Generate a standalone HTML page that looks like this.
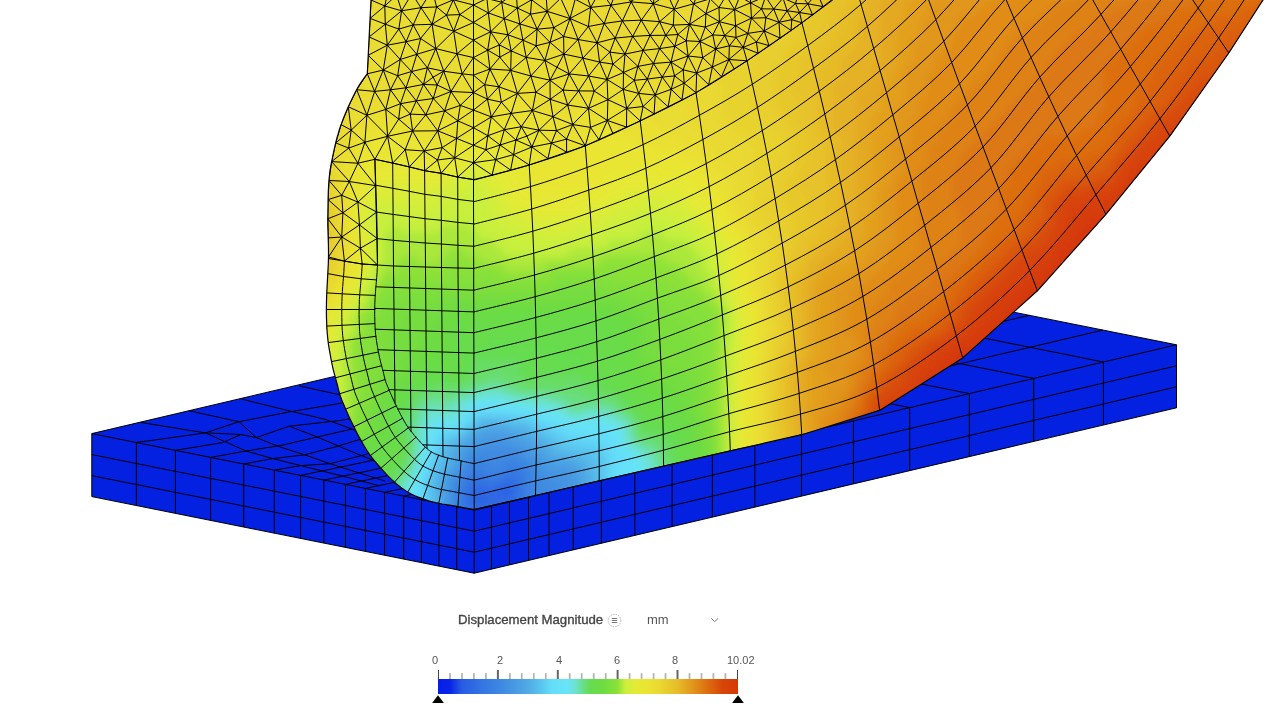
<!DOCTYPE html>
<html><head><meta charset="utf-8"><title>Displacement Magnitude</title>
<style>
html,body{margin:0;padding:0;background:#fff;overflow:hidden}
body{width:1267px;height:707px;position:relative;font-family:"Liberation Sans",sans-serif}
svg{position:absolute;left:0;top:0;display:block}
.t{position:absolute;color:#444;white-space:nowrap;line-height:1}
.tk{position:absolute;top:655px;font-size:11px;color:#555;line-height:1;white-space:nowrap}
</style></head><body>
<svg width="1267" height="707" viewBox="0 0 1267 707">
<path d="M91.8 433.6 L794.1 268.2 L1176.5 344.8 L1176.5 407.8 L474.2 573.2 L91.8 496.6Z" fill="#0420e0"/>
<path d="M91.8 433.6 L794.1 268.2 L1176.5 344.8 L1176.5 407.8 L474.2 573.2 L91.8 496.6 L91.8 433.6M91.8 433.6 L474.2 510.2 L1176.5 344.8M474.2 510.2 L474.2 573.2M136.4 442.5 L136.4 505.5M175.4 450.3 L175.4 513.3M210.6 457.4 L210.6 520.4M243.7 464 L243.7 527M274.3 470.2 L274.3 533.2M300.6 475.4 L300.6 538.4M323.9 480.1 L323.9 543.1M345.5 484.4 L345.5 547.4M365.5 488.4 L365.5 551.4M384.6 492.3 L384.6 555.3M403.7 496.1 L403.7 559.1M421.5 499.6 L421.5 562.6M438.9 503.1 L438.9 566.1M456.7 506.7 L456.7 569.7M491.5 506.1 L491.5 569.1M509.5 501.9 L509.5 564.9M528.5 497.4 L528.5 560.4M549 492.6 L549 555.6M573.2 486.9 L573.2 549.9M601.4 480.2 L601.4 543.2M634.8 472.4 L634.8 535.4M672.1 463.6 L672.1 526.6M712.4 454.1 L712.4 517.1M754.9 444.1 L754.9 507.1M801.5 433.1 L801.5 496.1M853.5 420.9 L853.5 483.9M909.7 407.6 L909.7 470.6M969.4 393.6 L969.4 456.6M1033.7 378.4 L1033.7 441.4M1103.4 362 L1103.4 425M91.8 454.6 L474.2 531.2 L1176.5 365.8M91.8 475.6 L474.2 552.2 L1176.5 386.8M909.7 407.6 L527.3 331M969.4 393.6 L587 317M1033.7 378.4 L651.3 301.8M1103.4 362 L721 285.4M716.6 421 L1102.9 330.1M643 406.3 L1029.3 315.3M569.4 391.5 L955.7 300.6M495.8 376.8 L882.1 285.8M136.4 442.5 L205.3 432.9 L239 421.7 L291.8 411.5 L340.2 403.3 L365 398.6M140.3 422.4 L205.3 432.9 L240.9 434.5 L256.2 437.6M189.5 410.9 L239 421.7 L256.2 437.6 L279 446.6 L304.6 454.8 L330 463.7 L356 472 L385 481M241.7 399.1 L291.8 411.5 L324.4 419.1 L352 429 L380 442 L400 451M299 385.8 L337 394.2 L365 398.6M175.4 450.3 L222.6 442.6 L240.9 434.5M210.6 457.4 L246 451 L281.6 445.3 L317.3 437 L352 429M243.7 464 L272.7 458.6 L304.6 454.8 L335 447 L368 437M274.3 470.2 L300.7 465.6 L330 463.7 L360 456 L385 449M289.3 426.2 L317.3 437 L350 451 L375 461 L400 470M256.2 437.6 L289.3 426.2 L340.2 420.5 L362 416.5M205.3 432.9 L246 451 L272.7 458.6 L300.7 465.6 L323.7 471.4 L350 478 L380 486M300.6 475.4 L410.6 452.4M323.9 480.1 L433.9 457.1M345.5 484.4 L455.5 461.4M365.5 488.4 L475.5 465.4M384.6 492.3 L494.6 469.3M403.7 496.1 L513.7 473.1M421.5 499.6 L531.5 476.6M438.9 503.1 L548.9 480.1M456.7 506.7 L566.7 483.7" fill="none" stroke="#000" stroke-width="1" stroke-linejoin="round"/>
<defs><clipPath id="bc"><path d="M371 0 L367.3 73.8 L366.3 75.1 L365 76.8 L363.5 78.9 L361.8 81.3 L360.1 83.9 L358.4 86.6 L356.8 89.5 L355 92.7 L353.3 96.2 L351.6 99.7 L349.8 103.4 L348.2 107 L346.6 110.7 L345 114.4 L343.5 118.2 L342 122.1 L340.6 126 L339.3 130 L338.1 134.1 L336.9 138.2 L335.8 142.4 L334.8 146.6 L333.9 150.8 L333 155 L332.2 159 L331.4 162.8 L330.7 166.6 L330 170.6 L329.5 175 L329 180 L328.6 185.7 L328.3 192 L328.1 198.7 L328 205.6 L327.9 212.4 L327.8 219 L327.8 225.3 L328 231.5 L328.2 237.7 L328.4 243.9 L328.5 250.3 L328.5 257 L328.3 264.1 L327.9 271.6 L327.5 279.3 L327.1 286.9 L326.7 294.2 L326.5 301 L326.4 307.2 L326.4 313 L326.5 318.5 L326.7 323.8 L326.9 328.9 L327.3 334 L327.8 339 L328.4 344 L329.2 348.8 L330 353.4 L330.8 357.8 L331.6 362 L332.4 365.9 L333.2 369.5 L334.1 372.9 L335 376.1 L335.8 379.2 L336.7 382.4 L337.5 385.4 L338.1 388.1 L338.8 390.7 L339.5 393.5 L340.5 396.5 L341.8 400 L343.5 404.1 L345.5 408.7 L347.7 413.7 L350 418.7 L352.3 423.5 L354.5 428 L356.6 432.2 L358.7 436.2 L360.8 440.1 L362.9 443.9 L365.1 447.5 L367.3 451 L369.5 454.3 L371.8 457.4 L374.1 460.3 L376.5 463.2 L378.9 466 L381.3 468.7 L383.8 471.4 L386.3 474.2 L388.9 476.8 L391.5 479.4 L394 481.8 L396.6 484 L399.1 486 L401.5 487.9 L403.9 489.6 L406.4 491.2 L409 492.7 L411.8 494.2 L414.9 495.7 L418.2 497.1 L421.7 498.4 L425.2 499.6 L428.7 500.8 L432.2 501.8 L435.6 502.7 L439 503.4 L442.3 504 L445.7 504.5 L449.1 505.1 L452.6 505.7 L456.4 506.4 L460.5 507.1 L464.7 507.8 L468.6 508.5 L471.8 509.1 L474.2 509.5 L535.5 495.5 L599.2 480.9 L663.6 466.2 L730.3 450.9 L801.8 434.7 L879.6 410.4 L962.7 357.9 L1037.4 290.8 L1105.9 214.3 L1169.8 136.2 L1228.8 53 L1280.4 -27 L1300 -40 L1300 -80 L371 -80Z"/></clipPath>
<filter id="bl" x="-5%" y="-5%" width="110%" height="110%"><feGaussianBlur stdDeviation="5"/></filter></defs>
<g clip-path="url(#bc)"><rect x="300" y="-10" width="980" height="540" fill="#e8c830"/><g filter="url(#bl)"><rect x="352" y="-8" width="25" height="9" fill="#e9d930"/><rect x="376" y="-8" width="153" height="9" fill="#e9dc31"/><rect x="528" y="-8" width="217" height="9" fill="#e9d930"/><rect x="744" y="-8" width="41" height="9" fill="#e8d32f"/><rect x="784" y="-8" width="25" height="9" fill="#e8ce2d"/><rect x="808" y="-8" width="25" height="9" fill="#e7c82b"/><rect x="832" y="-8" width="17" height="9" fill="#e7c22a"/><rect x="848" y="-8" width="17" height="9" fill="#e6bc28"/><rect x="864" y="-8" width="25" height="9" fill="#e5b225"/><rect x="888" y="-8" width="17" height="9" fill="#e4a922"/><rect x="904" y="-8" width="33" height="9" fill="#e2a01f"/><rect x="936" y="-8" width="65" height="9" fill="#e1961c"/><rect x="1000" y="-8" width="73" height="9" fill="#e08c19"/><rect x="1072" y="-8" width="73" height="9" fill="#de8216"/><rect x="1144" y="-8" width="73" height="9" fill="#dd7812"/><rect x="1216" y="-8" width="57" height="9" fill="#dc6e0f"/><rect x="352" y="0" width="25" height="9" fill="#e9d930"/><rect x="376" y="0" width="153" height="9" fill="#e9dc31"/><rect x="528" y="0" width="217" height="9" fill="#e9d930"/><rect x="744" y="0" width="41" height="9" fill="#e8d32f"/><rect x="784" y="0" width="25" height="9" fill="#e8ce2d"/><rect x="808" y="0" width="17" height="9" fill="#e7c82b"/><rect x="824" y="0" width="25" height="9" fill="#e7c22a"/><rect x="848" y="0" width="17" height="9" fill="#e6bc28"/><rect x="864" y="0" width="17" height="9" fill="#e5b225"/><rect x="880" y="0" width="25" height="9" fill="#e4a922"/><rect x="904" y="0" width="25" height="9" fill="#e2a01f"/><rect x="928" y="0" width="57" height="9" fill="#e1961c"/><rect x="984" y="0" width="73" height="9" fill="#e08c19"/><rect x="1056" y="0" width="73" height="9" fill="#de8216"/><rect x="1128" y="0" width="65" height="9" fill="#dd7812"/><rect x="1192" y="0" width="65" height="9" fill="#dc6e0f"/><rect x="1256" y="0" width="17" height="9" fill="#db640d"/><rect x="352" y="8" width="17" height="9" fill="#e9d930"/><rect x="368" y="8" width="153" height="9" fill="#e9dc31"/><rect x="520" y="8" width="225" height="9" fill="#e9d930"/><rect x="744" y="8" width="41" height="9" fill="#e8d32f"/><rect x="784" y="8" width="25" height="9" fill="#e8ce2d"/><rect x="808" y="8" width="17" height="9" fill="#e7c82b"/><rect x="824" y="8" width="17" height="9" fill="#e7c22a"/><rect x="840" y="8" width="25" height="9" fill="#e6bc28"/><rect x="864" y="8" width="17" height="9" fill="#e5b225"/><rect x="880" y="8" width="25" height="9" fill="#e4a922"/><rect x="904" y="8" width="25" height="9" fill="#e2a01f"/><rect x="928" y="8" width="49" height="9" fill="#e1961c"/><rect x="976" y="8" width="73" height="9" fill="#e08c19"/><rect x="1048" y="8" width="65" height="9" fill="#de8216"/><rect x="1112" y="8" width="65" height="9" fill="#dd7812"/><rect x="1176" y="8" width="65" height="9" fill="#dc6e0f"/><rect x="1240" y="8" width="33" height="9" fill="#db640d"/><rect x="352" y="16" width="17" height="9" fill="#e9d930"/><rect x="368" y="16" width="153" height="9" fill="#e9dc31"/><rect x="520" y="16" width="217" height="9" fill="#e9d930"/><rect x="736" y="16" width="41" height="9" fill="#e8d32f"/><rect x="776" y="16" width="33" height="9" fill="#e8ce2d"/><rect x="808" y="16" width="17" height="9" fill="#e7c82b"/><rect x="824" y="16" width="17" height="9" fill="#e7c22a"/><rect x="840" y="16" width="17" height="9" fill="#e6bc28"/><rect x="856" y="16" width="25" height="9" fill="#e5b225"/><rect x="880" y="16" width="25" height="9" fill="#e4a922"/><rect x="904" y="16" width="17" height="9" fill="#e2a01f"/><rect x="920" y="16" width="41" height="9" fill="#e1961c"/><rect x="960" y="16" width="81" height="9" fill="#e08c19"/><rect x="1040" y="16" width="57" height="9" fill="#de8216"/><rect x="1096" y="16" width="65" height="9" fill="#dd7812"/><rect x="1160" y="16" width="57" height="9" fill="#dc6e0f"/><rect x="1216" y="16" width="49" height="9" fill="#db640d"/><rect x="1264" y="16" width="9" height="9" fill="#da5a0c"/><rect x="352" y="24" width="17" height="9" fill="#e9d930"/><rect x="368" y="24" width="153" height="9" fill="#e9dc31"/><rect x="520" y="24" width="209" height="9" fill="#e9d930"/><rect x="728" y="24" width="49" height="9" fill="#e8d32f"/><rect x="776" y="24" width="25" height="9" fill="#e8ce2d"/><rect x="800" y="24" width="25" height="9" fill="#e7c82b"/><rect x="824" y="24" width="17" height="9" fill="#e7c22a"/><rect x="840" y="24" width="17" height="9" fill="#e6bc28"/><rect x="856" y="24" width="25" height="9" fill="#e5b225"/><rect x="880" y="24" width="17" height="9" fill="#e4a922"/><rect x="896" y="24" width="25" height="9" fill="#e2a01f"/><rect x="920" y="24" width="41" height="9" fill="#e1961c"/><rect x="960" y="24" width="65" height="9" fill="#e08c19"/><rect x="1024" y="24" width="65" height="9" fill="#de8216"/><rect x="1088" y="24" width="57" height="9" fill="#dd7812"/><rect x="1144" y="24" width="57" height="9" fill="#dc6e0f"/><rect x="1200" y="24" width="49" height="9" fill="#db640d"/><rect x="1248" y="24" width="17" height="9" fill="#da5a0c"/><rect x="352" y="32" width="17" height="9" fill="#e9d930"/><rect x="368" y="32" width="153" height="9" fill="#e9dc31"/><rect x="520" y="32" width="201" height="9" fill="#e9d930"/><rect x="720" y="32" width="49" height="9" fill="#e8d32f"/><rect x="768" y="32" width="33" height="9" fill="#e8ce2d"/><rect x="800" y="32" width="17" height="9" fill="#e7c82b"/><rect x="816" y="32" width="17" height="9" fill="#e7c22a"/><rect x="832" y="32" width="25" height="9" fill="#e6bc28"/><rect x="856" y="32" width="25" height="9" fill="#e5b225"/><rect x="880" y="32" width="17" height="9" fill="#e4a922"/><rect x="896" y="32" width="25" height="9" fill="#e2a01f"/><rect x="920" y="32" width="33" height="9" fill="#e1961c"/><rect x="952" y="32" width="65" height="9" fill="#e08c19"/><rect x="1016" y="32" width="57" height="9" fill="#de8216"/><rect x="1072" y="32" width="65" height="9" fill="#dd7812"/><rect x="1136" y="32" width="49" height="9" fill="#dc6e0f"/><rect x="1184" y="32" width="49" height="9" fill="#db640d"/><rect x="1232" y="32" width="33" height="9" fill="#da5a0c"/><rect x="352" y="40" width="17" height="9" fill="#e9d930"/><rect x="368" y="40" width="161" height="9" fill="#e9dc31"/><rect x="528" y="40" width="193" height="9" fill="#e9d930"/><rect x="720" y="40" width="49" height="9" fill="#e8d32f"/><rect x="768" y="40" width="25" height="9" fill="#e8ce2d"/><rect x="792" y="40" width="25" height="9" fill="#e7c82b"/><rect x="816" y="40" width="17" height="9" fill="#e7c22a"/><rect x="832" y="40" width="25" height="9" fill="#e6bc28"/><rect x="856" y="40" width="25" height="9" fill="#e5b225"/><rect x="880" y="40" width="17" height="9" fill="#e4a922"/><rect x="896" y="40" width="17" height="9" fill="#e2a01f"/><rect x="912" y="40" width="41" height="9" fill="#e1961c"/><rect x="952" y="40" width="57" height="9" fill="#e08c19"/><rect x="1008" y="40" width="57" height="9" fill="#de8216"/><rect x="1064" y="40" width="65" height="9" fill="#dd7812"/><rect x="1128" y="40" width="49" height="9" fill="#dc6e0f"/><rect x="1176" y="40" width="41" height="9" fill="#db640d"/><rect x="1216" y="40" width="33" height="9" fill="#da5a0c"/><rect x="1248" y="40" width="9" height="9" fill="#d8500a"/><rect x="352" y="48" width="17" height="9" fill="#e9d930"/><rect x="368" y="48" width="169" height="9" fill="#e9dc31"/><rect x="536" y="48" width="177" height="9" fill="#e9d930"/><rect x="712" y="48" width="49" height="9" fill="#e8d32f"/><rect x="760" y="48" width="25" height="9" fill="#e8ce2d"/><rect x="784" y="48" width="25" height="9" fill="#e7c82b"/><rect x="808" y="48" width="17" height="9" fill="#e7c22a"/><rect x="824" y="48" width="25" height="9" fill="#e6bc28"/><rect x="848" y="48" width="33" height="9" fill="#e5b225"/><rect x="880" y="48" width="17" height="9" fill="#e4a922"/><rect x="896" y="48" width="17" height="9" fill="#e2a01f"/><rect x="912" y="48" width="33" height="9" fill="#e1961c"/><rect x="944" y="48" width="57" height="9" fill="#e08c19"/><rect x="1000" y="48" width="57" height="9" fill="#de8216"/><rect x="1056" y="48" width="65" height="9" fill="#dd7812"/><rect x="1120" y="48" width="49" height="9" fill="#dc6e0f"/><rect x="1168" y="48" width="41" height="9" fill="#db640d"/><rect x="1208" y="48" width="33" height="9" fill="#da5a0c"/><rect x="1240" y="48" width="9" height="9" fill="#d8500a"/><rect x="352" y="56" width="17" height="9" fill="#e9d930"/><rect x="368" y="56" width="185" height="9" fill="#e9dc31"/><rect x="552" y="56" width="161" height="9" fill="#e9d930"/><rect x="712" y="56" width="41" height="9" fill="#e8d32f"/><rect x="752" y="56" width="33" height="9" fill="#e8ce2d"/><rect x="784" y="56" width="17" height="9" fill="#e7c82b"/><rect x="800" y="56" width="25" height="9" fill="#e7c22a"/><rect x="824" y="56" width="17" height="9" fill="#e6bc28"/><rect x="840" y="56" width="41" height="9" fill="#e5b225"/><rect x="880" y="56" width="17" height="9" fill="#e4a922"/><rect x="896" y="56" width="17" height="9" fill="#e2a01f"/><rect x="912" y="56" width="25" height="9" fill="#e1961c"/><rect x="936" y="56" width="65" height="9" fill="#e08c19"/><rect x="1000" y="56" width="49" height="9" fill="#de8216"/><rect x="1048" y="56" width="65" height="9" fill="#dd7812"/><rect x="1112" y="56" width="49" height="9" fill="#dc6e0f"/><rect x="1160" y="56" width="33" height="9" fill="#db640d"/><rect x="1192" y="56" width="33" height="9" fill="#da5a0c"/><rect x="1224" y="56" width="25" height="9" fill="#d8500a"/><rect x="352" y="64" width="17" height="9" fill="#e9d930"/><rect x="368" y="64" width="265" height="9" fill="#e9dc31"/><rect x="632" y="64" width="81" height="9" fill="#e9d930"/><rect x="712" y="64" width="41" height="9" fill="#e8d32f"/><rect x="752" y="64" width="25" height="9" fill="#e8ce2d"/><rect x="776" y="64" width="25" height="9" fill="#e7c82b"/><rect x="800" y="64" width="17" height="9" fill="#e7c22a"/><rect x="816" y="64" width="25" height="9" fill="#e6bc28"/><rect x="840" y="64" width="33" height="9" fill="#e5b225"/><rect x="872" y="64" width="25" height="9" fill="#e4a922"/><rect x="896" y="64" width="9" height="9" fill="#e2a01f"/><rect x="904" y="64" width="33" height="9" fill="#e1961c"/><rect x="936" y="64" width="57" height="9" fill="#e08c19"/><rect x="992" y="64" width="57" height="9" fill="#de8216"/><rect x="1048" y="64" width="57" height="9" fill="#dd7812"/><rect x="1104" y="64" width="49" height="9" fill="#dc6e0f"/><rect x="1152" y="64" width="33" height="9" fill="#db640d"/><rect x="1184" y="64" width="33" height="9" fill="#da5a0c"/><rect x="1216" y="64" width="25" height="9" fill="#d8500a"/><rect x="344" y="72" width="17" height="9" fill="#e9d930"/><rect x="360" y="72" width="289" height="9" fill="#e9dc31"/><rect x="648" y="72" width="65" height="9" fill="#e9d930"/><rect x="712" y="72" width="41" height="9" fill="#e8d32f"/><rect x="752" y="72" width="25" height="9" fill="#e8ce2d"/><rect x="776" y="72" width="25" height="9" fill="#e7c82b"/><rect x="800" y="72" width="17" height="9" fill="#e7c22a"/><rect x="816" y="72" width="25" height="9" fill="#e6bc28"/><rect x="840" y="72" width="33" height="9" fill="#e5b225"/><rect x="872" y="72" width="17" height="9" fill="#e4a922"/><rect x="888" y="72" width="17" height="9" fill="#e2a01f"/><rect x="904" y="72" width="25" height="9" fill="#e1961c"/><rect x="928" y="72" width="57" height="9" fill="#e08c19"/><rect x="984" y="72" width="57" height="9" fill="#de8216"/><rect x="1040" y="72" width="65" height="9" fill="#dd7812"/><rect x="1104" y="72" width="49" height="9" fill="#dc6e0f"/><rect x="1152" y="72" width="25" height="9" fill="#db640d"/><rect x="1176" y="72" width="25" height="9" fill="#da5a0c"/><rect x="1200" y="72" width="25" height="9" fill="#d8500a"/><rect x="1224" y="72" width="9" height="9" fill="#d74608"/><rect x="336" y="80" width="25" height="9" fill="#e9d930"/><rect x="360" y="80" width="305" height="9" fill="#e9dc31"/><rect x="664" y="80" width="57" height="9" fill="#e9d930"/><rect x="720" y="80" width="33" height="9" fill="#e8d32f"/><rect x="752" y="80" width="25" height="9" fill="#e8ce2d"/><rect x="776" y="80" width="17" height="9" fill="#e7c82b"/><rect x="792" y="80" width="25" height="9" fill="#e7c22a"/><rect x="816" y="80" width="17" height="9" fill="#e6bc28"/><rect x="832" y="80" width="33" height="9" fill="#e5b225"/><rect x="864" y="80" width="25" height="9" fill="#e4a922"/><rect x="888" y="80" width="17" height="9" fill="#e2a01f"/><rect x="904" y="80" width="25" height="9" fill="#e1961c"/><rect x="928" y="80" width="49" height="9" fill="#e08c19"/><rect x="976" y="80" width="57" height="9" fill="#de8216"/><rect x="1032" y="80" width="73" height="9" fill="#dd7812"/><rect x="1104" y="80" width="41" height="9" fill="#dc6e0f"/><rect x="1144" y="80" width="25" height="9" fill="#db640d"/><rect x="1168" y="80" width="25" height="9" fill="#da5a0c"/><rect x="1192" y="80" width="25" height="9" fill="#d8500a"/><rect x="1216" y="80" width="17" height="9" fill="#d74608"/><rect x="336" y="88" width="25" height="9" fill="#e9d930"/><rect x="360" y="88" width="313" height="9" fill="#e9dc31"/><rect x="672" y="88" width="49" height="9" fill="#e9d930"/><rect x="720" y="88" width="33" height="9" fill="#e8d32f"/><rect x="752" y="88" width="25" height="9" fill="#e8ce2d"/><rect x="776" y="88" width="17" height="9" fill="#e7c82b"/><rect x="792" y="88" width="25" height="9" fill="#e7c22a"/><rect x="816" y="88" width="17" height="9" fill="#e6bc28"/><rect x="832" y="88" width="25" height="9" fill="#e5b225"/><rect x="856" y="88" width="25" height="9" fill="#e4a922"/><rect x="880" y="88" width="25" height="9" fill="#e2a01f"/><rect x="904" y="88" width="25" height="9" fill="#e1961c"/><rect x="928" y="88" width="41" height="9" fill="#e08c19"/><rect x="968" y="88" width="57" height="9" fill="#de8216"/><rect x="1024" y="88" width="81" height="9" fill="#dd7812"/><rect x="1104" y="88" width="41" height="9" fill="#dc6e0f"/><rect x="1144" y="88" width="25" height="9" fill="#db640d"/><rect x="1168" y="88" width="17" height="9" fill="#da5a0c"/><rect x="1184" y="88" width="17" height="9" fill="#d8500a"/><rect x="1200" y="88" width="25" height="9" fill="#d74608"/><rect x="336" y="96" width="17" height="9" fill="#e9d930"/><rect x="352" y="96" width="137" height="9" fill="#e9dc31"/><rect x="488" y="96" width="33" height="9" fill="#eae031"/><rect x="520" y="96" width="65" height="9" fill="#e9dc31"/><rect x="584" y="96" width="41" height="9" fill="#eae031"/><rect x="624" y="96" width="57" height="9" fill="#e9dc31"/><rect x="680" y="96" width="41" height="9" fill="#e9d930"/><rect x="720" y="96" width="33" height="9" fill="#e8d32f"/><rect x="752" y="96" width="25" height="9" fill="#e8ce2d"/><rect x="776" y="96" width="25" height="9" fill="#e7c82b"/><rect x="800" y="96" width="17" height="9" fill="#e7c22a"/><rect x="816" y="96" width="17" height="9" fill="#e6bc28"/><rect x="832" y="96" width="25" height="9" fill="#e5b225"/><rect x="856" y="96" width="25" height="9" fill="#e4a922"/><rect x="880" y="96" width="25" height="9" fill="#e2a01f"/><rect x="904" y="96" width="17" height="9" fill="#e1961c"/><rect x="920" y="96" width="41" height="9" fill="#e08c19"/><rect x="960" y="96" width="57" height="9" fill="#de8216"/><rect x="1016" y="96" width="89" height="9" fill="#dd7812"/><rect x="1104" y="96" width="33" height="9" fill="#dc6e0f"/><rect x="1136" y="96" width="25" height="9" fill="#db640d"/><rect x="1160" y="96" width="17" height="9" fill="#da5a0c"/><rect x="1176" y="96" width="17" height="9" fill="#d8500a"/><rect x="1192" y="96" width="17" height="9" fill="#d74608"/><rect x="1208" y="96" width="9" height="9" fill="#d74308"/><rect x="328" y="104" width="9" height="9" fill="#e8d32f"/><rect x="336" y="104" width="17" height="9" fill="#e9d930"/><rect x="352" y="104" width="25" height="9" fill="#e9dc31"/><rect x="376" y="104" width="41" height="9" fill="#eae031"/><rect x="416" y="104" width="57" height="9" fill="#e9dc31"/><rect x="472" y="104" width="65" height="9" fill="#eae031"/><rect x="536" y="104" width="41" height="9" fill="#e9dc31"/><rect x="576" y="104" width="57" height="9" fill="#eae031"/><rect x="632" y="104" width="57" height="9" fill="#e9dc31"/><rect x="688" y="104" width="33" height="9" fill="#e9d930"/><rect x="720" y="104" width="33" height="9" fill="#e8d32f"/><rect x="752" y="104" width="25" height="9" fill="#e8ce2d"/><rect x="776" y="104" width="25" height="9" fill="#e7c82b"/><rect x="800" y="104" width="17" height="9" fill="#e7c22a"/><rect x="816" y="104" width="17" height="9" fill="#e6bc28"/><rect x="832" y="104" width="25" height="9" fill="#e5b225"/><rect x="856" y="104" width="25" height="9" fill="#e4a922"/><rect x="880" y="104" width="17" height="9" fill="#e2a01f"/><rect x="896" y="104" width="25" height="9" fill="#e1961c"/><rect x="920" y="104" width="33" height="9" fill="#e08c19"/><rect x="952" y="104" width="57" height="9" fill="#de8216"/><rect x="1008" y="104" width="97" height="9" fill="#dd7812"/><rect x="1104" y="104" width="33" height="9" fill="#dc6e0f"/><rect x="1136" y="104" width="17" height="9" fill="#db640d"/><rect x="1152" y="104" width="17" height="9" fill="#da5a0c"/><rect x="1168" y="104" width="17" height="9" fill="#d8500a"/><rect x="1184" y="104" width="17" height="9" fill="#d74608"/><rect x="1200" y="104" width="17" height="9" fill="#d74308"/><rect x="328" y="112" width="9" height="9" fill="#e8d32f"/><rect x="336" y="112" width="9" height="9" fill="#e9d930"/><rect x="344" y="112" width="25" height="9" fill="#e9dc31"/><rect x="368" y="112" width="65" height="9" fill="#eae031"/><rect x="432" y="112" width="25" height="9" fill="#e9dc31"/><rect x="456" y="112" width="193" height="9" fill="#eae031"/><rect x="648" y="112" width="41" height="9" fill="#e9dc31"/><rect x="688" y="112" width="33" height="9" fill="#e9d930"/><rect x="720" y="112" width="41" height="9" fill="#e8d32f"/><rect x="760" y="112" width="25" height="9" fill="#e8ce2d"/><rect x="784" y="112" width="17" height="9" fill="#e7c82b"/><rect x="800" y="112" width="17" height="9" fill="#e7c22a"/><rect x="816" y="112" width="17" height="9" fill="#e6bc28"/><rect x="832" y="112" width="25" height="9" fill="#e5b225"/><rect x="856" y="112" width="17" height="9" fill="#e4a922"/><rect x="872" y="112" width="25" height="9" fill="#e2a01f"/><rect x="896" y="112" width="25" height="9" fill="#e1961c"/><rect x="920" y="112" width="33" height="9" fill="#e08c19"/><rect x="952" y="112" width="49" height="9" fill="#de8216"/><rect x="1000" y="112" width="97" height="9" fill="#dd7812"/><rect x="1096" y="112" width="33" height="9" fill="#dc6e0f"/><rect x="1128" y="112" width="17" height="9" fill="#db640d"/><rect x="1144" y="112" width="17" height="9" fill="#da5a0c"/><rect x="1160" y="112" width="17" height="9" fill="#d8500a"/><rect x="1176" y="112" width="17" height="9" fill="#d74608"/><rect x="1192" y="112" width="17" height="9" fill="#d74308"/><rect x="320" y="120" width="9" height="9" fill="#e8d32f"/><rect x="328" y="120" width="17" height="9" fill="#e9d930"/><rect x="344" y="120" width="17" height="9" fill="#e9dc31"/><rect x="360" y="120" width="129" height="9" fill="#eae031"/><rect x="488" y="120" width="33" height="9" fill="#eae432"/><rect x="520" y="120" width="81" height="9" fill="#eae031"/><rect x="600" y="120" width="9" height="9" fill="#eae432"/><rect x="608" y="120" width="49" height="9" fill="#eae031"/><rect x="656" y="120" width="41" height="9" fill="#e9dc31"/><rect x="696" y="120" width="33" height="9" fill="#e9d930"/><rect x="728" y="120" width="41" height="9" fill="#e8d32f"/><rect x="768" y="120" width="17" height="9" fill="#e8ce2d"/><rect x="784" y="120" width="17" height="9" fill="#e7c82b"/><rect x="800" y="120" width="17" height="9" fill="#e7c22a"/><rect x="816" y="120" width="17" height="9" fill="#e6bc28"/><rect x="832" y="120" width="25" height="9" fill="#e5b225"/><rect x="856" y="120" width="17" height="9" fill="#e4a922"/><rect x="872" y="120" width="25" height="9" fill="#e2a01f"/><rect x="896" y="120" width="17" height="9" fill="#e1961c"/><rect x="912" y="120" width="33" height="9" fill="#e08c19"/><rect x="944" y="120" width="49" height="9" fill="#de8216"/><rect x="992" y="120" width="105" height="9" fill="#dd7812"/><rect x="1096" y="120" width="25" height="9" fill="#dc6e0f"/><rect x="1120" y="120" width="17" height="9" fill="#db640d"/><rect x="1136" y="120" width="17" height="9" fill="#da5a0c"/><rect x="1152" y="120" width="9" height="9" fill="#d8500a"/><rect x="1160" y="120" width="17" height="9" fill="#d74608"/><rect x="1176" y="120" width="17" height="9" fill="#d74308"/><rect x="1192" y="120" width="9" height="9" fill="#d73f08"/><rect x="320" y="128" width="9" height="9" fill="#e8d32f"/><rect x="328" y="128" width="17" height="9" fill="#e9d930"/><rect x="344" y="128" width="9" height="9" fill="#e9dc31"/><rect x="352" y="128" width="33" height="9" fill="#eae031"/><rect x="384" y="128" width="17" height="9" fill="#eae432"/><rect x="400" y="128" width="73" height="9" fill="#eae031"/><rect x="472" y="128" width="65" height="9" fill="#eae432"/><rect x="536" y="128" width="57" height="9" fill="#eae031"/><rect x="592" y="128" width="25" height="9" fill="#eae432"/><rect x="616" y="128" width="49" height="9" fill="#eae031"/><rect x="664" y="128" width="41" height="9" fill="#e9dc31"/><rect x="704" y="128" width="33" height="9" fill="#e9d930"/><rect x="736" y="128" width="41" height="9" fill="#e8d32f"/><rect x="776" y="128" width="17" height="9" fill="#e8ce2d"/><rect x="792" y="128" width="17" height="9" fill="#e7c82b"/><rect x="808" y="128" width="9" height="9" fill="#e7c22a"/><rect x="816" y="128" width="17" height="9" fill="#e6bc28"/><rect x="832" y="128" width="25" height="9" fill="#e5b225"/><rect x="856" y="128" width="17" height="9" fill="#e4a922"/><rect x="872" y="128" width="25" height="9" fill="#e2a01f"/><rect x="896" y="128" width="17" height="9" fill="#e1961c"/><rect x="912" y="128" width="25" height="9" fill="#e08c19"/><rect x="936" y="128" width="49" height="9" fill="#de8216"/><rect x="984" y="128" width="97" height="9" fill="#dd7812"/><rect x="1080" y="128" width="33" height="9" fill="#dc6e0f"/><rect x="1112" y="128" width="17" height="9" fill="#db640d"/><rect x="1128" y="128" width="17" height="9" fill="#da5a0c"/><rect x="1144" y="128" width="9" height="9" fill="#d8500a"/><rect x="1152" y="128" width="17" height="9" fill="#d74608"/><rect x="1168" y="128" width="17" height="9" fill="#d74308"/><rect x="1184" y="128" width="9" height="9" fill="#d73f08"/><rect x="320" y="136" width="9" height="9" fill="#e8d32f"/><rect x="328" y="136" width="9" height="9" fill="#e9d930"/><rect x="336" y="136" width="17" height="9" fill="#e9dc31"/><rect x="352" y="136" width="17" height="9" fill="#eae031"/><rect x="368" y="136" width="57" height="9" fill="#eae432"/><rect x="424" y="136" width="33" height="9" fill="#eae031"/><rect x="456" y="136" width="33" height="9" fill="#eae432"/><rect x="488" y="136" width="25" height="9" fill="#e8e633"/><rect x="512" y="136" width="33" height="9" fill="#eae432"/><rect x="544" y="136" width="41" height="9" fill="#eae031"/><rect x="584" y="136" width="49" height="9" fill="#eae432"/><rect x="632" y="136" width="49" height="9" fill="#eae031"/><rect x="680" y="136" width="25" height="9" fill="#e9dc31"/><rect x="704" y="136" width="41" height="9" fill="#e9d930"/><rect x="744" y="136" width="33" height="9" fill="#e8d32f"/><rect x="776" y="136" width="17" height="9" fill="#e8ce2d"/><rect x="792" y="136" width="17" height="9" fill="#e7c82b"/><rect x="808" y="136" width="17" height="9" fill="#e7c22a"/><rect x="824" y="136" width="17" height="9" fill="#e6bc28"/><rect x="840" y="136" width="17" height="9" fill="#e5b225"/><rect x="856" y="136" width="17" height="9" fill="#e4a922"/><rect x="872" y="136" width="17" height="9" fill="#e2a01f"/><rect x="888" y="136" width="25" height="9" fill="#e1961c"/><rect x="912" y="136" width="25" height="9" fill="#e08c19"/><rect x="936" y="136" width="41" height="9" fill="#de8216"/><rect x="976" y="136" width="65" height="9" fill="#dd7812"/><rect x="1040" y="136" width="73" height="9" fill="#dc6e0f"/><rect x="1112" y="136" width="9" height="9" fill="#db640d"/><rect x="1120" y="136" width="17" height="9" fill="#da5a0c"/><rect x="1136" y="136" width="9" height="9" fill="#d8500a"/><rect x="1144" y="136" width="17" height="9" fill="#d74608"/><rect x="1160" y="136" width="9" height="9" fill="#d74308"/><rect x="1168" y="136" width="17" height="9" fill="#d73f08"/><rect x="1184" y="136" width="9" height="9" fill="#d63c08"/><rect x="320" y="144" width="9" height="9" fill="#e8d32f"/><rect x="328" y="144" width="9" height="9" fill="#e9d930"/><rect x="336" y="144" width="9" height="9" fill="#e9dc31"/><rect x="344" y="144" width="17" height="9" fill="#eae031"/><rect x="360" y="144" width="33" height="9" fill="#eae432"/><rect x="392" y="144" width="9" height="9" fill="#e8e633"/><rect x="400" y="144" width="65" height="9" fill="#eae432"/><rect x="464" y="144" width="65" height="9" fill="#e8e633"/><rect x="528" y="144" width="33" height="9" fill="#eae432"/><rect x="560" y="144" width="17" height="9" fill="#eae031"/><rect x="576" y="144" width="81" height="9" fill="#eae432"/><rect x="656" y="144" width="41" height="9" fill="#eae031"/><rect x="696" y="144" width="17" height="9" fill="#e9dc31"/><rect x="712" y="144" width="41" height="9" fill="#e9d930"/><rect x="752" y="144" width="33" height="9" fill="#e8d32f"/><rect x="784" y="144" width="9" height="9" fill="#e8ce2d"/><rect x="792" y="144" width="17" height="9" fill="#e7c82b"/><rect x="808" y="144" width="17" height="9" fill="#e7c22a"/><rect x="824" y="144" width="17" height="9" fill="#e6bc28"/><rect x="840" y="144" width="17" height="9" fill="#e5b225"/><rect x="856" y="144" width="17" height="9" fill="#e4a922"/><rect x="872" y="144" width="17" height="9" fill="#e2a01f"/><rect x="888" y="144" width="17" height="9" fill="#e1961c"/><rect x="904" y="144" width="25" height="9" fill="#e08c19"/><rect x="928" y="144" width="41" height="9" fill="#de8216"/><rect x="968" y="144" width="65" height="9" fill="#dd7812"/><rect x="1032" y="144" width="73" height="9" fill="#dc6e0f"/><rect x="1104" y="144" width="17" height="9" fill="#db640d"/><rect x="1120" y="144" width="9" height="9" fill="#da5a0c"/><rect x="1128" y="144" width="9" height="9" fill="#d8500a"/><rect x="1136" y="144" width="9" height="9" fill="#d74608"/><rect x="1144" y="144" width="17" height="9" fill="#d74308"/><rect x="1160" y="144" width="9" height="9" fill="#d73f08"/><rect x="1168" y="144" width="17" height="9" fill="#d63c08"/><rect x="312" y="152" width="9" height="9" fill="#e8ce2d"/><rect x="320" y="152" width="9" height="9" fill="#e8d32f"/><rect x="328" y="152" width="9" height="9" fill="#e9d930"/><rect x="336" y="152" width="9" height="9" fill="#e9dc31"/><rect x="344" y="152" width="17" height="9" fill="#eae031"/><rect x="360" y="152" width="9" height="9" fill="#eae432"/><rect x="368" y="152" width="97" height="9" fill="#e8e633"/><rect x="464" y="152" width="49" height="9" fill="#e6e834"/><rect x="512" y="152" width="25" height="9" fill="#e8e633"/><rect x="536" y="152" width="145" height="9" fill="#eae432"/><rect x="680" y="152" width="25" height="9" fill="#eae031"/><rect x="704" y="152" width="17" height="9" fill="#e9dc31"/><rect x="720" y="152" width="33" height="9" fill="#e9d930"/><rect x="752" y="152" width="25" height="9" fill="#e8d32f"/><rect x="776" y="152" width="17" height="9" fill="#e8ce2d"/><rect x="792" y="152" width="17" height="9" fill="#e7c82b"/><rect x="808" y="152" width="17" height="9" fill="#e7c22a"/><rect x="824" y="152" width="17" height="9" fill="#e6bc28"/><rect x="840" y="152" width="17" height="9" fill="#e5b225"/><rect x="856" y="152" width="17" height="9" fill="#e4a922"/><rect x="872" y="152" width="17" height="9" fill="#e2a01f"/><rect x="888" y="152" width="17" height="9" fill="#e1961c"/><rect x="904" y="152" width="25" height="9" fill="#e08c19"/><rect x="928" y="152" width="33" height="9" fill="#de8216"/><rect x="960" y="152" width="65" height="9" fill="#dd7812"/><rect x="1024" y="152" width="65" height="9" fill="#dc6e0f"/><rect x="1088" y="152" width="25" height="9" fill="#db640d"/><rect x="1112" y="152" width="9" height="9" fill="#da5a0c"/><rect x="1120" y="152" width="9" height="9" fill="#d8500a"/><rect x="1128" y="152" width="9" height="9" fill="#d74608"/><rect x="1136" y="152" width="17" height="9" fill="#d74308"/><rect x="1152" y="152" width="9" height="9" fill="#d73f08"/><rect x="1160" y="152" width="17" height="9" fill="#d63c08"/><rect x="312" y="160" width="9" height="9" fill="#e7c82b"/><rect x="320" y="160" width="9" height="9" fill="#e8d32f"/><rect x="328" y="160" width="9" height="9" fill="#e9d930"/><rect x="336" y="160" width="9" height="9" fill="#e9dc31"/><rect x="344" y="160" width="9" height="9" fill="#eae031"/><rect x="352" y="160" width="9" height="9" fill="#eae432"/><rect x="360" y="160" width="25" height="9" fill="#e8e633"/><rect x="384" y="160" width="33" height="9" fill="#e6e834"/><rect x="416" y="160" width="25" height="9" fill="#e8e633"/><rect x="440" y="160" width="25" height="9" fill="#e6e834"/><rect x="464" y="160" width="33" height="9" fill="#e4ea36"/><rect x="496" y="160" width="25" height="9" fill="#e6e834"/><rect x="520" y="160" width="17" height="9" fill="#e8e633"/><rect x="536" y="160" width="73" height="9" fill="#eae432"/><rect x="608" y="160" width="65" height="9" fill="#e8e633"/><rect x="672" y="160" width="25" height="9" fill="#eae432"/><rect x="696" y="160" width="17" height="9" fill="#eae031"/><rect x="712" y="160" width="17" height="9" fill="#e9dc31"/><rect x="728" y="160" width="25" height="9" fill="#e9d930"/><rect x="752" y="160" width="25" height="9" fill="#e8d32f"/><rect x="776" y="160" width="17" height="9" fill="#e8ce2d"/><rect x="792" y="160" width="17" height="9" fill="#e7c82b"/><rect x="808" y="160" width="17" height="9" fill="#e7c22a"/><rect x="824" y="160" width="17" height="9" fill="#e6bc28"/><rect x="840" y="160" width="17" height="9" fill="#e5b225"/><rect x="856" y="160" width="17" height="9" fill="#e4a922"/><rect x="872" y="160" width="17" height="9" fill="#e2a01f"/><rect x="888" y="160" width="17" height="9" fill="#e1961c"/><rect x="904" y="160" width="25" height="9" fill="#e08c19"/><rect x="928" y="160" width="33" height="9" fill="#de8216"/><rect x="960" y="160" width="57" height="9" fill="#dd7812"/><rect x="1016" y="160" width="41" height="9" fill="#dc6e0f"/><rect x="1056" y="160" width="49" height="9" fill="#db640d"/><rect x="1104" y="160" width="9" height="9" fill="#da5a0c"/><rect x="1112" y="160" width="9" height="9" fill="#d8500a"/><rect x="1120" y="160" width="9" height="9" fill="#d74608"/><rect x="1128" y="160" width="9" height="9" fill="#d74308"/><rect x="1136" y="160" width="17" height="9" fill="#d73f08"/><rect x="1152" y="160" width="9" height="9" fill="#d63c08"/><rect x="1160" y="160" width="9" height="9" fill="#d63908"/><rect x="312" y="168" width="9" height="9" fill="#e7c82b"/><rect x="320" y="168" width="9" height="9" fill="#e8ce2d"/><rect x="328" y="168" width="9" height="9" fill="#e9d930"/><rect x="336" y="168" width="9" height="9" fill="#e9dc31"/><rect x="344" y="168" width="9" height="9" fill="#eae031"/><rect x="352" y="168" width="9" height="9" fill="#eae432"/><rect x="360" y="168" width="9" height="9" fill="#e8e633"/><rect x="368" y="168" width="73" height="9" fill="#e6e834"/><rect x="440" y="168" width="25" height="9" fill="#e4ea36"/><rect x="464" y="168" width="25" height="9" fill="#dcec38"/><rect x="488" y="168" width="17" height="9" fill="#e4ea36"/><rect x="504" y="168" width="17" height="9" fill="#e6e834"/><rect x="520" y="168" width="25" height="9" fill="#e8e633"/><rect x="544" y="168" width="49" height="9" fill="#eae432"/><rect x="592" y="168" width="49" height="9" fill="#e8e633"/><rect x="640" y="168" width="17" height="9" fill="#e6e834"/><rect x="656" y="168" width="33" height="9" fill="#e8e633"/><rect x="688" y="168" width="17" height="9" fill="#eae432"/><rect x="704" y="168" width="17" height="9" fill="#eae031"/><rect x="720" y="168" width="17" height="9" fill="#e9dc31"/><rect x="736" y="168" width="17" height="9" fill="#e9d930"/><rect x="752" y="168" width="17" height="9" fill="#e8d32f"/><rect x="768" y="168" width="25" height="9" fill="#e8ce2d"/><rect x="792" y="168" width="9" height="9" fill="#e7c82b"/><rect x="800" y="168" width="25" height="9" fill="#e7c22a"/><rect x="824" y="168" width="17" height="9" fill="#e6bc28"/><rect x="840" y="168" width="17" height="9" fill="#e5b225"/><rect x="856" y="168" width="17" height="9" fill="#e4a922"/><rect x="872" y="168" width="17" height="9" fill="#e2a01f"/><rect x="888" y="168" width="17" height="9" fill="#e1961c"/><rect x="904" y="168" width="17" height="9" fill="#e08c19"/><rect x="920" y="168" width="33" height="9" fill="#de8216"/><rect x="952" y="168" width="57" height="9" fill="#dd7812"/><rect x="1008" y="168" width="33" height="9" fill="#dc6e0f"/><rect x="1040" y="168" width="41" height="9" fill="#db640d"/><rect x="1080" y="168" width="33" height="9" fill="#da5a0c"/><rect x="1112" y="168" width="9" height="9" fill="#d8500a"/><rect x="1120" y="168" width="9" height="9" fill="#d74308"/><rect x="1128" y="168" width="9" height="9" fill="#d73f08"/><rect x="1136" y="168" width="17" height="9" fill="#d63c08"/><rect x="1152" y="168" width="9" height="9" fill="#d63908"/><rect x="1160" y="168" width="9" height="9" fill="#d63808"/><rect x="312" y="176" width="9" height="9" fill="#e7c82b"/><rect x="320" y="176" width="9" height="9" fill="#e8ce2d"/><rect x="328" y="176" width="9" height="9" fill="#e8d32f"/><rect x="336" y="176" width="9" height="9" fill="#e9dc31"/><rect x="344" y="176" width="9" height="9" fill="#eae031"/><rect x="352" y="176" width="9" height="9" fill="#eae432"/><rect x="360" y="176" width="9" height="9" fill="#e8e633"/><rect x="368" y="176" width="9" height="9" fill="#e6e834"/><rect x="376" y="176" width="73" height="9" fill="#e4ea36"/><rect x="448" y="176" width="17" height="9" fill="#dcec38"/><rect x="464" y="176" width="17" height="9" fill="#d2ee3a"/><rect x="480" y="176" width="17" height="9" fill="#dcec38"/><rect x="496" y="176" width="17" height="9" fill="#e4ea36"/><rect x="512" y="176" width="17" height="9" fill="#e6e834"/><rect x="528" y="176" width="33" height="9" fill="#e8e633"/><rect x="560" y="176" width="17" height="9" fill="#eae432"/><rect x="576" y="176" width="33" height="9" fill="#e8e633"/><rect x="608" y="176" width="81" height="9" fill="#e6e834"/><rect x="688" y="176" width="17" height="9" fill="#e8e633"/><rect x="704" y="176" width="9" height="9" fill="#eae432"/><rect x="712" y="176" width="17" height="9" fill="#eae031"/><rect x="728" y="176" width="9" height="9" fill="#e9dc31"/><rect x="736" y="176" width="17" height="9" fill="#e9d930"/><rect x="752" y="176" width="17" height="9" fill="#e8d32f"/><rect x="768" y="176" width="17" height="9" fill="#e8ce2d"/><rect x="784" y="176" width="17" height="9" fill="#e7c82b"/><rect x="800" y="176" width="25" height="9" fill="#e7c22a"/><rect x="824" y="176" width="17" height="9" fill="#e6bc28"/><rect x="840" y="176" width="17" height="9" fill="#e5b225"/><rect x="856" y="176" width="17" height="9" fill="#e4a922"/><rect x="872" y="176" width="17" height="9" fill="#e2a01f"/><rect x="888" y="176" width="9" height="9" fill="#e1961c"/><rect x="896" y="176" width="25" height="9" fill="#e08c19"/><rect x="920" y="176" width="33" height="9" fill="#de8216"/><rect x="952" y="176" width="57" height="9" fill="#dd7812"/><rect x="1008" y="176" width="33" height="9" fill="#dc6e0f"/><rect x="1040" y="176" width="17" height="9" fill="#db640d"/><rect x="1056" y="176" width="41" height="9" fill="#da5a0c"/><rect x="1096" y="176" width="17" height="9" fill="#d8500a"/><rect x="1112" y="176" width="9" height="9" fill="#d74608"/><rect x="1120" y="176" width="9" height="9" fill="#d73f08"/><rect x="1128" y="176" width="9" height="9" fill="#d63c08"/><rect x="1136" y="176" width="17" height="9" fill="#d63908"/><rect x="1152" y="176" width="9" height="9" fill="#d63808"/><rect x="312" y="184" width="9" height="9" fill="#e7c22a"/><rect x="320" y="184" width="9" height="9" fill="#e8ce2d"/><rect x="328" y="184" width="9" height="9" fill="#e8d32f"/><rect x="336" y="184" width="9" height="9" fill="#e9dc31"/><rect x="344" y="184" width="9" height="9" fill="#eae031"/><rect x="352" y="184" width="9" height="9" fill="#e8e633"/><rect x="360" y="184" width="9" height="9" fill="#e6e834"/><rect x="368" y="184" width="17" height="9" fill="#e4ea36"/><rect x="384" y="184" width="65" height="9" fill="#dcec38"/><rect x="448" y="184" width="41" height="9" fill="#d2ee3a"/><rect x="488" y="184" width="17" height="9" fill="#dcec38"/><rect x="504" y="184" width="9" height="9" fill="#e4ea36"/><rect x="512" y="184" width="25" height="9" fill="#e6e834"/><rect x="536" y="184" width="57" height="9" fill="#e8e633"/><rect x="592" y="184" width="25" height="9" fill="#e6e834"/><rect x="616" y="184" width="65" height="9" fill="#e4ea36"/><rect x="680" y="184" width="17" height="9" fill="#e6e834"/><rect x="696" y="184" width="17" height="9" fill="#e8e633"/><rect x="712" y="184" width="9" height="9" fill="#eae432"/><rect x="720" y="184" width="9" height="9" fill="#eae031"/><rect x="728" y="184" width="9" height="9" fill="#e9dc31"/><rect x="736" y="184" width="17" height="9" fill="#e9d930"/><rect x="752" y="184" width="17" height="9" fill="#e8d32f"/><rect x="768" y="184" width="17" height="9" fill="#e8ce2d"/><rect x="784" y="184" width="17" height="9" fill="#e7c82b"/><rect x="800" y="184" width="25" height="9" fill="#e7c22a"/><rect x="824" y="184" width="17" height="9" fill="#e6bc28"/><rect x="840" y="184" width="17" height="9" fill="#e5b225"/><rect x="856" y="184" width="17" height="9" fill="#e4a922"/><rect x="872" y="184" width="9" height="9" fill="#e2a01f"/><rect x="880" y="184" width="17" height="9" fill="#e1961c"/><rect x="896" y="184" width="25" height="9" fill="#e08c19"/><rect x="920" y="184" width="33" height="9" fill="#de8216"/><rect x="952" y="184" width="49" height="9" fill="#dd7812"/><rect x="1000" y="184" width="33" height="9" fill="#dc6e0f"/><rect x="1032" y="184" width="17" height="9" fill="#db640d"/><rect x="1048" y="184" width="17" height="9" fill="#da5a0c"/><rect x="1064" y="184" width="25" height="9" fill="#d8500a"/><rect x="1088" y="184" width="25" height="9" fill="#d74608"/><rect x="1112" y="184" width="9" height="9" fill="#d74308"/><rect x="1120" y="184" width="9" height="9" fill="#d63c08"/><rect x="1128" y="184" width="9" height="9" fill="#d63908"/><rect x="1136" y="184" width="17" height="9" fill="#d63808"/><rect x="312" y="192" width="9" height="9" fill="#e7c22a"/><rect x="320" y="192" width="9" height="9" fill="#e7c82b"/><rect x="328" y="192" width="9" height="9" fill="#e8d32f"/><rect x="336" y="192" width="9" height="9" fill="#e9dc31"/><rect x="344" y="192" width="9" height="9" fill="#eae031"/><rect x="352" y="192" width="9" height="9" fill="#e8e633"/><rect x="360" y="192" width="9" height="9" fill="#e4ea36"/><rect x="368" y="192" width="65" height="9" fill="#dcec38"/><rect x="432" y="192" width="33" height="9" fill="#d2ee3a"/><rect x="464" y="192" width="17" height="9" fill="#c8f03c"/><rect x="480" y="192" width="17" height="9" fill="#d2ee3a"/><rect x="496" y="192" width="9" height="9" fill="#dcec38"/><rect x="504" y="192" width="17" height="9" fill="#e4ea36"/><rect x="520" y="192" width="81" height="9" fill="#e6e834"/><rect x="600" y="192" width="25" height="9" fill="#e4ea36"/><rect x="624" y="192" width="57" height="9" fill="#dcec38"/><rect x="680" y="192" width="17" height="9" fill="#e4ea36"/><rect x="696" y="192" width="9" height="9" fill="#e6e834"/><rect x="704" y="192" width="9" height="9" fill="#e8e633"/><rect x="712" y="192" width="9" height="9" fill="#eae432"/><rect x="720" y="192" width="9" height="9" fill="#eae031"/><rect x="728" y="192" width="9" height="9" fill="#e9dc31"/><rect x="736" y="192" width="17" height="9" fill="#e9d930"/><rect x="752" y="192" width="17" height="9" fill="#e8d32f"/><rect x="768" y="192" width="17" height="9" fill="#e8ce2d"/><rect x="784" y="192" width="25" height="9" fill="#e7c82b"/><rect x="808" y="192" width="17" height="9" fill="#e7c22a"/><rect x="824" y="192" width="17" height="9" fill="#e6bc28"/><rect x="840" y="192" width="17" height="9" fill="#e5b225"/><rect x="856" y="192" width="17" height="9" fill="#e4a922"/><rect x="872" y="192" width="9" height="9" fill="#e2a01f"/><rect x="880" y="192" width="17" height="9" fill="#e1961c"/><rect x="896" y="192" width="25" height="9" fill="#e08c19"/><rect x="920" y="192" width="33" height="9" fill="#de8216"/><rect x="952" y="192" width="49" height="9" fill="#dd7812"/><rect x="1000" y="192" width="33" height="9" fill="#dc6e0f"/><rect x="1032" y="192" width="9" height="9" fill="#db640d"/><rect x="1040" y="192" width="17" height="9" fill="#da5a0c"/><rect x="1056" y="192" width="9" height="9" fill="#d8500a"/><rect x="1064" y="192" width="25" height="9" fill="#d74608"/><rect x="1088" y="192" width="17" height="9" fill="#d74308"/><rect x="1104" y="192" width="9" height="9" fill="#d73f08"/><rect x="1112" y="192" width="9" height="9" fill="#d63c08"/><rect x="1120" y="192" width="9" height="9" fill="#d63908"/><rect x="1128" y="192" width="17" height="9" fill="#d63808"/><rect x="312" y="200" width="9" height="9" fill="#e7c22a"/><rect x="320" y="200" width="9" height="9" fill="#e7c82b"/><rect x="328" y="200" width="9" height="9" fill="#e8d32f"/><rect x="336" y="200" width="9" height="9" fill="#e9d930"/><rect x="344" y="200" width="9" height="9" fill="#eae031"/><rect x="352" y="200" width="9" height="9" fill="#e6e834"/><rect x="360" y="200" width="9" height="9" fill="#e4ea36"/><rect x="368" y="200" width="9" height="9" fill="#dcec38"/><rect x="376" y="200" width="73" height="9" fill="#d2ee3a"/><rect x="448" y="200" width="41" height="9" fill="#c8f03c"/><rect x="488" y="200" width="17" height="9" fill="#d2ee3a"/><rect x="504" y="200" width="9" height="9" fill="#dcec38"/><rect x="512" y="200" width="25" height="9" fill="#e4ea36"/><rect x="536" y="200" width="41" height="9" fill="#e6e834"/><rect x="576" y="200" width="33" height="9" fill="#e4ea36"/><rect x="608" y="200" width="33" height="9" fill="#dcec38"/><rect x="640" y="200" width="25" height="9" fill="#d2ee3a"/><rect x="664" y="200" width="25" height="9" fill="#dcec38"/><rect x="688" y="200" width="17" height="9" fill="#e4ea36"/><rect x="704" y="200" width="9" height="9" fill="#e6e834"/><rect x="712" y="200" width="9" height="9" fill="#e8e633"/><rect x="720" y="200" width="9" height="9" fill="#eae432"/><rect x="728" y="200" width="9" height="9" fill="#e9dc31"/><rect x="736" y="200" width="17" height="9" fill="#e9d930"/><rect x="752" y="200" width="9" height="9" fill="#e8d32f"/><rect x="760" y="200" width="25" height="9" fill="#e8ce2d"/><rect x="784" y="200" width="25" height="9" fill="#e7c82b"/><rect x="808" y="200" width="17" height="9" fill="#e7c22a"/><rect x="824" y="200" width="17" height="9" fill="#e6bc28"/><rect x="840" y="200" width="17" height="9" fill="#e5b225"/><rect x="856" y="200" width="17" height="9" fill="#e4a922"/><rect x="872" y="200" width="9" height="9" fill="#e2a01f"/><rect x="880" y="200" width="17" height="9" fill="#e1961c"/><rect x="896" y="200" width="25" height="9" fill="#e08c19"/><rect x="920" y="200" width="33" height="9" fill="#de8216"/><rect x="952" y="200" width="49" height="9" fill="#dd7812"/><rect x="1000" y="200" width="25" height="9" fill="#dc6e0f"/><rect x="1024" y="200" width="17" height="9" fill="#db640d"/><rect x="1040" y="200" width="9" height="9" fill="#da5a0c"/><rect x="1048" y="200" width="9" height="9" fill="#d8500a"/><rect x="1056" y="200" width="9" height="9" fill="#d74608"/><rect x="1064" y="200" width="17" height="9" fill="#d74308"/><rect x="1080" y="200" width="25" height="9" fill="#d73f08"/><rect x="1104" y="200" width="9" height="9" fill="#d63c08"/><rect x="1112" y="200" width="9" height="9" fill="#d63908"/><rect x="1120" y="200" width="17" height="9" fill="#d63808"/><rect x="312" y="208" width="9" height="9" fill="#e6bc28"/><rect x="320" y="208" width="9" height="9" fill="#e7c82b"/><rect x="328" y="208" width="9" height="9" fill="#e8ce2d"/><rect x="336" y="208" width="9" height="9" fill="#e9d930"/><rect x="344" y="208" width="9" height="9" fill="#eae031"/><rect x="352" y="208" width="9" height="9" fill="#e6e834"/><rect x="360" y="208" width="9" height="9" fill="#dcec38"/><rect x="368" y="208" width="17" height="9" fill="#d2ee3a"/><rect x="384" y="208" width="17" height="9" fill="#c8f03c"/><rect x="400" y="208" width="33" height="9" fill="#d2ee3a"/><rect x="432" y="208" width="57" height="9" fill="#c8f03c"/><rect x="488" y="208" width="17" height="9" fill="#d2ee3a"/><rect x="504" y="208" width="25" height="9" fill="#dcec38"/><rect x="528" y="208" width="57" height="9" fill="#e4ea36"/><rect x="584" y="208" width="33" height="9" fill="#dcec38"/><rect x="616" y="208" width="73" height="9" fill="#d2ee3a"/><rect x="688" y="208" width="9" height="9" fill="#dcec38"/><rect x="696" y="208" width="9" height="9" fill="#e4ea36"/><rect x="704" y="208" width="9" height="9" fill="#e6e834"/><rect x="712" y="208" width="9" height="9" fill="#e8e633"/><rect x="720" y="208" width="9" height="9" fill="#eae432"/><rect x="728" y="208" width="9" height="9" fill="#eae031"/><rect x="736" y="208" width="9" height="9" fill="#e9dc31"/><rect x="744" y="208" width="9" height="9" fill="#e9d930"/><rect x="752" y="208" width="17" height="9" fill="#e8d32f"/><rect x="768" y="208" width="25" height="9" fill="#e8ce2d"/><rect x="792" y="208" width="17" height="9" fill="#e7c82b"/><rect x="808" y="208" width="17" height="9" fill="#e7c22a"/><rect x="824" y="208" width="17" height="9" fill="#e6bc28"/><rect x="840" y="208" width="17" height="9" fill="#e5b225"/><rect x="856" y="208" width="17" height="9" fill="#e4a922"/><rect x="872" y="208" width="9" height="9" fill="#e2a01f"/><rect x="880" y="208" width="17" height="9" fill="#e1961c"/><rect x="896" y="208" width="25" height="9" fill="#e08c19"/><rect x="920" y="208" width="41" height="9" fill="#de8216"/><rect x="960" y="208" width="41" height="9" fill="#dd7812"/><rect x="1000" y="208" width="25" height="9" fill="#dc6e0f"/><rect x="1024" y="208" width="17" height="9" fill="#db640d"/><rect x="1040" y="208" width="9" height="9" fill="#da5a0c"/><rect x="1048" y="208" width="9" height="9" fill="#d8500a"/><rect x="1056" y="208" width="9" height="9" fill="#d74608"/><rect x="1064" y="208" width="9" height="9" fill="#d74308"/><rect x="1072" y="208" width="9" height="9" fill="#d73f08"/><rect x="1080" y="208" width="25" height="9" fill="#d63c08"/><rect x="1104" y="208" width="17" height="9" fill="#d63908"/><rect x="1120" y="208" width="9" height="9" fill="#d63808"/><rect x="312" y="216" width="9" height="9" fill="#e6bc28"/><rect x="320" y="216" width="9" height="9" fill="#e7c82b"/><rect x="328" y="216" width="9" height="9" fill="#e8ce2d"/><rect x="336" y="216" width="9" height="9" fill="#e9d930"/><rect x="344" y="216" width="9" height="9" fill="#eae031"/><rect x="352" y="216" width="9" height="9" fill="#e6e834"/><rect x="360" y="216" width="9" height="9" fill="#dcec38"/><rect x="368" y="216" width="9" height="9" fill="#d2ee3a"/><rect x="376" y="216" width="121" height="9" fill="#c8f03c"/><rect x="496" y="216" width="25" height="9" fill="#d2ee3a"/><rect x="520" y="216" width="81" height="9" fill="#dcec38"/><rect x="600" y="216" width="33" height="9" fill="#d2ee3a"/><rect x="632" y="216" width="41" height="9" fill="#c8f03c"/><rect x="672" y="216" width="25" height="9" fill="#d2ee3a"/><rect x="696" y="216" width="9" height="9" fill="#dcec38"/><rect x="704" y="216" width="9" height="9" fill="#e4ea36"/><rect x="712" y="216" width="9" height="9" fill="#e6e834"/><rect x="720" y="216" width="9" height="9" fill="#e8e633"/><rect x="728" y="216" width="9" height="9" fill="#eae031"/><rect x="736" y="216" width="9" height="9" fill="#e9dc31"/><rect x="744" y="216" width="9" height="9" fill="#e9d930"/><rect x="752" y="216" width="17" height="9" fill="#e8d32f"/><rect x="768" y="216" width="25" height="9" fill="#e8ce2d"/><rect x="792" y="216" width="17" height="9" fill="#e7c82b"/><rect x="808" y="216" width="17" height="9" fill="#e7c22a"/><rect x="824" y="216" width="17" height="9" fill="#e6bc28"/><rect x="840" y="216" width="17" height="9" fill="#e5b225"/><rect x="856" y="216" width="9" height="9" fill="#e4a922"/><rect x="864" y="216" width="17" height="9" fill="#e2a01f"/><rect x="880" y="216" width="17" height="9" fill="#e1961c"/><rect x="896" y="216" width="25" height="9" fill="#e08c19"/><rect x="920" y="216" width="41" height="9" fill="#de8216"/><rect x="960" y="216" width="33" height="9" fill="#dd7812"/><rect x="992" y="216" width="25" height="9" fill="#dc6e0f"/><rect x="1016" y="216" width="17" height="9" fill="#db640d"/><rect x="1032" y="216" width="17" height="9" fill="#da5a0c"/><rect x="1048" y="216" width="9" height="9" fill="#d8500a"/><rect x="1056" y="216" width="9" height="9" fill="#d74308"/><rect x="1064" y="216" width="9" height="9" fill="#d73f08"/><rect x="1072" y="216" width="17" height="9" fill="#d63c08"/><rect x="1088" y="216" width="17" height="9" fill="#d63908"/><rect x="1104" y="216" width="17" height="9" fill="#d63808"/><rect x="1120" y="216" width="9" height="9" fill="#d63808"/><rect x="312" y="224" width="9" height="9" fill="#e6bc28"/><rect x="320" y="224" width="9" height="9" fill="#e7c22a"/><rect x="328" y="224" width="9" height="9" fill="#e8ce2d"/><rect x="336" y="224" width="9" height="9" fill="#e9d930"/><rect x="344" y="224" width="9" height="9" fill="#eae031"/><rect x="352" y="224" width="9" height="9" fill="#e6e834"/><rect x="360" y="224" width="9" height="9" fill="#dcec38"/><rect x="368" y="224" width="9" height="9" fill="#d2ee3a"/><rect x="376" y="224" width="17" height="9" fill="#c8f03c"/><rect x="392" y="224" width="9" height="9" fill="#aae83a"/><rect x="400" y="224" width="41" height="9" fill="#c8f03c"/><rect x="440" y="224" width="33" height="9" fill="#aae83a"/><rect x="472" y="224" width="33" height="9" fill="#c8f03c"/><rect x="504" y="224" width="41" height="9" fill="#d2ee3a"/><rect x="544" y="224" width="25" height="9" fill="#dcec38"/><rect x="568" y="224" width="41" height="9" fill="#d2ee3a"/><rect x="608" y="224" width="81" height="9" fill="#c8f03c"/><rect x="688" y="224" width="17" height="9" fill="#d2ee3a"/><rect x="704" y="224" width="9" height="9" fill="#dcec38"/><rect x="712" y="224" width="9" height="9" fill="#e4ea36"/><rect x="720" y="224" width="9" height="9" fill="#e6e834"/><rect x="728" y="224" width="9" height="9" fill="#eae432"/><rect x="736" y="224" width="9" height="9" fill="#eae031"/><rect x="744" y="224" width="9" height="9" fill="#e9dc31"/><rect x="752" y="224" width="9" height="9" fill="#e9d930"/><rect x="760" y="224" width="17" height="9" fill="#e8d32f"/><rect x="776" y="224" width="17" height="9" fill="#e8ce2d"/><rect x="792" y="224" width="17" height="9" fill="#e7c82b"/><rect x="808" y="224" width="9" height="9" fill="#e7c22a"/><rect x="816" y="224" width="17" height="9" fill="#e6bc28"/><rect x="832" y="224" width="17" height="9" fill="#e5b225"/><rect x="848" y="224" width="17" height="9" fill="#e4a922"/><rect x="864" y="224" width="17" height="9" fill="#e2a01f"/><rect x="880" y="224" width="17" height="9" fill="#e1961c"/><rect x="896" y="224" width="25" height="9" fill="#e08c19"/><rect x="920" y="224" width="41" height="9" fill="#de8216"/><rect x="960" y="224" width="33" height="9" fill="#dd7812"/><rect x="992" y="224" width="25" height="9" fill="#dc6e0f"/><rect x="1016" y="224" width="17" height="9" fill="#db640d"/><rect x="1032" y="224" width="9" height="9" fill="#da5a0c"/><rect x="1040" y="224" width="9" height="9" fill="#d8500a"/><rect x="1048" y="224" width="9" height="9" fill="#d74608"/><rect x="1056" y="224" width="9" height="9" fill="#d74308"/><rect x="1064" y="224" width="9" height="9" fill="#d73f08"/><rect x="1072" y="224" width="9" height="9" fill="#d63c08"/><rect x="1080" y="224" width="17" height="9" fill="#d63908"/><rect x="1096" y="224" width="17" height="9" fill="#d63808"/><rect x="1112" y="224" width="9" height="9" fill="#d63808"/><rect x="312" y="232" width="9" height="9" fill="#e6bc28"/><rect x="320" y="232" width="9" height="9" fill="#e7c22a"/><rect x="328" y="232" width="9" height="9" fill="#e8ce2d"/><rect x="336" y="232" width="9" height="9" fill="#e9d930"/><rect x="344" y="232" width="9" height="9" fill="#eae031"/><rect x="352" y="232" width="9" height="9" fill="#e8e633"/><rect x="360" y="232" width="9" height="9" fill="#e4ea36"/><rect x="368" y="232" width="9" height="9" fill="#d2ee3a"/><rect x="376" y="232" width="9" height="9" fill="#c8f03c"/><rect x="384" y="232" width="97" height="9" fill="#aae83a"/><rect x="480" y="232" width="41" height="9" fill="#c8f03c"/><rect x="520" y="232" width="65" height="9" fill="#d2ee3a"/><rect x="584" y="232" width="57" height="9" fill="#c8f03c"/><rect x="640" y="232" width="25" height="9" fill="#aae83a"/><rect x="664" y="232" width="33" height="9" fill="#c8f03c"/><rect x="696" y="232" width="17" height="9" fill="#d2ee3a"/><rect x="712" y="232" width="9" height="9" fill="#dcec38"/><rect x="720" y="232" width="9" height="9" fill="#e4ea36"/><rect x="728" y="232" width="9" height="9" fill="#e8e633"/><rect x="736" y="232" width="9" height="9" fill="#eae432"/><rect x="744" y="232" width="9" height="9" fill="#e9dc31"/><rect x="752" y="232" width="17" height="9" fill="#e9d930"/><rect x="768" y="232" width="9" height="9" fill="#e8d32f"/><rect x="776" y="232" width="17" height="9" fill="#e8ce2d"/><rect x="792" y="232" width="9" height="9" fill="#e7c82b"/><rect x="800" y="232" width="17" height="9" fill="#e7c22a"/><rect x="816" y="232" width="17" height="9" fill="#e6bc28"/><rect x="832" y="232" width="17" height="9" fill="#e5b225"/><rect x="848" y="232" width="17" height="9" fill="#e4a922"/><rect x="864" y="232" width="17" height="9" fill="#e2a01f"/><rect x="880" y="232" width="17" height="9" fill="#e1961c"/><rect x="896" y="232" width="25" height="9" fill="#e08c19"/><rect x="920" y="232" width="41" height="9" fill="#de8216"/><rect x="960" y="232" width="25" height="9" fill="#dd7812"/><rect x="984" y="232" width="25" height="9" fill="#dc6e0f"/><rect x="1008" y="232" width="17" height="9" fill="#db640d"/><rect x="1024" y="232" width="9" height="9" fill="#da5a0c"/><rect x="1032" y="232" width="17" height="9" fill="#d8500a"/><rect x="1048" y="232" width="9" height="9" fill="#d74608"/><rect x="1056" y="232" width="9" height="9" fill="#d73f08"/><rect x="1064" y="232" width="9" height="9" fill="#d63c08"/><rect x="1072" y="232" width="9" height="9" fill="#d63908"/><rect x="1080" y="232" width="17" height="9" fill="#d63808"/><rect x="1096" y="232" width="17" height="9" fill="#d63808"/><rect x="312" y="240" width="9" height="9" fill="#e6bc28"/><rect x="320" y="240" width="9" height="9" fill="#e7c22a"/><rect x="328" y="240" width="9" height="9" fill="#e8ce2d"/><rect x="336" y="240" width="9" height="9" fill="#e9d930"/><rect x="344" y="240" width="9" height="9" fill="#eae031"/><rect x="352" y="240" width="9" height="9" fill="#e8e633"/><rect x="360" y="240" width="9" height="9" fill="#e4ea36"/><rect x="368" y="240" width="9" height="9" fill="#d2ee3a"/><rect x="376" y="240" width="9" height="9" fill="#c8f03c"/><rect x="384" y="240" width="113" height="9" fill="#aae83a"/><rect x="496" y="240" width="113" height="9" fill="#c8f03c"/><rect x="608" y="240" width="81" height="9" fill="#aae83a"/><rect x="688" y="240" width="17" height="9" fill="#c8f03c"/><rect x="704" y="240" width="17" height="9" fill="#d2ee3a"/><rect x="720" y="240" width="9" height="9" fill="#dcec38"/><rect x="728" y="240" width="9" height="9" fill="#e6e834"/><rect x="736" y="240" width="9" height="9" fill="#e8e633"/><rect x="744" y="240" width="9" height="9" fill="#eae031"/><rect x="752" y="240" width="9" height="9" fill="#e9dc31"/><rect x="760" y="240" width="9" height="9" fill="#e9d930"/><rect x="768" y="240" width="9" height="9" fill="#e8d32f"/><rect x="776" y="240" width="17" height="9" fill="#e8ce2d"/><rect x="792" y="240" width="9" height="9" fill="#e7c82b"/><rect x="800" y="240" width="9" height="9" fill="#e7c22a"/><rect x="808" y="240" width="17" height="9" fill="#e6bc28"/><rect x="824" y="240" width="17" height="9" fill="#e5b225"/><rect x="840" y="240" width="17" height="9" fill="#e4a922"/><rect x="856" y="240" width="17" height="9" fill="#e2a01f"/><rect x="872" y="240" width="25" height="9" fill="#e1961c"/><rect x="896" y="240" width="25" height="9" fill="#e08c19"/><rect x="920" y="240" width="41" height="9" fill="#de8216"/><rect x="960" y="240" width="25" height="9" fill="#dd7812"/><rect x="984" y="240" width="17" height="9" fill="#dc6e0f"/><rect x="1000" y="240" width="9" height="9" fill="#db640d"/><rect x="1008" y="240" width="17" height="9" fill="#da5a0c"/><rect x="1024" y="240" width="17" height="9" fill="#d8500a"/><rect x="1040" y="240" width="9" height="9" fill="#d74608"/><rect x="1048" y="240" width="9" height="9" fill="#d74308"/><rect x="1056" y="240" width="9" height="9" fill="#d63c08"/><rect x="1064" y="240" width="9" height="9" fill="#d63908"/><rect x="1072" y="240" width="17" height="9" fill="#d63808"/><rect x="1088" y="240" width="9" height="9" fill="#d63808"/><rect x="1096" y="240" width="9" height="9" fill="#d63808"/><rect x="312" y="248" width="9" height="9" fill="#e6bc28"/><rect x="320" y="248" width="9" height="9" fill="#e7c82b"/><rect x="328" y="248" width="9" height="9" fill="#e8ce2d"/><rect x="336" y="248" width="9" height="9" fill="#e9d930"/><rect x="344" y="248" width="9" height="9" fill="#eae031"/><rect x="352" y="248" width="9" height="9" fill="#e8e633"/><rect x="360" y="248" width="9" height="9" fill="#e4ea36"/><rect x="368" y="248" width="9" height="9" fill="#d2ee3a"/><rect x="376" y="248" width="9" height="9" fill="#c8f03c"/><rect x="384" y="248" width="65" height="9" fill="#aae83a"/><rect x="448" y="248" width="17" height="9" fill="#8ce138"/><rect x="464" y="248" width="41" height="9" fill="#aae83a"/><rect x="504" y="248" width="65" height="9" fill="#c8f03c"/><rect x="568" y="248" width="129" height="9" fill="#aae83a"/><rect x="696" y="248" width="17" height="9" fill="#c8f03c"/><rect x="712" y="248" width="9" height="9" fill="#d2ee3a"/><rect x="720" y="248" width="9" height="9" fill="#dcec38"/><rect x="728" y="248" width="9" height="9" fill="#e4ea36"/><rect x="736" y="248" width="9" height="9" fill="#e8e633"/><rect x="744" y="248" width="9" height="9" fill="#eae031"/><rect x="752" y="248" width="9" height="9" fill="#e9dc31"/><rect x="760" y="248" width="9" height="9" fill="#e9d930"/><rect x="768" y="248" width="9" height="9" fill="#e8d32f"/><rect x="776" y="248" width="9" height="9" fill="#e8ce2d"/><rect x="784" y="248" width="9" height="9" fill="#e7c82b"/><rect x="792" y="248" width="17" height="9" fill="#e7c22a"/><rect x="808" y="248" width="9" height="9" fill="#e6bc28"/><rect x="816" y="248" width="17" height="9" fill="#e5b225"/><rect x="832" y="248" width="25" height="9" fill="#e4a922"/><rect x="856" y="248" width="17" height="9" fill="#e2a01f"/><rect x="872" y="248" width="17" height="9" fill="#e1961c"/><rect x="888" y="248" width="33" height="9" fill="#e08c19"/><rect x="920" y="248" width="33" height="9" fill="#de8216"/><rect x="952" y="248" width="25" height="9" fill="#dd7812"/><rect x="976" y="248" width="17" height="9" fill="#dc6e0f"/><rect x="992" y="248" width="9" height="9" fill="#db640d"/><rect x="1000" y="248" width="17" height="9" fill="#da5a0c"/><rect x="1016" y="248" width="9" height="9" fill="#d8500a"/><rect x="1024" y="248" width="17" height="9" fill="#d74608"/><rect x="1040" y="248" width="9" height="9" fill="#d74308"/><rect x="1048" y="248" width="9" height="9" fill="#d73f08"/><rect x="1056" y="248" width="9" height="9" fill="#d63908"/><rect x="1064" y="248" width="17" height="9" fill="#d63808"/><rect x="1080" y="248" width="9" height="9" fill="#d63808"/><rect x="1088" y="248" width="9" height="9" fill="#d63808"/><rect x="312" y="256" width="9" height="9" fill="#e7c22a"/><rect x="320" y="256" width="9" height="9" fill="#e7c82b"/><rect x="328" y="256" width="9" height="9" fill="#e8ce2d"/><rect x="336" y="256" width="9" height="9" fill="#e9d930"/><rect x="344" y="256" width="9" height="9" fill="#eae031"/><rect x="352" y="256" width="9" height="9" fill="#e8e633"/><rect x="360" y="256" width="9" height="9" fill="#e4ea36"/><rect x="368" y="256" width="9" height="9" fill="#d2ee3a"/><rect x="376" y="256" width="9" height="9" fill="#c8f03c"/><rect x="384" y="256" width="17" height="9" fill="#aae83a"/><rect x="400" y="256" width="17" height="9" fill="#8ce138"/><rect x="416" y="256" width="25" height="9" fill="#aae83a"/><rect x="440" y="256" width="41" height="9" fill="#8ce138"/><rect x="480" y="256" width="121" height="9" fill="#aae83a"/><rect x="600" y="256" width="65" height="9" fill="#8ce138"/><rect x="664" y="256" width="41" height="9" fill="#aae83a"/><rect x="704" y="256" width="9" height="9" fill="#c8f03c"/><rect x="712" y="256" width="9" height="9" fill="#d2ee3a"/><rect x="720" y="256" width="9" height="9" fill="#dcec38"/><rect x="728" y="256" width="9" height="9" fill="#e4ea36"/><rect x="736" y="256" width="9" height="9" fill="#e8e633"/><rect x="744" y="256" width="9" height="9" fill="#eae432"/><rect x="752" y="256" width="9" height="9" fill="#e9dc31"/><rect x="760" y="256" width="9" height="9" fill="#e9d930"/><rect x="768" y="256" width="9" height="9" fill="#e8d32f"/><rect x="776" y="256" width="9" height="9" fill="#e8ce2d"/><rect x="784" y="256" width="9" height="9" fill="#e7c82b"/><rect x="792" y="256" width="9" height="9" fill="#e7c22a"/><rect x="800" y="256" width="9" height="9" fill="#e6bc28"/><rect x="808" y="256" width="17" height="9" fill="#e5b225"/><rect x="824" y="256" width="25" height="9" fill="#e4a922"/><rect x="848" y="256" width="17" height="9" fill="#e2a01f"/><rect x="864" y="256" width="25" height="9" fill="#e1961c"/><rect x="888" y="256" width="25" height="9" fill="#e08c19"/><rect x="912" y="256" width="33" height="9" fill="#de8216"/><rect x="944" y="256" width="25" height="9" fill="#dd7812"/><rect x="968" y="256" width="17" height="9" fill="#dc6e0f"/><rect x="984" y="256" width="9" height="9" fill="#db640d"/><rect x="992" y="256" width="17" height="9" fill="#da5a0c"/><rect x="1008" y="256" width="9" height="9" fill="#d8500a"/><rect x="1016" y="256" width="17" height="9" fill="#d74608"/><rect x="1032" y="256" width="9" height="9" fill="#d74308"/><rect x="1040" y="256" width="9" height="9" fill="#d73f08"/><rect x="1048" y="256" width="9" height="9" fill="#d63c08"/><rect x="1056" y="256" width="9" height="9" fill="#d63908"/><rect x="1064" y="256" width="9" height="9" fill="#d63808"/><rect x="1072" y="256" width="9" height="9" fill="#d63808"/><rect x="1080" y="256" width="9" height="9" fill="#d63808"/><rect x="312" y="264" width="9" height="9" fill="#e7c22a"/><rect x="320" y="264" width="9" height="9" fill="#e7c82b"/><rect x="328" y="264" width="9" height="9" fill="#e8d32f"/><rect x="336" y="264" width="9" height="9" fill="#e9d930"/><rect x="344" y="264" width="9" height="9" fill="#eae031"/><rect x="352" y="264" width="9" height="9" fill="#e8e633"/><rect x="360" y="264" width="9" height="9" fill="#e4ea36"/><rect x="368" y="264" width="9" height="9" fill="#d2ee3a"/><rect x="376" y="264" width="17" height="9" fill="#aae83a"/><rect x="392" y="264" width="113" height="9" fill="#8ce138"/><rect x="504" y="264" width="41" height="9" fill="#aae83a"/><rect x="544" y="264" width="137" height="9" fill="#8ce138"/><rect x="680" y="264" width="25" height="9" fill="#aae83a"/><rect x="704" y="264" width="17" height="9" fill="#c8f03c"/><rect x="720" y="264" width="9" height="9" fill="#dcec38"/><rect x="728" y="264" width="9" height="9" fill="#e4ea36"/><rect x="736" y="264" width="9" height="9" fill="#e8e633"/><rect x="744" y="264" width="9" height="9" fill="#eae432"/><rect x="752" y="264" width="9" height="9" fill="#e9dc31"/><rect x="760" y="264" width="9" height="9" fill="#e9d930"/><rect x="768" y="264" width="9" height="9" fill="#e8d32f"/><rect x="776" y="264" width="9" height="9" fill="#e8ce2d"/><rect x="784" y="264" width="9" height="9" fill="#e7c82b"/><rect x="792" y="264" width="9" height="9" fill="#e7c22a"/><rect x="800" y="264" width="9" height="9" fill="#e6bc28"/><rect x="808" y="264" width="9" height="9" fill="#e5b225"/><rect x="816" y="264" width="17" height="9" fill="#e4a922"/><rect x="832" y="264" width="25" height="9" fill="#e2a01f"/><rect x="856" y="264" width="25" height="9" fill="#e1961c"/><rect x="880" y="264" width="25" height="9" fill="#e08c19"/><rect x="904" y="264" width="33" height="9" fill="#de8216"/><rect x="936" y="264" width="25" height="9" fill="#dd7812"/><rect x="960" y="264" width="17" height="9" fill="#dc6e0f"/><rect x="976" y="264" width="9" height="9" fill="#db640d"/><rect x="984" y="264" width="17" height="9" fill="#da5a0c"/><rect x="1000" y="264" width="9" height="9" fill="#d8500a"/><rect x="1008" y="264" width="9" height="9" fill="#d74608"/><rect x="1016" y="264" width="17" height="9" fill="#d74308"/><rect x="1032" y="264" width="9" height="9" fill="#d73f08"/><rect x="1040" y="264" width="9" height="9" fill="#d63c08"/><rect x="1048" y="264" width="9" height="9" fill="#d63908"/><rect x="1056" y="264" width="9" height="9" fill="#d63808"/><rect x="1064" y="264" width="9" height="9" fill="#d63808"/><rect x="1072" y="264" width="9" height="9" fill="#d63808"/><rect x="312" y="272" width="9" height="9" fill="#e7c82b"/><rect x="320" y="272" width="9" height="9" fill="#e8ce2d"/><rect x="328" y="272" width="9" height="9" fill="#e8d32f"/><rect x="336" y="272" width="9" height="9" fill="#e9dc31"/><rect x="344" y="272" width="9" height="9" fill="#eae432"/><rect x="352" y="272" width="9" height="9" fill="#e6e834"/><rect x="360" y="272" width="9" height="9" fill="#dcec38"/><rect x="368" y="272" width="9" height="9" fill="#c8f03c"/><rect x="376" y="272" width="9" height="9" fill="#aae83a"/><rect x="384" y="272" width="65" height="9" fill="#8ce138"/><rect x="448" y="272" width="49" height="9" fill="#84e03a"/><rect x="496" y="272" width="57" height="9" fill="#8ce138"/><rect x="552" y="272" width="65" height="9" fill="#84e03a"/><rect x="616" y="272" width="73" height="9" fill="#8ce138"/><rect x="688" y="272" width="25" height="9" fill="#aae83a"/><rect x="712" y="272" width="9" height="9" fill="#c8f03c"/><rect x="720" y="272" width="9" height="9" fill="#d2ee3a"/><rect x="728" y="272" width="9" height="9" fill="#e4ea36"/><rect x="736" y="272" width="9" height="9" fill="#e8e633"/><rect x="744" y="272" width="9" height="9" fill="#eae432"/><rect x="752" y="272" width="9" height="9" fill="#e9dc31"/><rect x="760" y="272" width="9" height="9" fill="#e9d930"/><rect x="768" y="272" width="9" height="9" fill="#e8d32f"/><rect x="776" y="272" width="9" height="9" fill="#e7c82b"/><rect x="784" y="272" width="9" height="9" fill="#e7c22a"/><rect x="792" y="272" width="9" height="9" fill="#e6bc28"/><rect x="800" y="272" width="17" height="9" fill="#e5b225"/><rect x="816" y="272" width="9" height="9" fill="#e4a922"/><rect x="824" y="272" width="25" height="9" fill="#e2a01f"/><rect x="848" y="272" width="25" height="9" fill="#e1961c"/><rect x="872" y="272" width="25" height="9" fill="#e08c19"/><rect x="896" y="272" width="33" height="9" fill="#de8216"/><rect x="928" y="272" width="25" height="9" fill="#dd7812"/><rect x="952" y="272" width="17" height="9" fill="#dc6e0f"/><rect x="968" y="272" width="9" height="9" fill="#db640d"/><rect x="976" y="272" width="17" height="9" fill="#da5a0c"/><rect x="992" y="272" width="9" height="9" fill="#d8500a"/><rect x="1000" y="272" width="9" height="9" fill="#d74608"/><rect x="1008" y="272" width="17" height="9" fill="#d74308"/><rect x="1024" y="272" width="9" height="9" fill="#d73f08"/><rect x="1032" y="272" width="9" height="9" fill="#d63c08"/><rect x="1040" y="272" width="9" height="9" fill="#d63908"/><rect x="1048" y="272" width="9" height="9" fill="#d63808"/><rect x="1056" y="272" width="9" height="9" fill="#d63808"/><rect x="1064" y="272" width="9" height="9" fill="#d63808"/><rect x="312" y="280" width="9" height="9" fill="#e7c82b"/><rect x="320" y="280" width="9" height="9" fill="#e8d32f"/><rect x="328" y="280" width="9" height="9" fill="#e9d930"/><rect x="336" y="280" width="9" height="9" fill="#eae031"/><rect x="344" y="280" width="9" height="9" fill="#e8e633"/><rect x="352" y="280" width="9" height="9" fill="#e4ea36"/><rect x="360" y="280" width="9" height="9" fill="#d2ee3a"/><rect x="368" y="280" width="9" height="9" fill="#c8f03c"/><rect x="376" y="280" width="17" height="9" fill="#8ce138"/><rect x="392" y="280" width="161" height="9" fill="#84e03a"/><rect x="552" y="280" width="49" height="9" fill="#7cde3d"/><rect x="600" y="280" width="65" height="9" fill="#84e03a"/><rect x="664" y="280" width="33" height="9" fill="#8ce138"/><rect x="696" y="280" width="17" height="9" fill="#aae83a"/><rect x="712" y="280" width="9" height="9" fill="#c8f03c"/><rect x="720" y="280" width="9" height="9" fill="#d2ee3a"/><rect x="728" y="280" width="9" height="9" fill="#e4ea36"/><rect x="736" y="280" width="9" height="9" fill="#e6e834"/><rect x="744" y="280" width="9" height="9" fill="#eae432"/><rect x="752" y="280" width="9" height="9" fill="#e9dc31"/><rect x="760" y="280" width="9" height="9" fill="#e9d930"/><rect x="768" y="280" width="9" height="9" fill="#e8d32f"/><rect x="776" y="280" width="9" height="9" fill="#e7c82b"/><rect x="784" y="280" width="9" height="9" fill="#e7c22a"/><rect x="792" y="280" width="9" height="9" fill="#e6bc28"/><rect x="800" y="280" width="9" height="9" fill="#e5b225"/><rect x="808" y="280" width="9" height="9" fill="#e4a922"/><rect x="816" y="280" width="25" height="9" fill="#e2a01f"/><rect x="840" y="280" width="25" height="9" fill="#e1961c"/><rect x="864" y="280" width="25" height="9" fill="#e08c19"/><rect x="888" y="280" width="41" height="9" fill="#de8216"/><rect x="928" y="280" width="17" height="9" fill="#dd7812"/><rect x="944" y="280" width="17" height="9" fill="#dc6e0f"/><rect x="960" y="280" width="9" height="9" fill="#db640d"/><rect x="968" y="280" width="17" height="9" fill="#da5a0c"/><rect x="984" y="280" width="9" height="9" fill="#d8500a"/><rect x="992" y="280" width="9" height="9" fill="#d74608"/><rect x="1000" y="280" width="9" height="9" fill="#d74308"/><rect x="1008" y="280" width="17" height="9" fill="#d73f08"/><rect x="1024" y="280" width="9" height="9" fill="#d63c08"/><rect x="1032" y="280" width="9" height="9" fill="#d63908"/><rect x="1040" y="280" width="9" height="9" fill="#d63808"/><rect x="1048" y="280" width="9" height="9" fill="#d63808"/><rect x="1056" y="280" width="9" height="9" fill="#d63808"/><rect x="1064" y="280" width="9" height="9" fill="#d63808"/><rect x="312" y="288" width="9" height="9" fill="#e8ce2d"/><rect x="320" y="288" width="9" height="9" fill="#e9d930"/><rect x="328" y="288" width="9" height="9" fill="#e9dc31"/><rect x="336" y="288" width="9" height="9" fill="#eae432"/><rect x="344" y="288" width="9" height="9" fill="#e6e834"/><rect x="352" y="288" width="9" height="9" fill="#dcec38"/><rect x="360" y="288" width="9" height="9" fill="#c8f03c"/><rect x="368" y="288" width="9" height="9" fill="#aae83a"/><rect x="376" y="288" width="9" height="9" fill="#8ce138"/><rect x="384" y="288" width="25" height="9" fill="#84e03a"/><rect x="408" y="288" width="153" height="9" fill="#7cde3d"/><rect x="560" y="288" width="33" height="9" fill="#74dd40"/><rect x="592" y="288" width="41" height="9" fill="#7cde3d"/><rect x="632" y="288" width="49" height="9" fill="#84e03a"/><rect x="680" y="288" width="25" height="9" fill="#8ce138"/><rect x="704" y="288" width="17" height="9" fill="#aae83a"/><rect x="720" y="288" width="9" height="9" fill="#d2ee3a"/><rect x="728" y="288" width="9" height="9" fill="#dcec38"/><rect x="736" y="288" width="9" height="9" fill="#e6e834"/><rect x="744" y="288" width="9" height="9" fill="#eae432"/><rect x="752" y="288" width="9" height="9" fill="#eae031"/><rect x="760" y="288" width="9" height="9" fill="#e9d930"/><rect x="768" y="288" width="9" height="9" fill="#e8d32f"/><rect x="776" y="288" width="9" height="9" fill="#e7c82b"/><rect x="784" y="288" width="9" height="9" fill="#e7c22a"/><rect x="792" y="288" width="9" height="9" fill="#e6bc28"/><rect x="800" y="288" width="9" height="9" fill="#e5b225"/><rect x="808" y="288" width="9" height="9" fill="#e4a922"/><rect x="816" y="288" width="17" height="9" fill="#e2a01f"/><rect x="832" y="288" width="25" height="9" fill="#e1961c"/><rect x="856" y="288" width="33" height="9" fill="#e08c19"/><rect x="888" y="288" width="25" height="9" fill="#de8216"/><rect x="912" y="288" width="33" height="9" fill="#dd7812"/><rect x="944" y="288" width="9" height="9" fill="#dc6e0f"/><rect x="952" y="288" width="17" height="9" fill="#db640d"/><rect x="968" y="288" width="9" height="9" fill="#da5a0c"/><rect x="976" y="288" width="9" height="9" fill="#d8500a"/><rect x="984" y="288" width="9" height="9" fill="#d74608"/><rect x="992" y="288" width="9" height="9" fill="#d74308"/><rect x="1000" y="288" width="17" height="9" fill="#d73f08"/><rect x="1016" y="288" width="9" height="9" fill="#d63c08"/><rect x="1024" y="288" width="9" height="9" fill="#d63908"/><rect x="1032" y="288" width="9" height="9" fill="#d63808"/><rect x="1040" y="288" width="9" height="9" fill="#d63808"/><rect x="1048" y="288" width="17" height="9" fill="#d63808"/><rect x="312" y="296" width="9" height="9" fill="#e8d32f"/><rect x="320" y="296" width="9" height="9" fill="#e9dc31"/><rect x="328" y="296" width="9" height="9" fill="#eae031"/><rect x="336" y="296" width="9" height="9" fill="#e8e633"/><rect x="344" y="296" width="9" height="9" fill="#e4ea36"/><rect x="352" y="296" width="9" height="9" fill="#d2ee3a"/><rect x="360" y="296" width="9" height="9" fill="#c8f03c"/><rect x="368" y="296" width="9" height="9" fill="#8ce138"/><rect x="376" y="296" width="17" height="9" fill="#84e03a"/><rect x="392" y="296" width="49" height="9" fill="#7cde3d"/><rect x="440" y="296" width="185" height="9" fill="#74dd40"/><rect x="624" y="296" width="33" height="9" fill="#7cde3d"/><rect x="656" y="296" width="41" height="9" fill="#84e03a"/><rect x="696" y="296" width="17" height="9" fill="#8ce138"/><rect x="712" y="296" width="9" height="9" fill="#aae83a"/><rect x="720" y="296" width="9" height="9" fill="#c8f03c"/><rect x="728" y="296" width="9" height="9" fill="#d2ee3a"/><rect x="736" y="296" width="9" height="9" fill="#e4ea36"/><rect x="744" y="296" width="9" height="9" fill="#e8e633"/><rect x="752" y="296" width="9" height="9" fill="#eae031"/><rect x="760" y="296" width="9" height="9" fill="#e9d930"/><rect x="768" y="296" width="9" height="9" fill="#e8d32f"/><rect x="776" y="296" width="9" height="9" fill="#e8ce2d"/><rect x="784" y="296" width="9" height="9" fill="#e7c22a"/><rect x="792" y="296" width="9" height="9" fill="#e6bc28"/><rect x="800" y="296" width="9" height="9" fill="#e5b225"/><rect x="808" y="296" width="9" height="9" fill="#e4a922"/><rect x="816" y="296" width="17" height="9" fill="#e2a01f"/><rect x="832" y="296" width="25" height="9" fill="#e1961c"/><rect x="856" y="296" width="25" height="9" fill="#e08c19"/><rect x="880" y="296" width="25" height="9" fill="#de8216"/><rect x="904" y="296" width="33" height="9" fill="#dd7812"/><rect x="936" y="296" width="17" height="9" fill="#dc6e0f"/><rect x="952" y="296" width="9" height="9" fill="#db640d"/><rect x="960" y="296" width="9" height="9" fill="#da5a0c"/><rect x="968" y="296" width="9" height="9" fill="#d8500a"/><rect x="976" y="296" width="9" height="9" fill="#d74608"/><rect x="984" y="296" width="9" height="9" fill="#d74308"/><rect x="992" y="296" width="9" height="9" fill="#d73f08"/><rect x="1000" y="296" width="17" height="9" fill="#d63c08"/><rect x="1016" y="296" width="9" height="9" fill="#d63908"/><rect x="1024" y="296" width="9" height="9" fill="#d63808"/><rect x="1032" y="296" width="17" height="9" fill="#d63808"/><rect x="1048" y="296" width="9" height="9" fill="#d63808"/><rect x="312" y="304" width="9" height="9" fill="#e9dc31"/><rect x="320" y="304" width="9" height="9" fill="#eae031"/><rect x="328" y="304" width="9" height="9" fill="#e8e633"/><rect x="336" y="304" width="9" height="9" fill="#e4ea36"/><rect x="344" y="304" width="9" height="9" fill="#dcec38"/><rect x="352" y="304" width="9" height="9" fill="#c8f03c"/><rect x="360" y="304" width="9" height="9" fill="#aae83a"/><rect x="368" y="304" width="9" height="9" fill="#8ce138"/><rect x="376" y="304" width="9" height="9" fill="#84e03a"/><rect x="384" y="304" width="33" height="9" fill="#7cde3d"/><rect x="416" y="304" width="41" height="9" fill="#74dd40"/><rect x="456" y="304" width="161" height="9" fill="#6cdc42"/><rect x="616" y="304" width="25" height="9" fill="#74dd40"/><rect x="640" y="304" width="25" height="9" fill="#7cde3d"/><rect x="664" y="304" width="41" height="9" fill="#84e03a"/><rect x="704" y="304" width="17" height="9" fill="#8ce138"/><rect x="720" y="304" width="9" height="9" fill="#aae83a"/><rect x="728" y="304" width="9" height="9" fill="#d2ee3a"/><rect x="736" y="304" width="9" height="9" fill="#e4ea36"/><rect x="744" y="304" width="9" height="9" fill="#e8e633"/><rect x="752" y="304" width="9" height="9" fill="#eae432"/><rect x="760" y="304" width="9" height="9" fill="#e9dc31"/><rect x="768" y="304" width="9" height="9" fill="#e8d32f"/><rect x="776" y="304" width="9" height="9" fill="#e8ce2d"/><rect x="784" y="304" width="9" height="9" fill="#e7c22a"/><rect x="792" y="304" width="9" height="9" fill="#e6bc28"/><rect x="800" y="304" width="9" height="9" fill="#e5b225"/><rect x="808" y="304" width="9" height="9" fill="#e4a922"/><rect x="816" y="304" width="17" height="9" fill="#e2a01f"/><rect x="832" y="304" width="17" height="9" fill="#e1961c"/><rect x="848" y="304" width="25" height="9" fill="#e08c19"/><rect x="872" y="304" width="25" height="9" fill="#de8216"/><rect x="896" y="304" width="33" height="9" fill="#dd7812"/><rect x="928" y="304" width="17" height="9" fill="#dc6e0f"/><rect x="944" y="304" width="9" height="9" fill="#db640d"/><rect x="952" y="304" width="9" height="9" fill="#da5a0c"/><rect x="960" y="304" width="9" height="9" fill="#d8500a"/><rect x="968" y="304" width="9" height="9" fill="#d74608"/><rect x="976" y="304" width="9" height="9" fill="#d74308"/><rect x="984" y="304" width="9" height="9" fill="#d73f08"/><rect x="992" y="304" width="17" height="9" fill="#d63c08"/><rect x="1008" y="304" width="9" height="9" fill="#d63908"/><rect x="1016" y="304" width="9" height="9" fill="#d63808"/><rect x="1024" y="304" width="17" height="9" fill="#d63808"/><rect x="1040" y="304" width="9" height="9" fill="#d63808"/><rect x="312" y="312" width="9" height="9" fill="#eae031"/><rect x="320" y="312" width="9" height="9" fill="#eae432"/><rect x="328" y="312" width="9" height="9" fill="#e6e834"/><rect x="336" y="312" width="9" height="9" fill="#dcec38"/><rect x="344" y="312" width="9" height="9" fill="#d2ee3a"/><rect x="352" y="312" width="9" height="9" fill="#aae83a"/><rect x="360" y="312" width="9" height="9" fill="#8ce138"/><rect x="368" y="312" width="17" height="9" fill="#84e03a"/><rect x="384" y="312" width="17" height="9" fill="#7cde3d"/><rect x="400" y="312" width="41" height="9" fill="#74dd40"/><rect x="440" y="312" width="49" height="9" fill="#6cdc42"/><rect x="488" y="312" width="121" height="9" fill="#6adc46"/><rect x="608" y="312" width="25" height="9" fill="#6cdc42"/><rect x="632" y="312" width="17" height="9" fill="#74dd40"/><rect x="648" y="312" width="33" height="9" fill="#7cde3d"/><rect x="680" y="312" width="33" height="9" fill="#84e03a"/><rect x="712" y="312" width="9" height="9" fill="#8ce138"/><rect x="720" y="312" width="9" height="9" fill="#aae83a"/><rect x="728" y="312" width="9" height="9" fill="#c8f03c"/><rect x="736" y="312" width="9" height="9" fill="#dcec38"/><rect x="744" y="312" width="9" height="9" fill="#e6e834"/><rect x="752" y="312" width="9" height="9" fill="#eae432"/><rect x="760" y="312" width="9" height="9" fill="#e9dc31"/><rect x="768" y="312" width="9" height="9" fill="#e8d32f"/><rect x="776" y="312" width="9" height="9" fill="#e8ce2d"/><rect x="784" y="312" width="9" height="9" fill="#e7c82b"/><rect x="792" y="312" width="9" height="9" fill="#e6bc28"/><rect x="800" y="312" width="9" height="9" fill="#e5b225"/><rect x="808" y="312" width="9" height="9" fill="#e4a922"/><rect x="816" y="312" width="17" height="9" fill="#e2a01f"/><rect x="832" y="312" width="17" height="9" fill="#e1961c"/><rect x="848" y="312" width="25" height="9" fill="#e08c19"/><rect x="872" y="312" width="25" height="9" fill="#de8216"/><rect x="896" y="312" width="25" height="9" fill="#dd7812"/><rect x="920" y="312" width="17" height="9" fill="#dc6e0f"/><rect x="936" y="312" width="17" height="9" fill="#db640d"/><rect x="952" y="312" width="9" height="9" fill="#da5a0c"/><rect x="960" y="312" width="9" height="9" fill="#d8500a"/><rect x="968" y="312" width="9" height="9" fill="#d74608"/><rect x="976" y="312" width="17" height="9" fill="#d73f08"/><rect x="992" y="312" width="9" height="9" fill="#d63c08"/><rect x="1000" y="312" width="9" height="9" fill="#d63908"/><rect x="1008" y="312" width="9" height="9" fill="#d63808"/><rect x="1016" y="312" width="9" height="9" fill="#d63808"/><rect x="1024" y="312" width="17" height="9" fill="#d63808"/><rect x="312" y="320" width="9" height="9" fill="#eae031"/><rect x="320" y="320" width="9" height="9" fill="#e8e633"/><rect x="328" y="320" width="9" height="9" fill="#e4ea36"/><rect x="336" y="320" width="9" height="9" fill="#d2ee3a"/><rect x="344" y="320" width="9" height="9" fill="#c8f03c"/><rect x="352" y="320" width="9" height="9" fill="#aae83a"/><rect x="360" y="320" width="9" height="9" fill="#8ce138"/><rect x="368" y="320" width="9" height="9" fill="#84e03a"/><rect x="376" y="320" width="25" height="9" fill="#7cde3d"/><rect x="400" y="320" width="33" height="9" fill="#74dd40"/><rect x="432" y="320" width="25" height="9" fill="#6cdc42"/><rect x="456" y="320" width="169" height="9" fill="#6adc46"/><rect x="624" y="320" width="17" height="9" fill="#6cdc42"/><rect x="640" y="320" width="17" height="9" fill="#74dd40"/><rect x="656" y="320" width="33" height="9" fill="#7cde3d"/><rect x="688" y="320" width="25" height="9" fill="#84e03a"/><rect x="712" y="320" width="9" height="9" fill="#8ce138"/><rect x="720" y="320" width="9" height="9" fill="#aae83a"/><rect x="728" y="320" width="9" height="9" fill="#c8f03c"/><rect x="736" y="320" width="9" height="9" fill="#dcec38"/><rect x="744" y="320" width="9" height="9" fill="#e6e834"/><rect x="752" y="320" width="9" height="9" fill="#eae432"/><rect x="760" y="320" width="9" height="9" fill="#e9dc31"/><rect x="768" y="320" width="9" height="9" fill="#e9d930"/><rect x="776" y="320" width="9" height="9" fill="#e8ce2d"/><rect x="784" y="320" width="9" height="9" fill="#e7c82b"/><rect x="792" y="320" width="9" height="9" fill="#e6bc28"/><rect x="800" y="320" width="9" height="9" fill="#e5b225"/><rect x="808" y="320" width="9" height="9" fill="#e4a922"/><rect x="816" y="320" width="17" height="9" fill="#e2a01f"/><rect x="832" y="320" width="17" height="9" fill="#e1961c"/><rect x="848" y="320" width="25" height="9" fill="#e08c19"/><rect x="872" y="320" width="17" height="9" fill="#de8216"/><rect x="888" y="320" width="17" height="9" fill="#dd7812"/><rect x="904" y="320" width="25" height="9" fill="#dc6e0f"/><rect x="928" y="320" width="17" height="9" fill="#db640d"/><rect x="944" y="320" width="9" height="9" fill="#da5a0c"/><rect x="952" y="320" width="9" height="9" fill="#d8500a"/><rect x="960" y="320" width="9" height="9" fill="#d74608"/><rect x="968" y="320" width="9" height="9" fill="#d74308"/><rect x="976" y="320" width="9" height="9" fill="#d73f08"/><rect x="984" y="320" width="9" height="9" fill="#d63c08"/><rect x="992" y="320" width="9" height="9" fill="#d63908"/><rect x="1000" y="320" width="9" height="9" fill="#d63808"/><rect x="1008" y="320" width="9" height="9" fill="#d63808"/><rect x="1016" y="320" width="9" height="9" fill="#d63808"/><rect x="312" y="328" width="9" height="9" fill="#eae432"/><rect x="320" y="328" width="9" height="9" fill="#e6e834"/><rect x="328" y="328" width="9" height="9" fill="#e4ea36"/><rect x="336" y="328" width="9" height="9" fill="#d2ee3a"/><rect x="344" y="328" width="9" height="9" fill="#c8f03c"/><rect x="352" y="328" width="9" height="9" fill="#aae83a"/><rect x="360" y="328" width="9" height="9" fill="#8ce138"/><rect x="368" y="328" width="9" height="9" fill="#84e03a"/><rect x="376" y="328" width="17" height="9" fill="#7cde3d"/><rect x="392" y="328" width="41" height="9" fill="#74dd40"/><rect x="432" y="328" width="17" height="9" fill="#6cdc42"/><rect x="448" y="328" width="25" height="9" fill="#6adc46"/><rect x="472" y="328" width="129" height="9" fill="#68dc4b"/><rect x="600" y="328" width="25" height="9" fill="#6adc46"/><rect x="624" y="328" width="17" height="9" fill="#6cdc42"/><rect x="640" y="328" width="17" height="9" fill="#74dd40"/><rect x="656" y="328" width="33" height="9" fill="#7cde3d"/><rect x="688" y="328" width="25" height="9" fill="#84e03a"/><rect x="712" y="328" width="9" height="9" fill="#8ce138"/><rect x="720" y="328" width="9" height="9" fill="#aae83a"/><rect x="728" y="328" width="9" height="9" fill="#c8f03c"/><rect x="736" y="328" width="9" height="9" fill="#dcec38"/><rect x="744" y="328" width="9" height="9" fill="#e6e834"/><rect x="752" y="328" width="9" height="9" fill="#eae432"/><rect x="760" y="328" width="9" height="9" fill="#e9dc31"/><rect x="768" y="328" width="9" height="9" fill="#e9d930"/><rect x="776" y="328" width="9" height="9" fill="#e8ce2d"/><rect x="784" y="328" width="9" height="9" fill="#e7c82b"/><rect x="792" y="328" width="9" height="9" fill="#e6bc28"/><rect x="800" y="328" width="9" height="9" fill="#e5b225"/><rect x="808" y="328" width="9" height="9" fill="#e4a922"/><rect x="816" y="328" width="17" height="9" fill="#e2a01f"/><rect x="832" y="328" width="17" height="9" fill="#e1961c"/><rect x="848" y="328" width="17" height="9" fill="#e08c19"/><rect x="864" y="328" width="17" height="9" fill="#de8216"/><rect x="880" y="328" width="17" height="9" fill="#dd7812"/><rect x="896" y="328" width="17" height="9" fill="#dc6e0f"/><rect x="912" y="328" width="25" height="9" fill="#db640d"/><rect x="936" y="328" width="9" height="9" fill="#da5a0c"/><rect x="944" y="328" width="9" height="9" fill="#d8500a"/><rect x="952" y="328" width="9" height="9" fill="#d74608"/><rect x="960" y="328" width="9" height="9" fill="#d74308"/><rect x="968" y="328" width="9" height="9" fill="#d73f08"/><rect x="976" y="328" width="9" height="9" fill="#d63c08"/><rect x="984" y="328" width="9" height="9" fill="#d63908"/><rect x="992" y="328" width="9" height="9" fill="#d63808"/><rect x="1000" y="328" width="9" height="9" fill="#d63808"/><rect x="1008" y="328" width="9" height="9" fill="#d63808"/><rect x="312" y="336" width="9" height="9" fill="#e8e633"/><rect x="320" y="336" width="9" height="9" fill="#e6e834"/><rect x="328" y="336" width="9" height="9" fill="#dcec38"/><rect x="336" y="336" width="9" height="9" fill="#d2ee3a"/><rect x="344" y="336" width="9" height="9" fill="#aae83a"/><rect x="352" y="336" width="9" height="9" fill="#8ce138"/><rect x="360" y="336" width="17" height="9" fill="#84e03a"/><rect x="376" y="336" width="17" height="9" fill="#7cde3d"/><rect x="392" y="336" width="33" height="9" fill="#74dd40"/><rect x="424" y="336" width="25" height="9" fill="#6cdc42"/><rect x="448" y="336" width="17" height="9" fill="#6adc46"/><rect x="464" y="336" width="25" height="9" fill="#68dc4b"/><rect x="488" y="336" width="33" height="9" fill="#66dc4f"/><rect x="520" y="336" width="89" height="9" fill="#68dc4b"/><rect x="608" y="336" width="17" height="9" fill="#6adc46"/><rect x="624" y="336" width="17" height="9" fill="#6cdc42"/><rect x="640" y="336" width="17" height="9" fill="#74dd40"/><rect x="656" y="336" width="41" height="9" fill="#7cde3d"/><rect x="696" y="336" width="17" height="9" fill="#84e03a"/><rect x="712" y="336" width="9" height="9" fill="#8ce138"/><rect x="720" y="336" width="9" height="9" fill="#aae83a"/><rect x="728" y="336" width="9" height="9" fill="#c8f03c"/><rect x="736" y="336" width="9" height="9" fill="#dcec38"/><rect x="744" y="336" width="9" height="9" fill="#e6e834"/><rect x="752" y="336" width="9" height="9" fill="#eae432"/><rect x="760" y="336" width="9" height="9" fill="#e9dc31"/><rect x="768" y="336" width="9" height="9" fill="#e8d32f"/><rect x="776" y="336" width="9" height="9" fill="#e8ce2d"/><rect x="784" y="336" width="9" height="9" fill="#e7c82b"/><rect x="792" y="336" width="9" height="9" fill="#e6bc28"/><rect x="800" y="336" width="9" height="9" fill="#e5b225"/><rect x="808" y="336" width="9" height="9" fill="#e4a922"/><rect x="816" y="336" width="17" height="9" fill="#e2a01f"/><rect x="832" y="336" width="25" height="9" fill="#e1961c"/><rect x="856" y="336" width="9" height="9" fill="#e08c19"/><rect x="864" y="336" width="17" height="9" fill="#de8216"/><rect x="880" y="336" width="9" height="9" fill="#dd7812"/><rect x="888" y="336" width="17" height="9" fill="#dc6e0f"/><rect x="904" y="336" width="17" height="9" fill="#db640d"/><rect x="920" y="336" width="9" height="9" fill="#da5a0c"/><rect x="928" y="336" width="17" height="9" fill="#d8500a"/><rect x="944" y="336" width="9" height="9" fill="#d74608"/><rect x="952" y="336" width="9" height="9" fill="#d74308"/><rect x="960" y="336" width="9" height="9" fill="#d73f08"/><rect x="968" y="336" width="9" height="9" fill="#d63c08"/><rect x="976" y="336" width="9" height="9" fill="#d63908"/><rect x="984" y="336" width="9" height="9" fill="#d63808"/><rect x="992" y="336" width="9" height="9" fill="#d63808"/><rect x="1000" y="336" width="9" height="9" fill="#d63808"/><rect x="312" y="344" width="9" height="9" fill="#e8e633"/><rect x="320" y="344" width="9" height="9" fill="#e4ea36"/><rect x="328" y="344" width="9" height="9" fill="#dcec38"/><rect x="336" y="344" width="9" height="9" fill="#d2ee3a"/><rect x="344" y="344" width="9" height="9" fill="#aae83a"/><rect x="352" y="344" width="9" height="9" fill="#8ce138"/><rect x="360" y="344" width="17" height="9" fill="#84e03a"/><rect x="376" y="344" width="17" height="9" fill="#7cde3d"/><rect x="392" y="344" width="33" height="9" fill="#74dd40"/><rect x="424" y="344" width="25" height="9" fill="#6cdc42"/><rect x="448" y="344" width="9" height="9" fill="#6adc46"/><rect x="456" y="344" width="17" height="9" fill="#68dc4b"/><rect x="472" y="344" width="89" height="9" fill="#66dc4f"/><rect x="560" y="344" width="57" height="9" fill="#68dc4b"/><rect x="616" y="344" width="17" height="9" fill="#6adc46"/><rect x="632" y="344" width="9" height="9" fill="#6cdc42"/><rect x="640" y="344" width="17" height="9" fill="#74dd40"/><rect x="656" y="344" width="41" height="9" fill="#7cde3d"/><rect x="696" y="344" width="17" height="9" fill="#84e03a"/><rect x="712" y="344" width="9" height="9" fill="#8ce138"/><rect x="720" y="344" width="9" height="9" fill="#aae83a"/><rect x="728" y="344" width="9" height="9" fill="#d2ee3a"/><rect x="736" y="344" width="9" height="9" fill="#dcec38"/><rect x="744" y="344" width="9" height="9" fill="#e6e834"/><rect x="752" y="344" width="9" height="9" fill="#eae432"/><rect x="760" y="344" width="9" height="9" fill="#e9dc31"/><rect x="768" y="344" width="9" height="9" fill="#e8d32f"/><rect x="776" y="344" width="9" height="9" fill="#e8ce2d"/><rect x="784" y="344" width="9" height="9" fill="#e7c22a"/><rect x="792" y="344" width="9" height="9" fill="#e6bc28"/><rect x="800" y="344" width="9" height="9" fill="#e5b225"/><rect x="808" y="344" width="9" height="9" fill="#e4a922"/><rect x="816" y="344" width="17" height="9" fill="#e2a01f"/><rect x="832" y="344" width="25" height="9" fill="#e1961c"/><rect x="856" y="344" width="9" height="9" fill="#e08c19"/><rect x="864" y="344" width="9" height="9" fill="#de8216"/><rect x="872" y="344" width="17" height="9" fill="#dd7812"/><rect x="888" y="344" width="9" height="9" fill="#dc6e0f"/><rect x="896" y="344" width="9" height="9" fill="#db640d"/><rect x="904" y="344" width="17" height="9" fill="#da5a0c"/><rect x="920" y="344" width="9" height="9" fill="#d8500a"/><rect x="928" y="344" width="9" height="9" fill="#d74608"/><rect x="936" y="344" width="9" height="9" fill="#d74308"/><rect x="944" y="344" width="9" height="9" fill="#d73f08"/><rect x="952" y="344" width="9" height="9" fill="#d63c08"/><rect x="960" y="344" width="9" height="9" fill="#d63908"/><rect x="968" y="344" width="9" height="9" fill="#d63808"/><rect x="976" y="344" width="17" height="9" fill="#d63808"/><rect x="992" y="344" width="9" height="9" fill="#d63808"/><rect x="312" y="352" width="9" height="9" fill="#e6e834"/><rect x="320" y="352" width="9" height="9" fill="#e4ea36"/><rect x="328" y="352" width="9" height="9" fill="#dcec38"/><rect x="336" y="352" width="9" height="9" fill="#c8f03c"/><rect x="344" y="352" width="9" height="9" fill="#aae83a"/><rect x="352" y="352" width="9" height="9" fill="#8ce138"/><rect x="360" y="352" width="17" height="9" fill="#84e03a"/><rect x="376" y="352" width="17" height="9" fill="#7cde3d"/><rect x="392" y="352" width="25" height="9" fill="#74dd40"/><rect x="416" y="352" width="25" height="9" fill="#6cdc42"/><rect x="440" y="352" width="17" height="9" fill="#6adc46"/><rect x="456" y="352" width="9" height="9" fill="#68dc4b"/><rect x="464" y="352" width="121" height="9" fill="#66dc4f"/><rect x="584" y="352" width="33" height="9" fill="#68dc4b"/><rect x="616" y="352" width="17" height="9" fill="#6adc46"/><rect x="632" y="352" width="9" height="9" fill="#6cdc42"/><rect x="640" y="352" width="17" height="9" fill="#74dd40"/><rect x="656" y="352" width="41" height="9" fill="#7cde3d"/><rect x="696" y="352" width="17" height="9" fill="#84e03a"/><rect x="712" y="352" width="9" height="9" fill="#8ce138"/><rect x="720" y="352" width="9" height="9" fill="#aae83a"/><rect x="728" y="352" width="9" height="9" fill="#d2ee3a"/><rect x="736" y="352" width="9" height="9" fill="#dcec38"/><rect x="744" y="352" width="9" height="9" fill="#e6e834"/><rect x="752" y="352" width="9" height="9" fill="#eae432"/><rect x="760" y="352" width="9" height="9" fill="#e9dc31"/><rect x="768" y="352" width="9" height="9" fill="#e8d32f"/><rect x="776" y="352" width="9" height="9" fill="#e7c82b"/><rect x="784" y="352" width="9" height="9" fill="#e7c22a"/><rect x="792" y="352" width="9" height="9" fill="#e6bc28"/><rect x="800" y="352" width="9" height="9" fill="#e5b225"/><rect x="808" y="352" width="9" height="9" fill="#e4a922"/><rect x="816" y="352" width="17" height="9" fill="#e2a01f"/><rect x="832" y="352" width="25" height="9" fill="#e1961c"/><rect x="856" y="352" width="9" height="9" fill="#e08c19"/><rect x="864" y="352" width="9" height="9" fill="#de8216"/><rect x="872" y="352" width="9" height="9" fill="#dd7812"/><rect x="880" y="352" width="9" height="9" fill="#dc6e0f"/><rect x="888" y="352" width="17" height="9" fill="#db640d"/><rect x="904" y="352" width="9" height="9" fill="#da5a0c"/><rect x="912" y="352" width="9" height="9" fill="#d8500a"/><rect x="920" y="352" width="9" height="9" fill="#d74608"/><rect x="928" y="352" width="9" height="9" fill="#d74308"/><rect x="936" y="352" width="9" height="9" fill="#d73f08"/><rect x="944" y="352" width="9" height="9" fill="#d63c08"/><rect x="952" y="352" width="9" height="9" fill="#d63908"/><rect x="960" y="352" width="9" height="9" fill="#d63808"/><rect x="968" y="352" width="9" height="9" fill="#d63808"/><rect x="976" y="352" width="17" height="9" fill="#d63808"/><rect x="312" y="360" width="9" height="9" fill="#e6e834"/><rect x="320" y="360" width="9" height="9" fill="#dcec38"/><rect x="328" y="360" width="9" height="9" fill="#d2ee3a"/><rect x="336" y="360" width="9" height="9" fill="#c8f03c"/><rect x="344" y="360" width="9" height="9" fill="#aae83a"/><rect x="352" y="360" width="9" height="9" fill="#8ce138"/><rect x="360" y="360" width="17" height="9" fill="#84e03a"/><rect x="376" y="360" width="17" height="9" fill="#7cde3d"/><rect x="392" y="360" width="17" height="9" fill="#74dd40"/><rect x="408" y="360" width="25" height="9" fill="#6cdc42"/><rect x="432" y="360" width="17" height="9" fill="#6adc46"/><rect x="448" y="360" width="17" height="9" fill="#68dc4b"/><rect x="464" y="360" width="9" height="9" fill="#66dc4f"/><rect x="472" y="360" width="49" height="9" fill="#67dd66"/><rect x="520" y="360" width="73" height="9" fill="#66dc4f"/><rect x="592" y="360" width="25" height="9" fill="#68dc4b"/><rect x="616" y="360" width="17" height="9" fill="#6adc46"/><rect x="632" y="360" width="17" height="9" fill="#6cdc42"/><rect x="648" y="360" width="17" height="9" fill="#74dd40"/><rect x="664" y="360" width="33" height="9" fill="#7cde3d"/><rect x="696" y="360" width="17" height="9" fill="#84e03a"/><rect x="712" y="360" width="9" height="9" fill="#8ce138"/><rect x="720" y="360" width="9" height="9" fill="#aae83a"/><rect x="728" y="360" width="9" height="9" fill="#d2ee3a"/><rect x="736" y="360" width="9" height="9" fill="#dcec38"/><rect x="744" y="360" width="9" height="9" fill="#e6e834"/><rect x="752" y="360" width="9" height="9" fill="#eae031"/><rect x="760" y="360" width="9" height="9" fill="#e9d930"/><rect x="768" y="360" width="9" height="9" fill="#e8d32f"/><rect x="776" y="360" width="9" height="9" fill="#e7c82b"/><rect x="784" y="360" width="9" height="9" fill="#e7c22a"/><rect x="792" y="360" width="9" height="9" fill="#e5b225"/><rect x="800" y="360" width="9" height="9" fill="#e4a922"/><rect x="808" y="360" width="17" height="9" fill="#e2a01f"/><rect x="824" y="360" width="25" height="9" fill="#e1961c"/><rect x="848" y="360" width="17" height="9" fill="#e08c19"/><rect x="864" y="360" width="9" height="9" fill="#de8216"/><rect x="872" y="360" width="9" height="9" fill="#dd7812"/><rect x="880" y="360" width="9" height="9" fill="#dc6e0f"/><rect x="888" y="360" width="9" height="9" fill="#db640d"/><rect x="896" y="360" width="9" height="9" fill="#da5a0c"/><rect x="904" y="360" width="9" height="9" fill="#d8500a"/><rect x="912" y="360" width="9" height="9" fill="#d74608"/><rect x="920" y="360" width="9" height="9" fill="#d74308"/><rect x="928" y="360" width="9" height="9" fill="#d73f08"/><rect x="936" y="360" width="9" height="9" fill="#d63c08"/><rect x="944" y="360" width="9" height="9" fill="#d63908"/><rect x="952" y="360" width="9" height="9" fill="#d63808"/><rect x="960" y="360" width="9" height="9" fill="#d63808"/><rect x="968" y="360" width="9" height="9" fill="#d63808"/><rect x="976" y="360" width="9" height="9" fill="#d63808"/><rect x="312" y="368" width="9" height="9" fill="#e4ea36"/><rect x="320" y="368" width="9" height="9" fill="#dcec38"/><rect x="328" y="368" width="9" height="9" fill="#d2ee3a"/><rect x="336" y="368" width="9" height="9" fill="#c8f03c"/><rect x="344" y="368" width="9" height="9" fill="#aae83a"/><rect x="352" y="368" width="9" height="9" fill="#8ce138"/><rect x="360" y="368" width="17" height="9" fill="#84e03a"/><rect x="376" y="368" width="17" height="9" fill="#7cde3d"/><rect x="392" y="368" width="17" height="9" fill="#74dd40"/><rect x="408" y="368" width="9" height="9" fill="#6cdc42"/><rect x="416" y="368" width="17" height="9" fill="#6adc46"/><rect x="432" y="368" width="25" height="9" fill="#68dc4b"/><rect x="456" y="368" width="17" height="9" fill="#66dc4f"/><rect x="472" y="368" width="49" height="9" fill="#67dd66"/><rect x="520" y="368" width="81" height="9" fill="#66dc4f"/><rect x="600" y="368" width="25" height="9" fill="#68dc4b"/><rect x="624" y="368" width="9" height="9" fill="#6adc46"/><rect x="632" y="368" width="17" height="9" fill="#6cdc42"/><rect x="648" y="368" width="33" height="9" fill="#74dd40"/><rect x="680" y="368" width="25" height="9" fill="#7cde3d"/><rect x="704" y="368" width="9" height="9" fill="#84e03a"/><rect x="712" y="368" width="9" height="9" fill="#8ce138"/><rect x="720" y="368" width="9" height="9" fill="#aae83a"/><rect x="728" y="368" width="9" height="9" fill="#d2ee3a"/><rect x="736" y="368" width="9" height="9" fill="#e4ea36"/><rect x="744" y="368" width="9" height="9" fill="#e8e633"/><rect x="752" y="368" width="9" height="9" fill="#eae031"/><rect x="760" y="368" width="9" height="9" fill="#e9d930"/><rect x="768" y="368" width="9" height="9" fill="#e8ce2d"/><rect x="776" y="368" width="9" height="9" fill="#e7c82b"/><rect x="784" y="368" width="9" height="9" fill="#e6bc28"/><rect x="792" y="368" width="9" height="9" fill="#e5b225"/><rect x="800" y="368" width="9" height="9" fill="#e4a922"/><rect x="808" y="368" width="17" height="9" fill="#e2a01f"/><rect x="824" y="368" width="25" height="9" fill="#e1961c"/><rect x="848" y="368" width="9" height="9" fill="#e08c19"/><rect x="856" y="368" width="9" height="9" fill="#de8216"/><rect x="864" y="368" width="9" height="9" fill="#dd7812"/><rect x="872" y="368" width="9" height="9" fill="#dc6e0f"/><rect x="880" y="368" width="9" height="9" fill="#db640d"/><rect x="888" y="368" width="9" height="9" fill="#da5a0c"/><rect x="896" y="368" width="9" height="9" fill="#d8500a"/><rect x="904" y="368" width="9" height="9" fill="#d74608"/><rect x="912" y="368" width="9" height="9" fill="#d74308"/><rect x="920" y="368" width="9" height="9" fill="#d73f08"/><rect x="928" y="368" width="9" height="9" fill="#d63c08"/><rect x="936" y="368" width="9" height="9" fill="#d63908"/><rect x="944" y="368" width="9" height="9" fill="#d63808"/><rect x="952" y="368" width="9" height="9" fill="#d63808"/><rect x="960" y="368" width="9" height="9" fill="#d63808"/><rect x="968" y="368" width="9" height="9" fill="#d63808"/><rect x="320" y="376" width="9" height="9" fill="#dcec38"/><rect x="328" y="376" width="9" height="9" fill="#d2ee3a"/><rect x="336" y="376" width="9" height="9" fill="#c8f03c"/><rect x="344" y="376" width="9" height="9" fill="#aae83a"/><rect x="352" y="376" width="9" height="9" fill="#8ce138"/><rect x="360" y="376" width="9" height="9" fill="#84e03a"/><rect x="368" y="376" width="17" height="9" fill="#7cde3d"/><rect x="384" y="376" width="17" height="9" fill="#74dd40"/><rect x="400" y="376" width="9" height="9" fill="#6cdc42"/><rect x="408" y="376" width="17" height="9" fill="#6adc46"/><rect x="424" y="376" width="9" height="9" fill="#68dc4b"/><rect x="432" y="376" width="33" height="9" fill="#66dc4f"/><rect x="464" y="376" width="25" height="9" fill="#67dd66"/><rect x="488" y="376" width="17" height="9" fill="#68de81"/><rect x="504" y="376" width="25" height="9" fill="#67dd66"/><rect x="528" y="376" width="9" height="9" fill="#66dc4f"/><rect x="536" y="376" width="49" height="9" fill="#67dd66"/><rect x="584" y="376" width="25" height="9" fill="#66dc4f"/><rect x="608" y="376" width="17" height="9" fill="#68dc4b"/><rect x="624" y="376" width="17" height="9" fill="#6adc46"/><rect x="640" y="376" width="17" height="9" fill="#6cdc42"/><rect x="656" y="376" width="33" height="9" fill="#74dd40"/><rect x="688" y="376" width="17" height="9" fill="#7cde3d"/><rect x="704" y="376" width="9" height="9" fill="#84e03a"/><rect x="712" y="376" width="9" height="9" fill="#8ce138"/><rect x="720" y="376" width="9" height="9" fill="#aae83a"/><rect x="728" y="376" width="9" height="9" fill="#d2ee3a"/><rect x="736" y="376" width="9" height="9" fill="#e4ea36"/><rect x="744" y="376" width="9" height="9" fill="#e8e633"/><rect x="752" y="376" width="9" height="9" fill="#eae031"/><rect x="760" y="376" width="9" height="9" fill="#e9d930"/><rect x="768" y="376" width="9" height="9" fill="#e8ce2d"/><rect x="776" y="376" width="9" height="9" fill="#e7c82b"/><rect x="784" y="376" width="9" height="9" fill="#e6bc28"/><rect x="792" y="376" width="9" height="9" fill="#e5b225"/><rect x="800" y="376" width="9" height="9" fill="#e4a922"/><rect x="808" y="376" width="25" height="9" fill="#e2a01f"/><rect x="832" y="376" width="17" height="9" fill="#e1961c"/><rect x="848" y="376" width="9" height="9" fill="#e08c19"/><rect x="856" y="376" width="9" height="9" fill="#de8216"/><rect x="864" y="376" width="9" height="9" fill="#dd7812"/><rect x="872" y="376" width="9" height="9" fill="#db640d"/><rect x="880" y="376" width="9" height="9" fill="#da5a0c"/><rect x="888" y="376" width="17" height="9" fill="#d8500a"/><rect x="904" y="376" width="9" height="9" fill="#d74608"/><rect x="912" y="376" width="9" height="9" fill="#d73f08"/><rect x="920" y="376" width="9" height="9" fill="#d63c08"/><rect x="928" y="376" width="9" height="9" fill="#d63908"/><rect x="936" y="376" width="9" height="9" fill="#d63808"/><rect x="944" y="376" width="9" height="9" fill="#d63808"/><rect x="952" y="376" width="9" height="9" fill="#d63808"/><rect x="320" y="384" width="9" height="9" fill="#dcec38"/><rect x="328" y="384" width="9" height="9" fill="#d2ee3a"/><rect x="336" y="384" width="9" height="9" fill="#c8f03c"/><rect x="344" y="384" width="9" height="9" fill="#aae83a"/><rect x="352" y="384" width="9" height="9" fill="#8ce138"/><rect x="360" y="384" width="9" height="9" fill="#84e03a"/><rect x="368" y="384" width="17" height="9" fill="#7cde3d"/><rect x="384" y="384" width="9" height="9" fill="#74dd40"/><rect x="392" y="384" width="9" height="9" fill="#6cdc42"/><rect x="400" y="384" width="9" height="9" fill="#6adc46"/><rect x="408" y="384" width="9" height="9" fill="#68dc4b"/><rect x="416" y="384" width="17" height="9" fill="#66dc4f"/><rect x="432" y="384" width="33" height="9" fill="#67dd66"/><rect x="464" y="384" width="17" height="9" fill="#68de81"/><rect x="480" y="384" width="25" height="9" fill="#6ae0a3"/><rect x="504" y="384" width="17" height="9" fill="#68de81"/><rect x="520" y="384" width="81" height="9" fill="#67dd66"/><rect x="600" y="384" width="17" height="9" fill="#66dc4f"/><rect x="616" y="384" width="17" height="9" fill="#68dc4b"/><rect x="632" y="384" width="17" height="9" fill="#6adc46"/><rect x="648" y="384" width="25" height="9" fill="#6cdc42"/><rect x="672" y="384" width="25" height="9" fill="#74dd40"/><rect x="696" y="384" width="9" height="9" fill="#7cde3d"/><rect x="704" y="384" width="9" height="9" fill="#84e03a"/><rect x="712" y="384" width="9" height="9" fill="#8ce138"/><rect x="720" y="384" width="9" height="9" fill="#aae83a"/><rect x="728" y="384" width="9" height="9" fill="#d2ee3a"/><rect x="736" y="384" width="9" height="9" fill="#e4ea36"/><rect x="744" y="384" width="9" height="9" fill="#e8e633"/><rect x="752" y="384" width="9" height="9" fill="#eae031"/><rect x="760" y="384" width="9" height="9" fill="#e9d930"/><rect x="768" y="384" width="9" height="9" fill="#e8ce2d"/><rect x="776" y="384" width="9" height="9" fill="#e7c82b"/><rect x="784" y="384" width="9" height="9" fill="#e6bc28"/><rect x="792" y="384" width="9" height="9" fill="#e5b225"/><rect x="800" y="384" width="9" height="9" fill="#e4a922"/><rect x="808" y="384" width="17" height="9" fill="#e2a01f"/><rect x="824" y="384" width="25" height="9" fill="#e1961c"/><rect x="848" y="384" width="9" height="9" fill="#e08c19"/><rect x="856" y="384" width="9" height="9" fill="#dd7812"/><rect x="864" y="384" width="9" height="9" fill="#dc6e0f"/><rect x="872" y="384" width="9" height="9" fill="#db640d"/><rect x="880" y="384" width="17" height="9" fill="#d8500a"/><rect x="896" y="384" width="9" height="9" fill="#d74608"/><rect x="904" y="384" width="9" height="9" fill="#d74308"/><rect x="912" y="384" width="9" height="9" fill="#d73f08"/><rect x="920" y="384" width="9" height="9" fill="#d63c08"/><rect x="928" y="384" width="9" height="9" fill="#d63808"/><rect x="936" y="384" width="9" height="9" fill="#d63808"/><rect x="944" y="384" width="9" height="9" fill="#d63808"/><rect x="320" y="392" width="9" height="9" fill="#dcec38"/><rect x="328" y="392" width="9" height="9" fill="#d2ee3a"/><rect x="336" y="392" width="9" height="9" fill="#c8f03c"/><rect x="344" y="392" width="9" height="9" fill="#aae83a"/><rect x="352" y="392" width="9" height="9" fill="#8ce138"/><rect x="360" y="392" width="9" height="9" fill="#84e03a"/><rect x="368" y="392" width="9" height="9" fill="#7cde3d"/><rect x="376" y="392" width="9" height="9" fill="#74dd40"/><rect x="384" y="392" width="9" height="9" fill="#6cdc42"/><rect x="392" y="392" width="9" height="9" fill="#6adc46"/><rect x="400" y="392" width="9" height="9" fill="#68dc4b"/><rect x="408" y="392" width="9" height="9" fill="#66dc4f"/><rect x="416" y="392" width="9" height="9" fill="#67dd66"/><rect x="424" y="392" width="33" height="9" fill="#68de81"/><rect x="456" y="392" width="17" height="9" fill="#6ae0a3"/><rect x="472" y="392" width="9" height="9" fill="#6ce2c6"/><rect x="480" y="392" width="25" height="9" fill="#6ae3db"/><rect x="504" y="392" width="9" height="9" fill="#6ce2c6"/><rect x="512" y="392" width="41" height="9" fill="#6ae0a3"/><rect x="552" y="392" width="33" height="9" fill="#68de81"/><rect x="584" y="392" width="33" height="9" fill="#67dd66"/><rect x="616" y="392" width="17" height="9" fill="#66dc4f"/><rect x="632" y="392" width="9" height="9" fill="#68dc4b"/><rect x="640" y="392" width="17" height="9" fill="#6adc46"/><rect x="656" y="392" width="25" height="9" fill="#6cdc42"/><rect x="680" y="392" width="17" height="9" fill="#74dd40"/><rect x="696" y="392" width="9" height="9" fill="#7cde3d"/><rect x="704" y="392" width="9" height="9" fill="#84e03a"/><rect x="712" y="392" width="9" height="9" fill="#8ce138"/><rect x="720" y="392" width="9" height="9" fill="#aae83a"/><rect x="728" y="392" width="9" height="9" fill="#d2ee3a"/><rect x="736" y="392" width="9" height="9" fill="#e4ea36"/><rect x="744" y="392" width="9" height="9" fill="#e8e633"/><rect x="752" y="392" width="9" height="9" fill="#eae031"/><rect x="760" y="392" width="9" height="9" fill="#e9d930"/><rect x="768" y="392" width="9" height="9" fill="#e8ce2d"/><rect x="776" y="392" width="9" height="9" fill="#e7c82b"/><rect x="784" y="392" width="9" height="9" fill="#e6bc28"/><rect x="792" y="392" width="9" height="9" fill="#e5b225"/><rect x="800" y="392" width="9" height="9" fill="#e4a922"/><rect x="808" y="392" width="17" height="9" fill="#e2a01f"/><rect x="824" y="392" width="17" height="9" fill="#e1961c"/><rect x="840" y="392" width="9" height="9" fill="#e08c19"/><rect x="848" y="392" width="9" height="9" fill="#de8216"/><rect x="856" y="392" width="9" height="9" fill="#dd7812"/><rect x="864" y="392" width="9" height="9" fill="#db640d"/><rect x="872" y="392" width="9" height="9" fill="#d8500a"/><rect x="880" y="392" width="17" height="9" fill="#d74608"/><rect x="896" y="392" width="9" height="9" fill="#d74308"/><rect x="904" y="392" width="9" height="9" fill="#d73f08"/><rect x="912" y="392" width="9" height="9" fill="#d63c08"/><rect x="920" y="392" width="9" height="9" fill="#d63908"/><rect x="928" y="392" width="9" height="9" fill="#d63808"/><rect x="328" y="400" width="9" height="9" fill="#d2ee3a"/><rect x="336" y="400" width="9" height="9" fill="#c8f03c"/><rect x="344" y="400" width="9" height="9" fill="#aae83a"/><rect x="352" y="400" width="9" height="9" fill="#8ce138"/><rect x="360" y="400" width="9" height="9" fill="#84e03a"/><rect x="368" y="400" width="9" height="9" fill="#7cde3d"/><rect x="376" y="400" width="9" height="9" fill="#74dd40"/><rect x="384" y="400" width="9" height="9" fill="#6cdc42"/><rect x="392" y="400" width="9" height="9" fill="#6adc46"/><rect x="400" y="400" width="9" height="9" fill="#68dc4b"/><rect x="408" y="400" width="9" height="9" fill="#67dd66"/><rect x="416" y="400" width="9" height="9" fill="#68de81"/><rect x="424" y="400" width="33" height="9" fill="#6ae0a3"/><rect x="456" y="400" width="9" height="9" fill="#6ce2c6"/><rect x="464" y="400" width="9" height="9" fill="#68e4ed"/><rect x="472" y="400" width="9" height="9" fill="#66e3f8"/><rect x="480" y="400" width="17" height="9" fill="#65e2f9"/><rect x="496" y="400" width="17" height="9" fill="#66e3f8"/><rect x="512" y="400" width="17" height="9" fill="#68e4ed"/><rect x="528" y="400" width="17" height="9" fill="#6ae3db"/><rect x="544" y="400" width="17" height="9" fill="#6ce2c6"/><rect x="560" y="400" width="9" height="9" fill="#6ae0a3"/><rect x="568" y="400" width="49" height="9" fill="#68de81"/><rect x="616" y="400" width="9" height="9" fill="#67dd66"/><rect x="624" y="400" width="17" height="9" fill="#66dc4f"/><rect x="640" y="400" width="9" height="9" fill="#68dc4b"/><rect x="648" y="400" width="25" height="9" fill="#6adc46"/><rect x="672" y="400" width="17" height="9" fill="#6cdc42"/><rect x="688" y="400" width="9" height="9" fill="#74dd40"/><rect x="696" y="400" width="9" height="9" fill="#7cde3d"/><rect x="704" y="400" width="9" height="9" fill="#84e03a"/><rect x="712" y="400" width="9" height="9" fill="#8ce138"/><rect x="720" y="400" width="9" height="9" fill="#aae83a"/><rect x="728" y="400" width="9" height="9" fill="#d2ee3a"/><rect x="736" y="400" width="9" height="9" fill="#e4ea36"/><rect x="744" y="400" width="9" height="9" fill="#e8e633"/><rect x="752" y="400" width="9" height="9" fill="#eae031"/><rect x="760" y="400" width="9" height="9" fill="#e9d930"/><rect x="768" y="400" width="9" height="9" fill="#e8ce2d"/><rect x="776" y="400" width="9" height="9" fill="#e7c22a"/><rect x="784" y="400" width="9" height="9" fill="#e6bc28"/><rect x="792" y="400" width="9" height="9" fill="#e5b225"/><rect x="800" y="400" width="9" height="9" fill="#e4a922"/><rect x="808" y="400" width="17" height="9" fill="#e2a01f"/><rect x="824" y="400" width="17" height="9" fill="#e1961c"/><rect x="840" y="400" width="9" height="9" fill="#e08c19"/><rect x="848" y="400" width="9" height="9" fill="#de8216"/><rect x="856" y="400" width="9" height="9" fill="#dc6e0f"/><rect x="864" y="400" width="9" height="9" fill="#da5a0c"/><rect x="872" y="400" width="9" height="9" fill="#d8500a"/><rect x="880" y="400" width="9" height="9" fill="#d74608"/><rect x="888" y="400" width="9" height="9" fill="#d74308"/><rect x="896" y="400" width="9" height="9" fill="#d73f08"/><rect x="904" y="400" width="9" height="9" fill="#d63c08"/><rect x="912" y="400" width="9" height="9" fill="#d63908"/><rect x="328" y="408" width="9" height="9" fill="#d2ee3a"/><rect x="336" y="408" width="9" height="9" fill="#c8f03c"/><rect x="344" y="408" width="9" height="9" fill="#aae83a"/><rect x="352" y="408" width="9" height="9" fill="#8ce138"/><rect x="360" y="408" width="9" height="9" fill="#7cde3d"/><rect x="368" y="408" width="9" height="9" fill="#74dd40"/><rect x="376" y="408" width="9" height="9" fill="#6cdc42"/><rect x="384" y="408" width="9" height="9" fill="#6adc46"/><rect x="392" y="408" width="9" height="9" fill="#68dc4b"/><rect x="400" y="408" width="9" height="9" fill="#66dc4f"/><rect x="408" y="408" width="9" height="9" fill="#67dd66"/><rect x="416" y="408" width="9" height="9" fill="#6ae0a3"/><rect x="424" y="408" width="33" height="9" fill="#6ce2c6"/><rect x="456" y="408" width="9" height="9" fill="#6ae3db"/><rect x="464" y="408" width="9" height="9" fill="#65e2f9"/><rect x="472" y="408" width="33" height="9" fill="#63daf8"/><rect x="504" y="408" width="17" height="9" fill="#64dffa"/><rect x="520" y="408" width="9" height="9" fill="#65e0f9"/><rect x="528" y="408" width="17" height="9" fill="#65e2f9"/><rect x="544" y="408" width="9" height="9" fill="#66e3f8"/><rect x="552" y="408" width="9" height="9" fill="#68e4ed"/><rect x="560" y="408" width="9" height="9" fill="#6ae3db"/><rect x="568" y="408" width="17" height="9" fill="#6ae0a3"/><rect x="584" y="408" width="25" height="9" fill="#6ce2c6"/><rect x="608" y="408" width="9" height="9" fill="#6ae0a3"/><rect x="616" y="408" width="9" height="9" fill="#68de81"/><rect x="624" y="408" width="9" height="9" fill="#67dd66"/><rect x="632" y="408" width="9" height="9" fill="#66dc4f"/><rect x="640" y="408" width="25" height="9" fill="#68dc4b"/><rect x="664" y="408" width="17" height="9" fill="#6adc46"/><rect x="680" y="408" width="9" height="9" fill="#6cdc42"/><rect x="688" y="408" width="9" height="9" fill="#74dd40"/><rect x="696" y="408" width="9" height="9" fill="#7cde3d"/><rect x="704" y="408" width="9" height="9" fill="#84e03a"/><rect x="712" y="408" width="9" height="9" fill="#8ce138"/><rect x="720" y="408" width="9" height="9" fill="#aae83a"/><rect x="728" y="408" width="9" height="9" fill="#d2ee3a"/><rect x="736" y="408" width="9" height="9" fill="#e4ea36"/><rect x="744" y="408" width="9" height="9" fill="#e8e633"/><rect x="752" y="408" width="9" height="9" fill="#eae031"/><rect x="760" y="408" width="9" height="9" fill="#e9d930"/><rect x="768" y="408" width="9" height="9" fill="#e8ce2d"/><rect x="776" y="408" width="9" height="9" fill="#e7c22a"/><rect x="784" y="408" width="9" height="9" fill="#e6bc28"/><rect x="792" y="408" width="9" height="9" fill="#e5b225"/><rect x="800" y="408" width="9" height="9" fill="#e4a922"/><rect x="808" y="408" width="9" height="9" fill="#e2a01f"/><rect x="816" y="408" width="17" height="9" fill="#e1961c"/><rect x="832" y="408" width="9" height="9" fill="#e08c19"/><rect x="840" y="408" width="9" height="9" fill="#de8216"/><rect x="848" y="408" width="9" height="9" fill="#dd7812"/><rect x="856" y="408" width="9" height="9" fill="#dc6e0f"/><rect x="864" y="408" width="9" height="9" fill="#da5a0c"/><rect x="872" y="408" width="9" height="9" fill="#d74608"/><rect x="880" y="408" width="9" height="9" fill="#d74308"/><rect x="888" y="408" width="9" height="9" fill="#d73f08"/><rect x="896" y="408" width="9" height="9" fill="#d63c08"/><rect x="904" y="408" width="9" height="9" fill="#d63908"/><rect x="328" y="416" width="9" height="9" fill="#c8f03c"/><rect x="336" y="416" width="17" height="9" fill="#aae83a"/><rect x="352" y="416" width="9" height="9" fill="#84e03a"/><rect x="360" y="416" width="9" height="9" fill="#7cde3d"/><rect x="368" y="416" width="9" height="9" fill="#74dd40"/><rect x="376" y="416" width="9" height="9" fill="#6cdc42"/><rect x="384" y="416" width="9" height="9" fill="#6adc46"/><rect x="392" y="416" width="9" height="9" fill="#68dc4b"/><rect x="400" y="416" width="9" height="9" fill="#67dd66"/><rect x="408" y="416" width="9" height="9" fill="#68de81"/><rect x="416" y="416" width="9" height="9" fill="#6ae0a3"/><rect x="424" y="416" width="9" height="9" fill="#6ae3db"/><rect x="432" y="416" width="17" height="9" fill="#68e4ed"/><rect x="448" y="416" width="9" height="9" fill="#6ae3db"/><rect x="456" y="416" width="9" height="9" fill="#66e3f8"/><rect x="464" y="416" width="9" height="9" fill="#63daf8"/><rect x="472" y="416" width="9" height="9" fill="#5cc8f0"/><rect x="480" y="416" width="17" height="9" fill="#56b9ea"/><rect x="496" y="416" width="17" height="9" fill="#59c0ed"/><rect x="512" y="416" width="17" height="9" fill="#5cc8f0"/><rect x="528" y="416" width="9" height="9" fill="#5fd1f4"/><rect x="536" y="416" width="9" height="9" fill="#64dffa"/><rect x="544" y="416" width="9" height="9" fill="#65e0f9"/><rect x="552" y="416" width="9" height="9" fill="#65e2f9"/><rect x="560" y="416" width="9" height="9" fill="#66e3f8"/><rect x="568" y="416" width="41" height="9" fill="#68e4ed"/><rect x="608" y="416" width="9" height="9" fill="#6ae3db"/><rect x="616" y="416" width="9" height="9" fill="#6ce2c6"/><rect x="624" y="416" width="9" height="9" fill="#6ae0a3"/><rect x="632" y="416" width="9" height="9" fill="#67dd66"/><rect x="640" y="416" width="17" height="9" fill="#66dc4f"/><rect x="656" y="416" width="17" height="9" fill="#68dc4b"/><rect x="672" y="416" width="17" height="9" fill="#6adc46"/><rect x="688" y="416" width="9" height="9" fill="#6cdc42"/><rect x="696" y="416" width="9" height="9" fill="#74dd40"/><rect x="704" y="416" width="9" height="9" fill="#7cde3d"/><rect x="712" y="416" width="9" height="9" fill="#8ce138"/><rect x="720" y="416" width="9" height="9" fill="#aae83a"/><rect x="728" y="416" width="9" height="9" fill="#d2ee3a"/><rect x="736" y="416" width="9" height="9" fill="#e4ea36"/><rect x="744" y="416" width="9" height="9" fill="#e8e633"/><rect x="752" y="416" width="9" height="9" fill="#eae031"/><rect x="760" y="416" width="9" height="9" fill="#e9d930"/><rect x="768" y="416" width="9" height="9" fill="#e8ce2d"/><rect x="776" y="416" width="9" height="9" fill="#e7c22a"/><rect x="784" y="416" width="9" height="9" fill="#e6bc28"/><rect x="792" y="416" width="9" height="9" fill="#e5b225"/><rect x="800" y="416" width="9" height="9" fill="#e4a922"/><rect x="808" y="416" width="9" height="9" fill="#e2a01f"/><rect x="816" y="416" width="9" height="9" fill="#e1961c"/><rect x="824" y="416" width="17" height="9" fill="#e08c19"/><rect x="840" y="416" width="9" height="9" fill="#de8216"/><rect x="848" y="416" width="9" height="9" fill="#dc6e0f"/><rect x="856" y="416" width="9" height="9" fill="#db640d"/><rect x="864" y="416" width="9" height="9" fill="#d8500a"/><rect x="872" y="416" width="9" height="9" fill="#d74608"/><rect x="880" y="416" width="9" height="9" fill="#d74308"/><rect x="888" y="416" width="9" height="9" fill="#d73f08"/><rect x="336" y="424" width="9" height="9" fill="#aae83a"/><rect x="344" y="424" width="9" height="9" fill="#8ce138"/><rect x="352" y="424" width="9" height="9" fill="#84e03a"/><rect x="360" y="424" width="9" height="9" fill="#7cde3d"/><rect x="368" y="424" width="9" height="9" fill="#74dd40"/><rect x="376" y="424" width="9" height="9" fill="#6cdc42"/><rect x="384" y="424" width="9" height="9" fill="#6adc46"/><rect x="392" y="424" width="9" height="9" fill="#68dc4b"/><rect x="400" y="424" width="9" height="9" fill="#67dd66"/><rect x="408" y="424" width="9" height="9" fill="#68de81"/><rect x="416" y="424" width="9" height="9" fill="#6ce2c6"/><rect x="424" y="424" width="9" height="9" fill="#68e4ed"/><rect x="432" y="424" width="9" height="9" fill="#65e2f9"/><rect x="440" y="424" width="17" height="9" fill="#65e0f9"/><rect x="456" y="424" width="9" height="9" fill="#64dffa"/><rect x="464" y="424" width="9" height="9" fill="#5cc8f0"/><rect x="472" y="424" width="9" height="9" fill="#53b2e7"/><rect x="480" y="424" width="9" height="9" fill="#50aae4"/><rect x="488" y="424" width="17" height="9" fill="#4ea5e4"/><rect x="504" y="424" width="9" height="9" fill="#50aae4"/><rect x="512" y="424" width="17" height="9" fill="#53b2e7"/><rect x="528" y="424" width="9" height="9" fill="#59c0ed"/><rect x="536" y="424" width="9" height="9" fill="#5cc8f0"/><rect x="544" y="424" width="9" height="9" fill="#5fd1f4"/><rect x="552" y="424" width="9" height="9" fill="#63daf8"/><rect x="560" y="424" width="9" height="9" fill="#64dffa"/><rect x="568" y="424" width="9" height="9" fill="#65e0f9"/><rect x="576" y="424" width="33" height="9" fill="#65e2f9"/><rect x="608" y="424" width="9" height="9" fill="#66e3f8"/><rect x="616" y="424" width="9" height="9" fill="#68e4ed"/><rect x="624" y="424" width="9" height="9" fill="#6ce2c6"/><rect x="632" y="424" width="9" height="9" fill="#67dd66"/><rect x="640" y="424" width="33" height="9" fill="#66dc4f"/><rect x="672" y="424" width="9" height="9" fill="#68dc4b"/><rect x="680" y="424" width="9" height="9" fill="#6adc46"/><rect x="688" y="424" width="9" height="9" fill="#6cdc42"/><rect x="696" y="424" width="9" height="9" fill="#74dd40"/><rect x="704" y="424" width="9" height="9" fill="#7cde3d"/><rect x="712" y="424" width="9" height="9" fill="#84e03a"/><rect x="720" y="424" width="9" height="9" fill="#aae83a"/><rect x="728" y="424" width="9" height="9" fill="#d2ee3a"/><rect x="736" y="424" width="9" height="9" fill="#e4ea36"/><rect x="744" y="424" width="9" height="9" fill="#e8e633"/><rect x="752" y="424" width="9" height="9" fill="#eae031"/><rect x="760" y="424" width="9" height="9" fill="#e9d930"/><rect x="768" y="424" width="9" height="9" fill="#e8ce2d"/><rect x="776" y="424" width="9" height="9" fill="#e7c82b"/><rect x="784" y="424" width="9" height="9" fill="#e6bc28"/><rect x="792" y="424" width="9" height="9" fill="#e5b225"/><rect x="800" y="424" width="9" height="9" fill="#e4a922"/><rect x="808" y="424" width="9" height="9" fill="#e2a01f"/><rect x="816" y="424" width="9" height="9" fill="#e1961c"/><rect x="824" y="424" width="9" height="9" fill="#e08c19"/><rect x="832" y="424" width="9" height="9" fill="#de8216"/><rect x="840" y="424" width="9" height="9" fill="#dd7812"/><rect x="848" y="424" width="9" height="9" fill="#dc6e0f"/><rect x="856" y="424" width="9" height="9" fill="#da5a0c"/><rect x="864" y="424" width="9" height="9" fill="#d8500a"/><rect x="872" y="424" width="9" height="9" fill="#d74608"/><rect x="336" y="432" width="9" height="9" fill="#8ce138"/><rect x="344" y="432" width="9" height="9" fill="#84e03a"/><rect x="352" y="432" width="9" height="9" fill="#7cde3d"/><rect x="360" y="432" width="9" height="9" fill="#74dd40"/><rect x="368" y="432" width="17" height="9" fill="#6cdc42"/><rect x="384" y="432" width="9" height="9" fill="#6adc46"/><rect x="392" y="432" width="9" height="9" fill="#68dc4b"/><rect x="400" y="432" width="9" height="9" fill="#66dc4f"/><rect x="408" y="432" width="9" height="9" fill="#68de81"/><rect x="416" y="432" width="9" height="9" fill="#6ce2c6"/><rect x="424" y="432" width="9" height="9" fill="#66e3f8"/><rect x="432" y="432" width="9" height="9" fill="#64dffa"/><rect x="440" y="432" width="9" height="9" fill="#5fd1f4"/><rect x="448" y="432" width="9" height="9" fill="#5cc8f0"/><rect x="456" y="432" width="9" height="9" fill="#59c0ed"/><rect x="464" y="432" width="9" height="9" fill="#50aae4"/><rect x="472" y="432" width="9" height="9" fill="#4ba1e3"/><rect x="480" y="432" width="33" height="9" fill="#489ce3"/><rect x="512" y="432" width="9" height="9" fill="#4ba1e3"/><rect x="520" y="432" width="9" height="9" fill="#4ea5e4"/><rect x="528" y="432" width="9" height="9" fill="#50aae4"/><rect x="536" y="432" width="9" height="9" fill="#56b9ea"/><rect x="544" y="432" width="9" height="9" fill="#59c0ed"/><rect x="552" y="432" width="9" height="9" fill="#5cc8f0"/><rect x="560" y="432" width="9" height="9" fill="#5fd1f4"/><rect x="568" y="432" width="17" height="9" fill="#63daf8"/><rect x="584" y="432" width="25" height="9" fill="#64dffa"/><rect x="608" y="432" width="9" height="9" fill="#65e0f9"/><rect x="616" y="432" width="9" height="9" fill="#65e2f9"/><rect x="624" y="432" width="9" height="9" fill="#6ce2c6"/><rect x="632" y="432" width="9" height="9" fill="#68de81"/><rect x="640" y="432" width="25" height="9" fill="#67dd66"/><rect x="664" y="432" width="17" height="9" fill="#66dc4f"/><rect x="680" y="432" width="9" height="9" fill="#68dc4b"/><rect x="688" y="432" width="9" height="9" fill="#6adc46"/><rect x="696" y="432" width="9" height="9" fill="#74dd40"/><rect x="704" y="432" width="9" height="9" fill="#7cde3d"/><rect x="712" y="432" width="9" height="9" fill="#84e03a"/><rect x="720" y="432" width="9" height="9" fill="#aae83a"/><rect x="728" y="432" width="9" height="9" fill="#d2ee3a"/><rect x="736" y="432" width="9" height="9" fill="#e4ea36"/><rect x="744" y="432" width="9" height="9" fill="#e8e633"/><rect x="752" y="432" width="9" height="9" fill="#eae031"/><rect x="760" y="432" width="9" height="9" fill="#e9d930"/><rect x="768" y="432" width="9" height="9" fill="#e8ce2d"/><rect x="776" y="432" width="9" height="9" fill="#e7c82b"/><rect x="784" y="432" width="9" height="9" fill="#e6bc28"/><rect x="792" y="432" width="9" height="9" fill="#e5b225"/><rect x="800" y="432" width="9" height="9" fill="#e4a922"/><rect x="808" y="432" width="9" height="9" fill="#e2a01f"/><rect x="816" y="432" width="9" height="9" fill="#e1961c"/><rect x="824" y="432" width="9" height="9" fill="#e08c19"/><rect x="832" y="432" width="9" height="9" fill="#de8216"/><rect x="840" y="432" width="9" height="9" fill="#dd7812"/><rect x="848" y="432" width="9" height="9" fill="#db640d"/><rect x="344" y="440" width="9" height="9" fill="#7cde3d"/><rect x="352" y="440" width="9" height="9" fill="#74dd40"/><rect x="360" y="440" width="9" height="9" fill="#6cdc42"/><rect x="368" y="440" width="33" height="9" fill="#6adc46"/><rect x="400" y="440" width="9" height="9" fill="#68dc4b"/><rect x="408" y="440" width="9" height="9" fill="#67dd66"/><rect x="416" y="440" width="9" height="9" fill="#6ce2c6"/><rect x="424" y="440" width="9" height="9" fill="#65e2f9"/><rect x="432" y="440" width="9" height="9" fill="#63daf8"/><rect x="440" y="440" width="9" height="9" fill="#59c0ed"/><rect x="448" y="440" width="9" height="9" fill="#56b9ea"/><rect x="456" y="440" width="9" height="9" fill="#50aae4"/><rect x="464" y="440" width="9" height="9" fill="#4ba1e3"/><rect x="472" y="440" width="9" height="9" fill="#4697e3"/><rect x="480" y="440" width="33" height="9" fill="#4493e2"/><rect x="512" y="440" width="9" height="9" fill="#4697e3"/><rect x="520" y="440" width="9" height="9" fill="#489ce3"/><rect x="528" y="440" width="9" height="9" fill="#4ea5e4"/><rect x="536" y="440" width="9" height="9" fill="#50aae4"/><rect x="544" y="440" width="9" height="9" fill="#53b2e7"/><rect x="552" y="440" width="9" height="9" fill="#59c0ed"/><rect x="560" y="440" width="17" height="9" fill="#5cc8f0"/><rect x="576" y="440" width="25" height="9" fill="#5fd1f4"/><rect x="600" y="440" width="9" height="9" fill="#63daf8"/><rect x="608" y="440" width="9" height="9" fill="#64dffa"/><rect x="616" y="440" width="9" height="9" fill="#65e2f9"/><rect x="624" y="440" width="9" height="9" fill="#6ae3db"/><rect x="632" y="440" width="9" height="9" fill="#6ae0a3"/><rect x="640" y="440" width="17" height="9" fill="#68de81"/><rect x="656" y="440" width="17" height="9" fill="#67dd66"/><rect x="672" y="440" width="9" height="9" fill="#66dc4f"/><rect x="680" y="440" width="9" height="9" fill="#68dc4b"/><rect x="688" y="440" width="9" height="9" fill="#6adc46"/><rect x="696" y="440" width="9" height="9" fill="#6cdc42"/><rect x="704" y="440" width="9" height="9" fill="#74dd40"/><rect x="712" y="440" width="9" height="9" fill="#84e03a"/><rect x="720" y="440" width="9" height="9" fill="#aae83a"/><rect x="728" y="440" width="9" height="9" fill="#d2ee3a"/><rect x="736" y="440" width="9" height="9" fill="#e4ea36"/><rect x="744" y="440" width="9" height="9" fill="#e8e633"/><rect x="752" y="440" width="9" height="9" fill="#eae031"/><rect x="760" y="440" width="9" height="9" fill="#e9d930"/><rect x="768" y="440" width="9" height="9" fill="#e8d32f"/><rect x="776" y="440" width="9" height="9" fill="#e7c82b"/><rect x="784" y="440" width="9" height="9" fill="#e7c22a"/><rect x="792" y="440" width="9" height="9" fill="#e5b225"/><rect x="800" y="440" width="9" height="9" fill="#e4a922"/><rect x="808" y="440" width="9" height="9" fill="#e2a01f"/><rect x="816" y="440" width="9" height="9" fill="#e1961c"/><rect x="824" y="440" width="9" height="9" fill="#e08c19"/><rect x="344" y="448" width="9" height="9" fill="#74dd40"/><rect x="352" y="448" width="9" height="9" fill="#6cdc42"/><rect x="360" y="448" width="9" height="9" fill="#6adc46"/><rect x="368" y="448" width="17" height="9" fill="#68dc4b"/><rect x="384" y="448" width="17" height="9" fill="#6adc46"/><rect x="400" y="448" width="9" height="9" fill="#68dc4b"/><rect x="408" y="448" width="9" height="9" fill="#68de81"/><rect x="416" y="448" width="9" height="9" fill="#6ae3db"/><rect x="424" y="448" width="9" height="9" fill="#65e2f9"/><rect x="432" y="448" width="9" height="9" fill="#5fd1f4"/><rect x="440" y="448" width="9" height="9" fill="#56b9ea"/><rect x="448" y="448" width="9" height="9" fill="#50aae4"/><rect x="456" y="448" width="9" height="9" fill="#4ba1e3"/><rect x="464" y="448" width="9" height="9" fill="#4493e2"/><rect x="472" y="448" width="9" height="9" fill="#418ee2"/><rect x="480" y="448" width="33" height="9" fill="#3f8ae2"/><rect x="512" y="448" width="9" height="9" fill="#418ee2"/><rect x="520" y="448" width="9" height="9" fill="#4493e2"/><rect x="528" y="448" width="9" height="9" fill="#489ce3"/><rect x="536" y="448" width="9" height="9" fill="#4ba1e3"/><rect x="544" y="448" width="9" height="9" fill="#50aae4"/><rect x="552" y="448" width="9" height="9" fill="#53b2e7"/><rect x="560" y="448" width="9" height="9" fill="#56b9ea"/><rect x="568" y="448" width="25" height="9" fill="#59c0ed"/><rect x="592" y="448" width="9" height="9" fill="#5cc8f0"/><rect x="600" y="448" width="9" height="9" fill="#5fd1f4"/><rect x="608" y="448" width="9" height="9" fill="#63daf8"/><rect x="616" y="448" width="9" height="9" fill="#64dffa"/><rect x="624" y="448" width="9" height="9" fill="#65e2f9"/><rect x="632" y="448" width="9" height="9" fill="#68e4ed"/><rect x="640" y="448" width="9" height="9" fill="#6ce2c6"/><rect x="648" y="448" width="9" height="9" fill="#6ae0a3"/><rect x="656" y="448" width="9" height="9" fill="#68de81"/><rect x="664" y="448" width="9" height="9" fill="#67dd66"/><rect x="672" y="448" width="9" height="9" fill="#66dc4f"/><rect x="680" y="448" width="9" height="9" fill="#68dc4b"/><rect x="688" y="448" width="9" height="9" fill="#6adc46"/><rect x="696" y="448" width="9" height="9" fill="#6cdc42"/><rect x="704" y="448" width="9" height="9" fill="#74dd40"/><rect x="712" y="448" width="9" height="9" fill="#84e03a"/><rect x="720" y="448" width="9" height="9" fill="#aae83a"/><rect x="728" y="448" width="9" height="9" fill="#d2ee3a"/><rect x="736" y="448" width="9" height="9" fill="#e4ea36"/><rect x="744" y="448" width="9" height="9" fill="#e8e633"/><rect x="752" y="448" width="9" height="9" fill="#eae031"/><rect x="760" y="448" width="9" height="9" fill="#e9d930"/><rect x="768" y="448" width="9" height="9" fill="#e8d32f"/><rect x="776" y="448" width="9" height="9" fill="#e7c82b"/><rect x="784" y="448" width="9" height="9" fill="#e7c22a"/><rect x="792" y="448" width="9" height="9" fill="#e5b225"/><rect x="800" y="448" width="9" height="9" fill="#e4a922"/><rect x="352" y="456" width="9" height="9" fill="#6adc46"/><rect x="360" y="456" width="41" height="9" fill="#68dc4b"/><rect x="400" y="456" width="9" height="9" fill="#66dc4f"/><rect x="408" y="456" width="9" height="9" fill="#68de81"/><rect x="416" y="456" width="9" height="9" fill="#68e4ed"/><rect x="424" y="456" width="9" height="9" fill="#65e0f9"/><rect x="432" y="456" width="9" height="9" fill="#5cc8f0"/><rect x="440" y="456" width="9" height="9" fill="#56b9ea"/><rect x="448" y="456" width="9" height="9" fill="#50aae4"/><rect x="456" y="456" width="9" height="9" fill="#489ce3"/><rect x="464" y="456" width="9" height="9" fill="#418ee2"/><rect x="472" y="456" width="17" height="9" fill="#3d86e2"/><rect x="488" y="456" width="17" height="9" fill="#3f8ae2"/><rect x="504" y="456" width="17" height="9" fill="#3d86e2"/><rect x="520" y="456" width="9" height="9" fill="#3f8ae2"/><rect x="528" y="456" width="9" height="9" fill="#4493e2"/><rect x="536" y="456" width="9" height="9" fill="#4697e3"/><rect x="544" y="456" width="9" height="9" fill="#4ba1e3"/><rect x="552" y="456" width="17" height="9" fill="#4ea5e4"/><rect x="568" y="456" width="9" height="9" fill="#50aae4"/><rect x="576" y="456" width="9" height="9" fill="#53b2e7"/><rect x="584" y="456" width="9" height="9" fill="#56b9ea"/><rect x="592" y="456" width="9" height="9" fill="#59c0ed"/><rect x="600" y="456" width="9" height="9" fill="#5cc8f0"/><rect x="608" y="456" width="9" height="9" fill="#63daf8"/><rect x="616" y="456" width="9" height="9" fill="#64dffa"/><rect x="624" y="456" width="9" height="9" fill="#65e0f9"/><rect x="632" y="456" width="9" height="9" fill="#66e3f8"/><rect x="640" y="456" width="9" height="9" fill="#6ae3db"/><rect x="648" y="456" width="9" height="9" fill="#6ce2c6"/><rect x="656" y="456" width="9" height="9" fill="#68de81"/><rect x="664" y="456" width="9" height="9" fill="#67dd66"/><rect x="672" y="456" width="17" height="9" fill="#66dc4f"/><rect x="688" y="456" width="9" height="9" fill="#68dc4b"/><rect x="696" y="456" width="9" height="9" fill="#6cdc42"/><rect x="704" y="456" width="9" height="9" fill="#74dd40"/><rect x="712" y="456" width="9" height="9" fill="#84e03a"/><rect x="720" y="456" width="9" height="9" fill="#8ce138"/><rect x="728" y="456" width="9" height="9" fill="#c8f03c"/><rect x="736" y="456" width="9" height="9" fill="#dcec38"/><rect x="744" y="456" width="9" height="9" fill="#e6e834"/><rect x="752" y="456" width="9" height="9" fill="#eae432"/><rect x="760" y="456" width="9" height="9" fill="#e9dc31"/><rect x="360" y="464" width="33" height="9" fill="#68dc4b"/><rect x="392" y="464" width="9" height="9" fill="#66dc4f"/><rect x="400" y="464" width="9" height="9" fill="#67dd66"/><rect x="408" y="464" width="9" height="9" fill="#6ae0a3"/><rect x="416" y="464" width="9" height="9" fill="#66e3f8"/><rect x="424" y="464" width="9" height="9" fill="#63daf8"/><rect x="432" y="464" width="9" height="9" fill="#59c0ed"/><rect x="440" y="464" width="9" height="9" fill="#53b2e7"/><rect x="448" y="464" width="9" height="9" fill="#4ea5e4"/><rect x="456" y="464" width="9" height="9" fill="#4493e2"/><rect x="464" y="464" width="9" height="9" fill="#3d86e2"/><rect x="472" y="464" width="9" height="9" fill="#387ee2"/><rect x="480" y="464" width="9" height="9" fill="#3a82e2"/><rect x="488" y="464" width="17" height="9" fill="#3d86e2"/><rect x="504" y="464" width="17" height="9" fill="#387ee2"/><rect x="520" y="464" width="9" height="9" fill="#3a82e2"/><rect x="528" y="464" width="9" height="9" fill="#3f8ae2"/><rect x="536" y="464" width="9" height="9" fill="#4493e2"/><rect x="544" y="464" width="9" height="9" fill="#4697e3"/><rect x="552" y="464" width="9" height="9" fill="#489ce3"/><rect x="560" y="464" width="9" height="9" fill="#4697e3"/><rect x="568" y="464" width="9" height="9" fill="#489ce3"/><rect x="576" y="464" width="9" height="9" fill="#4ea5e4"/><rect x="584" y="464" width="9" height="9" fill="#53b2e7"/><rect x="592" y="464" width="9" height="9" fill="#59c0ed"/><rect x="600" y="464" width="9" height="9" fill="#5cc8f0"/><rect x="608" y="464" width="9" height="9" fill="#63daf8"/><rect x="616" y="464" width="9" height="9" fill="#65e0f9"/><rect x="624" y="464" width="9" height="9" fill="#65e2f9"/><rect x="632" y="464" width="9" height="9" fill="#66e3f8"/><rect x="640" y="464" width="9" height="9" fill="#68e4ed"/><rect x="648" y="464" width="9" height="9" fill="#6ce2c6"/><rect x="656" y="464" width="9" height="9" fill="#6ae0a3"/><rect x="664" y="464" width="9" height="9" fill="#68de81"/><rect x="672" y="464" width="9" height="9" fill="#67dd66"/><rect x="680" y="464" width="9" height="9" fill="#66dc4f"/><rect x="688" y="464" width="9" height="9" fill="#68dc4b"/><rect x="696" y="464" width="9" height="9" fill="#6cdc42"/><rect x="704" y="464" width="9" height="9" fill="#74dd40"/><rect x="712" y="464" width="9" height="9" fill="#84e03a"/><rect x="720" y="464" width="9" height="9" fill="#8ce138"/><rect x="728" y="464" width="9" height="9" fill="#c8f03c"/><rect x="360" y="472" width="9" height="9" fill="#68dc4b"/><rect x="368" y="472" width="25" height="9" fill="#66dc4f"/><rect x="392" y="472" width="9" height="9" fill="#67dd66"/><rect x="400" y="472" width="9" height="9" fill="#68de81"/><rect x="408" y="472" width="9" height="9" fill="#6ae3db"/><rect x="416" y="472" width="9" height="9" fill="#65e2f9"/><rect x="424" y="472" width="9" height="9" fill="#5fd1f4"/><rect x="432" y="472" width="9" height="9" fill="#53b2e7"/><rect x="440" y="472" width="9" height="9" fill="#4ea5e4"/><rect x="448" y="472" width="9" height="9" fill="#4697e3"/><rect x="456" y="472" width="9" height="9" fill="#3f8ae2"/><rect x="464" y="472" width="9" height="9" fill="#387ee2"/><rect x="472" y="472" width="9" height="9" fill="#3476e2"/><rect x="480" y="472" width="9" height="9" fill="#367ae2"/><rect x="488" y="472" width="9" height="9" fill="#3a82e2"/><rect x="496" y="472" width="9" height="9" fill="#387ee2"/><rect x="504" y="472" width="17" height="9" fill="#3476e2"/><rect x="520" y="472" width="9" height="9" fill="#367ae2"/><rect x="528" y="472" width="9" height="9" fill="#3d86e2"/><rect x="536" y="472" width="9" height="9" fill="#418ee2"/><rect x="544" y="472" width="25" height="9" fill="#4493e2"/><rect x="568" y="472" width="9" height="9" fill="#4697e3"/><rect x="576" y="472" width="9" height="9" fill="#4ba1e3"/><rect x="584" y="472" width="9" height="9" fill="#50aae4"/><rect x="592" y="472" width="9" height="9" fill="#56b9ea"/><rect x="600" y="472" width="9" height="9" fill="#5cc8f0"/><rect x="608" y="472" width="9" height="9" fill="#63daf8"/><rect x="616" y="472" width="9" height="9" fill="#65e0f9"/><rect x="624" y="472" width="9" height="9" fill="#65e2f9"/><rect x="632" y="472" width="9" height="9" fill="#66e3f8"/><rect x="640" y="472" width="9" height="9" fill="#68e4ed"/><rect x="648" y="472" width="9" height="9" fill="#6ce2c6"/><rect x="656" y="472" width="9" height="9" fill="#6ae0a3"/><rect x="664" y="472" width="9" height="9" fill="#68de81"/><rect x="672" y="472" width="9" height="9" fill="#67dd66"/><rect x="680" y="472" width="9" height="9" fill="#66dc4f"/><rect x="688" y="472" width="9" height="9" fill="#68dc4b"/><rect x="368" y="480" width="9" height="9" fill="#66dc4f"/><rect x="376" y="480" width="17" height="9" fill="#67dd66"/><rect x="392" y="480" width="9" height="9" fill="#68de81"/><rect x="400" y="480" width="9" height="9" fill="#6ce2c6"/><rect x="408" y="480" width="9" height="9" fill="#68e4ed"/><rect x="416" y="480" width="9" height="9" fill="#65e0f9"/><rect x="424" y="480" width="9" height="9" fill="#5cc8f0"/><rect x="432" y="480" width="9" height="9" fill="#53b2e7"/><rect x="440" y="480" width="9" height="9" fill="#4ba1e3"/><rect x="448" y="480" width="9" height="9" fill="#418ee2"/><rect x="456" y="480" width="9" height="9" fill="#3a82e2"/><rect x="464" y="480" width="9" height="9" fill="#3476e2"/><rect x="472" y="480" width="9" height="9" fill="#306de3"/><rect x="480" y="480" width="9" height="9" fill="#3271e2"/><rect x="488" y="480" width="9" height="9" fill="#3476e2"/><rect x="496" y="480" width="9" height="9" fill="#306de3"/><rect x="504" y="480" width="9" height="9" fill="#2e68e3"/><rect x="512" y="480" width="9" height="9" fill="#306de3"/><rect x="520" y="480" width="9" height="9" fill="#387ee2"/><rect x="528" y="480" width="9" height="9" fill="#3d86e2"/><rect x="536" y="480" width="9" height="9" fill="#3f8ae2"/><rect x="544" y="480" width="17" height="9" fill="#418ee2"/><rect x="560" y="480" width="9" height="9" fill="#4493e2"/><rect x="568" y="480" width="9" height="9" fill="#4697e3"/><rect x="576" y="480" width="9" height="9" fill="#4ba1e3"/><rect x="584" y="480" width="9" height="9" fill="#50aae4"/><rect x="592" y="480" width="9" height="9" fill="#56b9ea"/><rect x="600" y="480" width="9" height="9" fill="#5cc8f0"/><rect x="608" y="480" width="9" height="9" fill="#63daf8"/><rect x="616" y="480" width="9" height="9" fill="#65e0f9"/><rect x="624" y="480" width="9" height="9" fill="#65e2f9"/><rect x="632" y="480" width="9" height="9" fill="#66e3f8"/><rect x="640" y="480" width="9" height="9" fill="#68e4ed"/><rect x="648" y="480" width="9" height="9" fill="#6ae3db"/><rect x="656" y="480" width="9" height="9" fill="#6ae0a3"/><rect x="376" y="488" width="9" height="9" fill="#67dd66"/><rect x="384" y="488" width="9" height="9" fill="#68de81"/><rect x="392" y="488" width="9" height="9" fill="#6ae0a3"/><rect x="400" y="488" width="9" height="9" fill="#6ae3db"/><rect x="408" y="488" width="9" height="9" fill="#66e3f8"/><rect x="416" y="488" width="9" height="9" fill="#64dffa"/><rect x="424" y="488" width="9" height="9" fill="#5cc8f0"/><rect x="432" y="488" width="9" height="9" fill="#53b2e7"/><rect x="440" y="488" width="9" height="9" fill="#4ba1e3"/><rect x="448" y="488" width="9" height="9" fill="#418ee2"/><rect x="456" y="488" width="9" height="9" fill="#387ee2"/><rect x="464" y="488" width="9" height="9" fill="#3271e2"/><rect x="472" y="488" width="9" height="9" fill="#2b63e3"/><rect x="480" y="488" width="17" height="9" fill="#2e68e3"/><rect x="496" y="488" width="17" height="9" fill="#295fe4"/><rect x="512" y="488" width="9" height="9" fill="#306de3"/><rect x="520" y="488" width="9" height="9" fill="#387ee2"/><rect x="528" y="488" width="9" height="9" fill="#3d86e2"/><rect x="536" y="488" width="17" height="9" fill="#3f8ae2"/><rect x="552" y="488" width="9" height="9" fill="#418ee2"/><rect x="560" y="488" width="9" height="9" fill="#4493e2"/><rect x="568" y="488" width="9" height="9" fill="#4697e3"/><rect x="576" y="488" width="9" height="9" fill="#489ce3"/><rect x="584" y="488" width="9" height="9" fill="#4ea5e4"/><rect x="592" y="488" width="9" height="9" fill="#53b2e7"/><rect x="600" y="488" width="9" height="9" fill="#5cc8f0"/><rect x="608" y="488" width="9" height="9" fill="#63daf8"/><rect x="616" y="488" width="9" height="9" fill="#64dffa"/><rect x="624" y="488" width="9" height="9" fill="#65e2f9"/><rect x="384" y="496" width="9" height="9" fill="#6ae0a3"/><rect x="392" y="496" width="9" height="9" fill="#6ce2c6"/><rect x="400" y="496" width="9" height="9" fill="#68e4ed"/><rect x="408" y="496" width="9" height="9" fill="#65e2f9"/><rect x="416" y="496" width="9" height="9" fill="#64dffa"/><rect x="424" y="496" width="9" height="9" fill="#5cc8f0"/><rect x="432" y="496" width="9" height="9" fill="#56b9ea"/><rect x="440" y="496" width="9" height="9" fill="#4ba1e3"/><rect x="448" y="496" width="9" height="9" fill="#418ee2"/><rect x="456" y="496" width="9" height="9" fill="#387ee2"/><rect x="464" y="496" width="9" height="9" fill="#306de3"/><rect x="472" y="496" width="17" height="9" fill="#2b63e3"/><rect x="488" y="496" width="9" height="9" fill="#2e68e3"/><rect x="496" y="496" width="9" height="9" fill="#306de3"/><rect x="504" y="496" width="9" height="9" fill="#2e68e3"/><rect x="512" y="496" width="9" height="9" fill="#3271e2"/><rect x="520" y="496" width="9" height="9" fill="#387ee2"/><rect x="528" y="496" width="9" height="9" fill="#3d86e2"/><rect x="536" y="496" width="17" height="9" fill="#3f8ae2"/><rect x="552" y="496" width="9" height="9" fill="#418ee2"/><rect x="560" y="496" width="9" height="9" fill="#4493e2"/><rect x="568" y="496" width="9" height="9" fill="#4697e3"/><rect x="576" y="496" width="9" height="9" fill="#4ba1e3"/><rect x="584" y="496" width="9" height="9" fill="#4ea5e4"/><rect x="400" y="504" width="9" height="9" fill="#66e3f8"/><rect x="408" y="504" width="9" height="9" fill="#65e0f9"/><rect x="416" y="504" width="9" height="9" fill="#63daf8"/><rect x="424" y="504" width="9" height="9" fill="#5cc8f0"/><rect x="432" y="504" width="9" height="9" fill="#56b9ea"/><rect x="440" y="504" width="9" height="9" fill="#4ba1e3"/><rect x="448" y="504" width="9" height="9" fill="#418ee2"/><rect x="456" y="504" width="9" height="9" fill="#387ee2"/><rect x="464" y="504" width="9" height="9" fill="#3271e2"/><rect x="472" y="504" width="17" height="9" fill="#2e68e3"/><rect x="488" y="504" width="17" height="9" fill="#306de3"/><rect x="504" y="504" width="9" height="9" fill="#3271e2"/><rect x="512" y="504" width="9" height="9" fill="#3476e2"/><rect x="520" y="504" width="9" height="9" fill="#387ee2"/><rect x="528" y="504" width="9" height="9" fill="#3a82e2"/><rect x="536" y="504" width="9" height="9" fill="#3d86e2"/><rect x="544" y="504" width="9" height="9" fill="#3f8ae2"/><rect x="552" y="504" width="9" height="9" fill="#418ee2"/><rect x="424" y="512" width="9" height="9" fill="#5cc8f0"/><rect x="432" y="512" width="9" height="9" fill="#53b2e7"/><rect x="440" y="512" width="9" height="9" fill="#4ba1e3"/><rect x="448" y="512" width="9" height="9" fill="#418ee2"/><rect x="456" y="512" width="9" height="9" fill="#3a82e2"/><rect x="464" y="512" width="9" height="9" fill="#3476e2"/><rect x="472" y="512" width="25" height="9" fill="#306de3"/><rect x="496" y="512" width="9" height="9" fill="#3271e2"/><rect x="504" y="512" width="9" height="9" fill="#3476e2"/><rect x="512" y="512" width="9" height="9" fill="#367ae2"/><rect x="520" y="512" width="9" height="9" fill="#387ee2"/></g>
<path d="M473.5 180.2 L473.5 201.8 L473.6 224.2 L473.6 246.4 L473.7 268.4 L473.7 290.2 L473.8 311.9 L473.8 332.7 L473.9 353.1 L473.9 373.5 L473.9 392.6 L474 411.6 L474 429.4 L474.1 446.6 L474.1 463.6 L474.1 480.2 L474.2 495.5 L474.2 509.5M529.2 165 L530.5 186.6 L531.7 209 L532.8 231.2 L533.7 253.2 L534.5 275 L535.2 296.7 L535.7 317.5 L536.1 337.9 L536.4 358.3 L536.6 377.4 L536.7 396.4 L536.6 414.2 L536.6 431.4 L536.4 448.4 L536.1 465 L535.8 480.8 L535.5 495.5M585.3 145.8 L587 167.5 L588.7 190.1 L590.3 212.5 L591.7 234.8 L593 256.9 L594.2 279 L595.2 300.1 L596 320.9 L596.8 341.7 L597.4 361.2 L598 380.6 L598.4 398.8 L598.7 416.4 L598.9 433.8 L599.1 450.8 L599.2 466.5 L599.2 480.9M640.2 120.9 L643.1 144.6 L645.9 168.2 L648.2 190.4 L650.5 213.3 L652.5 234.9 L654.3 256.6 L656 278 L657.4 298.2 L658.7 319.1 L659.8 339.4 L660.8 359.8 L661.6 379.1 L662.3 398.2 L662.8 416.6 L663.2 434.4 L663.4 450.2 L663.6 466.2M696 92.7 L699.4 115.3 L702.9 139.5 L706.2 163.6 L709.2 186.6 L711.9 209.5 L714.5 232.4 L716.8 254 L718.9 275.5 L720.7 295.4 L722.4 314.9 L724 335.6 L725.4 356.2 L726.7 376 L727.8 395 L728.8 413.7 L729.6 431.7 L730.3 450.9M747 60.8 L752.4 84.2 L757.5 107.4 L762.3 130.5 L766.9 153.4 L771.1 176.1 L775.1 198.6 L778.7 221 L782.2 243.1 L785.3 265.1 L788.2 286.9 L790.9 308.6 L793.3 330 L795.4 351.3 L797.4 372.4 L799.1 393.4 L800.5 414.1 L801.8 434.7M801.9 22.8 L807.8 45.6 L813.6 68.4 L819.3 91.2 L824.8 114 L830.2 136.8 L835.4 159.6 L840.5 182.4 L845.4 205.2 L850.1 228 L854.6 250.8 L858.9 273.6 L862.9 296.4 L866.8 319.2 L870.4 342 L873.7 364.8 L876.8 387.6 L879.6 410.4M854.7 -17.8 L861 4.3 L867.4 26.4 L873.7 48.5 L880.1 70.6 L886.5 92.7 L892.8 114.8 L899.2 136.9 L905.5 159 L911.9 181.1 L918.2 203.2 L924.6 225.3 L930.9 247.4 L937.3 269.5 L943.6 291.6 L950 313.7 L956.3 335.8 L962.7 357.9M904.4 -66.3 L912.3 -44.8 L920.2 -23.3 L928 -1.8 L935.9 19.7 L943.8 41.2 L951.7 62.5 L959.5 83.8 L967.4 104.9 L975.2 126 L983 146.9 L990.9 167.8 L998.7 188.5 L1006.4 209.1 L1014.2 229.7 L1021.9 250.1 L1029.7 270.5 L1037.4 290.8M956.3 -118.9 L964.5 -99.3 L972.7 -79.7 L981 -60.1 L989.2 -40.5 L997.4 -20.9 L1005.7 -1.3 L1014 18.3 L1022.4 37.9 L1031 57.5 L1039.8 77.1 L1048.8 96.7 L1057.9 116.3 L1067.2 135.9 L1076.6 155.5 L1086.2 175.1 L1095.9 194.7 L1105.9 214.3M1002.6 -159.6 L1012.5 -142.2 L1022.3 -124.8 L1032.1 -107.4 L1042 -90 L1051.8 -72.6 L1061.6 -55.2 L1071.4 -37.8 L1081.3 -20.4 L1091.1 -3 L1100.9 14.4 L1110.8 31.8 L1120.6 49.2 L1130.4 66.6 L1140.3 84 L1150.1 101.4 L1159.9 118.8 L1169.8 136.2M1055.4 -202 L1065.6 -187 L1075.8 -172 L1086 -157 L1096.2 -142 L1106.4 -127 L1116.6 -112 L1126.8 -97 L1137 -82 L1147.2 -67 L1157.4 -52 L1167.6 -37 L1177.8 -22 L1188 -7 L1198.2 8 L1208.4 23 L1218.6 38 L1228.8 53M1103.6 -248 L1114 -235 L1124.4 -222 L1134.8 -209 L1145.2 -196 L1155.6 -183 L1166 -170 L1176.4 -157 L1186.8 -144 L1197.2 -131 L1207.6 -118 L1218 -105 L1228.4 -92 L1238.8 -79 L1249.2 -66 L1259.6 -53 L1270 -40 L1280.4 -27M473.5 180.2C482.8 177.7 510.6 170.7 529.2 165C547.8 159.3 566.8 153.1 585.3 145.8C603.8 138.4 621.8 129.8 640.2 120.9C658.6 112.1 678.2 102.7 696 92.7C713.8 82.7 729.3 72.5 747 60.8C764.6 49.1 784 35.9 801.9 22.8C819.9 9.7 837.6 -3 854.7 -17.8C871.8 -32.7 887.5 -49.5 904.4 -66.3C921.4 -83.1 939.9 -103.4 956.3 -118.9C972.6 -134.5 986.1 -145.7 1002.6 -159.6C1019.2 -173.4 1038.6 -187.3 1055.4 -202C1072.3 -216.7 1095.6 -240.3 1103.6 -248M473.5 201.8C483 199.3 511.6 192.3 530.5 186.6C549.4 180.9 568.3 174.5 587 167.5C605.8 160.5 624.4 153.3 643.1 144.6C661.9 135.9 681.2 125.4 699.4 115.3C717.7 105.2 734.3 95.8 752.4 84.2C770.5 72.6 789.7 58.9 807.8 45.6C825.9 32.3 843.6 19.4 861 4.3C878.4 -10.8 895.1 -27.5 912.3 -44.8C929.5 -62.1 947.8 -83.1 964.5 -99.3C981.2 -115.5 995.6 -127.6 1012.5 -142.2C1029.3 -156.8 1048.7 -171.5 1065.6 -187C1082.6 -202.5 1105.9 -227 1114 -235M473.6 224.2C483.3 221.7 512.5 214.7 531.7 209C550.9 203.3 569.7 196.9 588.7 190.1C607.8 183.3 626.8 176.6 645.9 168.2C664.9 159.8 684.3 149.6 702.9 139.5C721.6 129.4 739.1 119.3 757.5 107.4C776 95.6 795.3 81.9 813.6 68.4C831.9 54.9 849.6 41.7 867.4 26.4C885.1 11.1 902.6 -5.6 920.2 -23.3C937.7 -41 955.7 -62.8 972.7 -79.7C989.7 -96.6 1005.1 -109.4 1022.3 -124.8C1039.5 -140.2 1058.8 -155.8 1075.8 -172C1092.9 -188.2 1116.3 -213.7 1124.4 -222M473.6 246.4C483.5 243.9 513.4 236.8 532.8 231.2C552.2 225.6 571 219.3 590.3 212.5C609.5 205.7 628.9 198.6 648.2 190.4C667.6 182.2 687.2 173.6 706.2 163.6C725.2 153.6 743.5 142.6 762.3 130.5C781.2 118.4 800.7 104.9 819.3 91.2C837.8 77.5 855.6 64 873.7 48.5C891.9 33 910.2 16.3 928 -1.8C945.9 -19.9 963.6 -42.5 981 -60.1C998.3 -77.7 1014.6 -91.2 1032.1 -107.4C1049.6 -123.5 1068.9 -140.1 1086 -157C1103.2 -173.9 1126.7 -200.3 1134.8 -209M473.7 268.4C483.7 265.9 514.1 258.8 533.7 253.2C553.4 247.6 572.2 241.5 591.7 234.8C611.2 228.2 630.9 221.3 650.5 213.3C670.1 205.3 689.8 196.6 709.2 186.6C728.6 176.6 747.6 165.5 766.9 153.4C786.1 141.3 805.9 127.8 824.8 114C843.7 100.2 861.6 86.3 880.1 70.6C898.6 54.9 917.7 38.2 935.9 19.7C954.1 1.2 971.5 -22.2 989.2 -40.5C1006.9 -58.8 1024.1 -73.1 1042 -90C1059.8 -106.9 1079 -124.3 1096.2 -142C1113.4 -159.7 1137 -187 1145.2 -196M473.7 290.2C483.9 287.7 514.7 280.5 534.5 275C554.4 269.5 573.3 263.6 593 256.9C612.7 250.2 632.7 242.8 652.5 234.9C672.3 227 692.2 219.3 711.9 209.5C731.7 199.7 751.4 188.2 771.1 176.1C790.8 164 811 150.7 830.2 136.8C849.4 122.9 867.5 108.6 886.5 92.7C905.4 76.8 925.3 60.1 943.8 41.2C962.3 22.2 979.4 -1.9 997.4 -20.9C1015.4 -39.9 1033.6 -54.9 1051.8 -72.6C1070 -90.3 1089.1 -108.6 1106.4 -127C1123.7 -145.4 1147.4 -173.7 1155.6 -183M473.8 311.9C484 309.4 515.1 302.2 535.2 296.7C555.3 291.2 574.3 285.7 594.2 279C614 272.3 634.3 264.4 654.3 256.6C674.4 248.8 694.4 242.1 714.5 232.4C734.7 222.7 754.9 210.7 775.1 198.6C795.2 186.5 815.8 173.6 835.4 159.6C855 145.6 873.4 131 892.8 114.8C912.2 98.6 932.9 81.8 951.7 62.5C970.5 43.2 987.3 18.3 1005.7 -1.3C1024 -20.9 1043.1 -36.7 1061.6 -55.2C1080.1 -73.6 1099.2 -92.9 1116.6 -112C1134 -131.1 1157.8 -160.3 1166 -170M473.8 332.7C484.1 330.2 515.5 322.9 535.7 317.5C555.9 312.1 575.1 306.7 595.2 300.1C615.2 293.5 635.7 285.7 656 278C676.3 270.3 696.3 263.5 716.8 254C737.3 244.5 758.1 232.9 778.7 221C799.4 209 820.4 196.4 840.5 182.4C860.6 168.4 879.3 153.3 899.2 136.9C919 120.5 940.4 103.5 959.5 83.8C978.7 64 995.3 38.6 1014 18.3C1032.6 -2 1052.6 -18.6 1071.4 -37.8C1090.3 -57 1109.3 -77.1 1126.8 -97C1144.3 -116.9 1168.1 -147 1176.4 -157M473.9 353.1C484.2 350.6 515.8 343.3 536.1 337.9C556.5 332.5 575.8 327.5 596 320.9C616.2 314.3 636.9 305.8 657.4 298.2C677.9 290.6 698.1 284.7 718.9 275.5C739.7 266.3 761.1 254.8 782.2 243.1C803.2 231.4 824.8 219.2 845.4 205.2C865.9 191.2 885.2 175.7 905.5 159C925.8 142.3 947.9 125.1 967.4 104.9C986.9 84.7 1003.4 58.8 1022.4 37.9C1041.4 17 1062.2 -0.4 1081.3 -20.4C1100.4 -40.4 1119.5 -61.4 1137 -82C1154.6 -102.6 1178.5 -133.7 1186.8 -144M473.9 373.5C484.3 371 515.9 363.6 536.4 358.3C556.9 353 576.4 348.2 596.8 341.7C617.2 335.2 638 326.8 658.7 319.1C679.4 311.4 699.6 304.4 720.7 295.4C741.8 286.4 763.8 276.4 785.3 265.1C806.9 253.9 829 242 850.1 228C871.2 214 891 198.1 911.9 181.1C932.7 164.1 955.4 146.6 975.2 126C995.1 105.4 1011.7 79 1031 57.5C1050.4 36 1071.7 17.8 1091.1 -3C1110.5 -23.8 1129.6 -45.7 1147.2 -67C1164.9 -88.3 1188.9 -120.3 1197.2 -131M473.9 392.6C484.4 390.1 516 382.6 536.6 377.4C557.2 372.2 576.9 367.5 597.4 361.2C618 354.9 639 347.1 659.8 339.4C680.6 331.7 701 323.6 722.4 314.9C743.8 306.2 766.2 297.6 788.2 286.9C810.3 276.3 832.9 264.8 854.6 250.8C876.2 236.8 896.8 220.5 918.2 203.2C939.6 185.9 962.8 167.9 983 146.9C1003.3 125.9 1020.2 99.2 1039.8 77.1C1059.5 55 1081.3 35.9 1100.9 14.4C1120.5 -7.1 1139.7 -29.9 1157.4 -52C1175.2 -74.1 1199.2 -107 1207.6 -118M474 411.6C484.4 409.1 516 401.6 536.7 396.4C557.3 391.2 577.3 386.7 598 380.6C618.6 374.5 639.8 367.3 660.8 359.8C681.8 352.3 702.3 344.1 724 335.6C745.7 327.1 768.4 318.9 790.9 308.6C813.4 298.2 836.6 287.5 858.9 273.6C881.2 259.7 902.6 242.9 924.6 225.3C946.6 207.7 970.2 189.2 990.9 167.8C1011.6 146.3 1028.8 119.4 1048.8 96.7C1068.8 74 1091 54.1 1110.8 31.8C1130.6 9.5 1149.8 -14.2 1167.6 -37C1185.5 -59.8 1209.6 -93.7 1218 -105M474 429.4C484.5 426.9 515.9 419.3 536.6 414.2C557.4 409.1 577.5 404.7 598.4 398.8C619.2 393 640.4 386.2 661.6 379.1C682.8 372 703.5 364.4 725.4 356.2C747.4 348 770.4 340 793.3 330C816.2 320.1 840 310.2 862.9 296.4C885.9 282.6 908.3 265.4 930.9 247.4C953.5 229.4 977.5 210.3 998.7 188.5C1019.8 166.7 1037.6 139.5 1057.9 116.3C1078.2 93.1 1100.6 72.2 1120.6 49.2C1140.6 26.1 1159.9 1.5 1177.8 -22C1195.8 -45.5 1220 -80.3 1228.4 -92M474.1 446.6C484.5 444.1 515.8 436.4 536.6 431.4C557.3 426.4 577.7 422 598.7 416.4C619.6 410.9 640.9 404.9 662.3 398.2C683.6 391.5 704.5 383.8 726.7 376C748.9 368.2 772.1 360.8 795.4 351.3C818.8 341.9 843.1 332.8 866.8 319.2C890.4 305.6 914 287.8 937.3 269.5C960.6 251.2 984.8 231.4 1006.4 209.1C1028.1 186.9 1046.5 159.7 1067.2 135.9C1087.8 112.1 1110.3 90.4 1130.4 66.6C1150.6 42.8 1170 17.3 1188 -7C1206.1 -31.3 1230.3 -67 1238.8 -79M474.1 463.6C484.5 461.1 515.6 453.4 536.4 448.4C557.2 443.4 577.9 439.1 598.9 433.8C620 428.5 641.3 423.1 662.8 416.6C684.3 410.1 705.4 402.4 727.8 395C750.2 387.6 773.6 381.3 797.4 372.4C821.1 363.6 846 355.5 870.4 342C894.7 328.5 919.7 310.3 943.6 291.6C967.6 272.9 992 252.4 1014.2 229.7C1036.4 207 1055.6 179.8 1076.6 155.5C1097.6 131.2 1120 108.6 1140.3 84C1160.5 59.4 1180.1 33 1198.2 8C1216.4 -17 1240.7 -53.7 1249.2 -66M474.1 480.2C484.5 477.7 515.3 469.9 536.1 465C557 460.1 577.9 455.9 599.1 450.8C620.3 445.7 641.6 440.6 663.2 434.4C684.8 428.2 706.1 420.5 728.8 413.7C751.4 406.9 774.9 401.5 799.1 393.4C823.2 385.2 848.5 378.1 873.7 364.8C898.9 351.5 925.3 332.8 950 313.7C974.7 294.6 999.2 273.2 1021.9 250.1C1044.6 227 1064.8 199.9 1086.2 175.1C1107.5 150.3 1129.7 126.8 1150.1 101.4C1170.5 76 1190.2 48.7 1208.4 23C1226.7 -2.7 1251.1 -40.3 1259.6 -53M474.2 495.5C484.4 493.1 515 485.6 535.8 480.8C556.7 476 577.9 471.6 599.2 466.5C620.4 461.4 641.7 456 663.4 450.2C685.2 444.4 706.7 437.7 729.6 431.7C752.4 425.7 776 421.5 800.5 414.1C825.1 406.8 850.8 400.7 876.8 387.6C902.7 374.5 930.9 355.3 956.3 335.8C981.8 316.3 1006.4 294 1029.7 270.5C1052.9 247 1074.2 220 1095.9 194.7C1117.6 169.4 1139.5 144.9 1159.9 118.8C1180.4 92.7 1200.3 64.5 1218.6 38C1237 11.5 1261.4 -27 1270 -40M474.2 509.5C484.4 507.2 514.7 500.3 535.5 495.5C556.3 490.7 577.9 485.8 599.2 480.9C620.6 476 641.7 471.2 663.6 466.2C685.4 461.2 707.3 456.2 730.3 450.9C753.3 445.6 776.9 441.4 801.8 434.7C826.7 427.9 852.7 423.2 879.6 410.4C906.4 397.6 936.4 377.8 962.7 357.9C989 338 1013.5 314.7 1037.4 290.8C1061.3 266.8 1083.8 240.1 1105.9 214.3C1127.9 188.5 1149.3 163.1 1169.8 136.2C1190.3 109.3 1210.4 80.2 1228.8 53C1247.3 25.8 1271.8 -13.7 1280.4 -27M473.7 179.6 L457.7 177.1 L441.1 173.3 L424.6 170.7 L409.3 166.9 L392.7 163.1 L374.9 159.3M473.8 201.3 L457.8 199.4 L441.2 196.4 L424.8 194.3 L409.3 191.3 L392.9 188.3 L375.5 185.2M473.8 223.9 L457.8 222.4 L441.3 220.3 L425 218.7 L409.4 216.6 L393.1 214.4 L376.2 212M473.9 246.3 L457.9 245.3 L441.4 244 L425.3 243 L409.5 241.7 L393.3 240.3 L376.9 238.6M457.7 177.1 L457.8 199.4 L457.8 222.4 L457.9 245.3 L458 268M441.1 173.3 L441.2 196.4 L441.3 220.3 L441.4 244 L441.5 267.5M424.6 170.7 L424.8 194.3 L425 218.7 L425.3 243 L425.5 267M409.3 166.9 L409.3 191.3 L409.4 216.6 L409.5 241.7 L409.5 266.5M392.7 163.1 L392.9 188.3 L393.1 214.4 L393.3 240.3 L393.5 266M374.9 159.3 L375.5 185.2 L376.2 212 L376.9 238.6 L377.5 265M344.4 261.1 L344.3 263.7 L344.2 266.2 L344 268.8 L343.9 271.4 L343.7 273.9 L343.5 276.5 L343.3 279 L343.1 281.5 L342.9 284 L342.7 286.5 L342.5 289 L342.4 291.4 L342.2 293.8 L342.1 296.3 L342 298.8 L341.9 301.5 L341.8 304.2 L341.8 306.8 L341.8 309.5 L341.8 312.1 L341.8 314.8 L341.8 317.4 L341.9 320.1 L341.9 322.7 L342 325.3 L342.1 327.9 L342.3 330.4 L342.5 333 L342.7 335.5 L343 338.1 L343.3 340.6 L343.7 343.1 L344 345.7 L344.5 348.3 L344.9 350.9 L345.4 353.5 L345.8 356 L346.3 358.6 L346.8 361.2 L347.4 363.7 L347.9 366.2 L348.6 368.8 L349.3 371.4 L350 374 L350.7 376.6 L351.4 379.3 L352 381.9 L352.6 384.5 L353.2 387 L353.9 389.3 L354.6 391.7 L355.4 393.9 L356.3 396.2 L357.3 398.6 L358.3 400.9 L359.3 403.3 L360.4 405.7 L361.4 408.1 L362.5 410.6 L363.7 413 L364.8 415.4 L366 417.8 L367.1 420.2 L368.3 422.6 L369.5 425 L370.7 427.3 L371.9 429.7 L373.1 432 L374.3 434.2 L375.6 436.5 L376.8 438.6 L378.1 440.8 L379.4 442.9 L380.8 444.9 L382.2 446.9 L383.7 448.9 L385.2 450.9 L386.8 452.8 L388.4 454.8 L390.1 456.7 L391.8 458.7 L393.5 460.6 L395.2 462.5 L397 464.4 L398.7 466.2 L400.5 468 L402.2 469.7 L404 471.3 L405.8 472.9 L407.6 474.4 L409.4 475.8 L411.2 477.2 L413.1 478.5 L415 479.6 L417 480.7 L419 481.8 L421.1 482.8 L423.2 483.7 L425.4 484.6 L427.7 485.4 L430 486.2 L432.3 487 L434.6 487.7 L437 488.4 L439.3 489 L441.5 489.5 L443.8 489.9 L446.2 490.3 L448.6 490.8 L451.2 491.2 L453.7 491.7 L456.2 492.2 L458.8 492.7 L461.3 493.1 L463.9 493.6 L466.4 494.1 L468.9 494.6 L471.5 495 L474 495.5M362.2 264 L362.1 266.5 L361.9 268.9 L361.8 271.4 L361.6 273.9 L361.4 276.4 L361.2 278.8 L360.9 281.2 L360.7 283.5 L360.5 285.9 L360.3 288.1 L360.1 290.4 L359.9 292.6 L359.7 294.8 L359.6 296.9 L359.4 299.3 L359.3 301.9 L359.3 304.4 L359.2 306.9 L359.2 309.5 L359.1 312 L359.1 314.5 L359.1 317 L359.2 319.5 L359.2 322 L359.3 324.4 L359.4 326.8 L359.5 329.1 L359.6 331.4 L359.8 333.7 L360.1 336 L360.3 338.4 L360.6 340.7 L360.9 343.1 L361.3 345.5 L361.7 347.9 L362.1 350.3 L362.5 352.8 L363 355.2 L363.4 357.6 L363.9 359.9 L364.4 362.3 L365 364.7 L365.6 367.1 L366.3 369.7 L367 372.3 L367.6 375 L368.3 377.5 L368.8 380 L369.3 382.2 L369.9 384.3 L370.5 386.3 L371.2 388.2 L371.9 390.2 L372.7 392.3 L373.6 394.4 L374.5 396.7 L375.5 398.9 L376.5 401.3 L377.6 403.6 L378.6 405.9 L379.7 408.3 L380.8 410.6 L381.9 412.9 L383 415.2 L384.1 417.5 L385.2 419.7 L386.3 421.9 L387.4 424.1 L388.6 426.2 L389.7 428.2 L390.8 430.2 L391.9 432 L393 433.9 L394.2 435.6 L395.4 437.4 L396.6 439.1 L397.9 440.8 L399.3 442.6 L400.8 444.4 L402.3 446.2 L403.8 448 L405.4 449.8 L407 451.5 L408.5 453.2 L410.1 454.9 L411.6 456.5 L413.1 458 L414.5 459.4 L416 460.7 L417.4 461.9 L418.8 463 L420.2 464.1 L421.6 465.1 L423 466 L424.4 466.8 L426 467.6 L427.6 468.4 L429.3 469.2 L431.1 469.9 L433 470.6 L435 471.4 L436.9 472 L438.9 472.7 L440.9 473.2 L442.8 473.8 L444.5 474.2 L446.4 474.6 L448.4 475 L450.6 475.4 L452.8 475.9 L455.2 476.3 L457.6 476.8 L459.9 477.3 L462.3 477.8 L464.6 478.3 L467 478.8 L469.3 479.2 L471.7 479.7 L474 480.2M377.5 265 L377.4 267.5 L377.2 270 L377.1 272.5 L376.9 275 L376.7 277.5 L376.5 279.9 L376.3 282.3 L376.1 284.6 L375.9 286.9 L375.7 289.1 L375.6 291.3 L375.4 293.4 L375.2 295.4 L375.1 297.4 L375 299.8 L374.9 302.2 L374.8 304.6 L374.8 307.1 L374.8 309.5 L374.7 311.9 L374.7 314.3 L374.7 316.7 L374.8 319 L374.8 321.3 L374.9 323.6 L375 325.8 L375.1 327.9 L375.3 330 L375.4 332.1 L375.6 334.2 L375.9 336.3 L376.2 338.4 L376.5 340.6 L376.8 342.9 L377.2 345.2 L377.6 347.5 L378 349.8 L378.4 352 L378.9 354.2 L379.3 356.4 L379.8 358.6 L380.3 360.8 L380.9 363.2 L381.6 365.7 L382.3 368.3 L383 370.9 L383.6 373.4 L384.1 375.7 L384.6 377.8 L385 379.6 L385.5 381.2 L386.1 382.8 L386.8 384.5 L387.5 386.3 L388.3 388.2 L389.2 390.3 L390.1 392.4 L391.1 394.6 L392.1 396.9 L393.1 399.1 L394.1 401.3 L395.2 403.6 L396.3 405.8 L397.3 408 L398.4 410.2 L399.5 412.3 L400.5 414.4 L401.5 416.3 L402.6 418.2 L403.6 420.1 L404.5 421.8 L405.5 423.4 L406.4 424.9 L407.4 426.4 L408.4 427.9 L409.5 429.3 L410.6 430.8 L411.9 432.3 L413.2 433.9 L414.5 435.6 L416 437.2 L417.4 438.8 L418.8 440.4 L420.2 442 L421.6 443.4 L422.9 444.8 L424.1 446 L425.3 447.1 L426.5 448.2 L427.5 449.1 L428.5 449.9 L429.5 450.6 L430.4 451.3 L431.3 451.9 L432.2 452.4 L433.2 452.9 L434.4 453.5 L435.7 454.1 L437.1 454.6 L438.6 455.2 L440.2 455.8 L441.8 456.3 L443.4 456.8 L445 457.3 L446.5 457.7 L447.7 458.1 L449.1 458.4 L450.7 458.7 L452.6 459.1 L454.6 459.5 L456.8 460 L459 460.4 L461.1 460.9 L463.3 461.4 L465.4 461.8 L467.6 462.3 L469.7 462.7 L471.8 463.1 L474 463.6M327.8 273.6 L343.5 276.5 L361.2 278.8 L376.5 279.9M326.8 292.9 L342.2 293.8 L359.7 294.8 L375.2 295.4M326.4 309.5 L341.8 309.5 L359.2 309.5 L374.8 309.5M326.8 326.1 L342 325.3 L359.3 324.4 L374.9 323.6M328.3 342.6 L343.3 340.6 L360.3 338.4 L375.9 336.3M331.5 361.6 L346.3 358.6 L363 355.2 L378.4 352M335.4 377.8 L350 374 L366.3 369.7 L381.6 365.7M339.6 393.8 L353.9 389.3 L369.9 384.3 L385 379.6M345.7 409.2 L359.3 403.3 L374.5 396.7 L389.2 390.3M353.9 426.8 L367.1 420.2 L381.9 412.9 L396.3 405.8M361.6 441.5 L374.3 434.2 L388.6 426.2 L402.6 418.2M370.4 455.5 L382.2 446.9 L395.4 437.4 L408.4 427.9M380.9 468.3 L391.8 458.7 L403.8 448 L416 437.2M394.5 482.1 L404 471.3 L414.5 459.4 L425.3 447.1M407.8 492 L415 479.6 L423 466 L431.3 451.9M422.9 498.8 L427.7 485.4 L433 470.6 L438.6 455.2M438.8 503.3 L441.5 489.5 L444.5 474.2 L447.7 458.1M457.9 506.6 L458.8 492.7 L459.9 477.3 L461.1 460.9M329 258.6 L344.4 261.1 L362.2 264 L377.5 265 L393.5 266 L409.5 266.5 L425.5 267 L441.5 267.5 L458 268 L474 268.4M474 290.2 L376 286.8M474 311.9 L374.8 308.4M474 332.7 L375.2 329.2M474 353.1 L378 349.7M474 373.5 L382.8 370.3M474 392.6 L388.9 389.6M474 411.6 L397.8 408.9M474 429.4 L407.9 427.1M474 446.6 L422.9 444.8M393.5 266 L395 403.2M409.5 266.5 L411 431.3M425.5 267 L427 448.6M441.5 267.4 L443 456.7M458 267.9 L459.5 460.5M674.6 75.9L684.2 83.2M724.6 35.6L715.7 49M473.5 22.5L459.8 14.6M765.9 17.7L761.5 8.8M473.5 40.1L487.7 50.1M734.6 9.5L719.4 21.7M473.5 22.5L473.5 5M331.6 161.6L349.3 181.5M344.4 261.1L360.4 248.2M604.2 23.5L622.4 20.9M341.1 124.6L335.7 142.9M654.1 113.9L668.1 106.8M427.4 67.8L423.5 84.4M582.9 58.1L578.1 39.5M751.5 18.2L750.6 2.8M532.4 110.5L535.9 92.2M567.7 105L578.6 90.9M668.1 106.8L682 99.8M764.6 -17.3L765.5 -3.4M607.9 99.7L588.5 108.3M473.5 22.5L488.4 12.9M647.3 79.1L662.3 77.1M702.7 57.6L712.4 67M425.8 114.8L433.3 98.5M747 60.8L743.2 47.4M513.6 154.6L495.7 159.6M584.7 -10.9L590.7 7.4M383.3 70L400.2 59.5M328.2 237.9L328.5 257M371 0L394.8 -11.8M715.7 49L712.4 67M409.3 166.9L424.2 151M625 54.1L609.9 52.1M519.8 23.9L504.2 18.6M451 91.5L444.6 110.8M715.7 49L712.8 34.9M659.6 48.6L643.1 50.4M328.5 257L344.4 261.1M473.5 22.5L490.6 31.8M747 60.8L758 53.2M623.5 72.5L637.9 66.4M791 30.4L791.8 19.7M532.4 110.5L539 130.2M696.7 73.1L702.7 57.6M423.5 84.4L433.1 77.2M710 -1.2L700.9 -13M758 53.2L769 45.6M416.3 100.9L423.5 84.4M500.1 145L504.3 129.7M617.3 -11.2L610.9 5.2M510.6 170.1L495.7 159.6M532.4 110.5L521.3 126.7M693.6 3.8L674.2 9.2M696.7 73.1L684.2 83.2M432.1 24.3L436.6 6.9M750.2 -11.8L765.5 -3.4M798.8 -7.9L795.5 3.5M387.6 136.3L385.8 109.4M374.9 159.3L392.7 163.1M550 80.2L550.2 99.3M537.1 29.2L553.8 27.6M547.9 158.6L551.4 143.1M398.8 29.1L413.2 24.9M638.6 93.4L623.2 89.4M375.8 185.7L349.3 181.5M588.5 108.3L572.7 124.5M451 91.5L462.2 73.8M387.6 136.3L412.6 131M432.1 24.3L435.8 48.6M833.6 -1.6L844.1 -9.7M487.4 99.1L484.7 84.7M515.9 140L521.3 126.7M700 41.5L689.5 24.4M473.5 127.7L491.3 116.9M545.9 -7.8L531.6 -0.2M498.8 86.8L489.9 69M556.5 130.6L572.7 124.5M327.8 218.8L341.7 237M547.2 11.3L537.1 29.2M582.9 58.1L588.6 76M517.3 8L531.6 -0.2M779 22.3L764.2 30.9M446.5 15.1L453.3 -0.2M632.7 36.4L615.2 38.1M442.2 147.6L454.7 157.8M515.9 140L513.6 154.6M377.2 238.5L360.4 248.2M702.7 57.6L688.1 56M604.2 23.5L588.4 26.5M671 62.1L653.5 63.5M349.3 181.5L357.9 202.1M444.6 110.8L425.8 114.8M674.6 75.9L683.2 69.8M734.6 9.5L750.6 2.8M631.2 1.9L617.3 -11.2M567.7 105L550.2 99.3M736 37.4L729.4 45.8M432.1 24.3L421 7.7M677.9 34.5L674.8 46.3M488.4 12.9L504.2 18.6M370.1 18.4L385.3 24.2M553 116.7L572.7 124.5M637.9 66.4L653.5 63.5M497.9 -12.1L486.9 -1.5M560.7 -1.8L556.1 -15M385.3 24.2L401.6 10.8M682 99.8L684.2 83.2M387.6 136.3L405.2 149.7M640.2 120.9L626.7 108.4M413.2 24.9L420.6 38.5M507.9 34.8L504.2 18.6M375.8 185.7L374.9 159.3M607.9 99.7L623.2 89.4M348.7 148.1L351.2 130.1M510.6 170.1L513.6 154.6M435.8 48.6L416.8 54.3M456.6 138.4L457.8 120.8M612.9 64.1L609.9 52.1M823 6.6L833.6 -1.6M612.8 133.3L607.3 120.4M412.6 131L437.7 130.8M671 62.1L674.8 46.3M532.4 110.5L517.4 93.4M779 22.3L791.8 19.7M719.4 21.7L719 7.5M526.2 57.4L536.1 45.8M728.9 59.5L712.4 67M751.5 18.2L765.9 17.7M743.2 47.4L747.8 33.4M357.9 202.1L342.9 212.8M457.1 53.8L443.7 71.2M724.6 35.6L729.4 45.8M751.5 18.2L761.5 8.8M529.2 165L531.9 147M390.5 89.8L374.6 91.4M441.1 173.3L454.7 157.8M473.5 57.6L457.1 53.8M590.7 7.4L570 18.5M765.5 -3.4L761.5 8.8M585.3 145.8L572.7 124.5M696.7 73.1L712.4 67M522.9 40.2L536.1 45.8M369.1 36.9L387.3 45.2M473.5 40.1L453.7 31.2M495.7 159.6L485.9 149.7M823 6.6L817.3 -7M473.5 127.7L473.5 110.1M348.3 106.8L366.9 115.3M622.4 20.9L615.2 38.1M396.6 -4.9L384.8 6M550 80.2L557 67.3M578.1 39.5L597.1 42.8M567.7 105L572.7 124.5M357.9 202.1L341.7 195.3M473.5 57.6L462.2 73.8M369.1 36.9L368.2 55.3M387.6 136.3L398.7 119.1M544.9 60.5L536.1 45.8M655.2 95.1L671.2 89.3M348.3 106.8L351.2 130.1M582.9 58.1L599.6 62.1M473.5 110.1L473.5 92.6M359.5 224.9L341.7 237M473.5 127.7L487.8 135.7M368.2 55.3L367.3 73.8M585.3 145.8L599 139.6M705.9 13.6L693.6 3.8M390.5 89.8L400.5 103.7M367.3 73.8L374.6 91.4M406.1 41.7L400.2 59.5M599 139.6L612.8 133.3M453.7 31.2L459.8 14.6M473.5 5L473.5 -12.5M376.7 212L357.9 202.1M674.2 9.2L667.6 -5.7M747 60.8L728.9 59.5M526.8 136.1L539 130.2M775.2 -11.9L765.5 -3.4M416.8 54.3L420.6 38.5M588.6 76L599.6 62.1M751.5 18.2L735.6 25.7M498.8 86.8L484.7 84.7M751.5 18.2L747.8 33.4M769 45.6L756.4 42M348.7 148.1L357.9 163.2M743.2 47.4L756.4 42M638.6 93.4L643.1 106.5M500.1 145L495.7 159.6M659.6 21.7L674.2 9.2M489.9 69L510.7 70.4M516.2 -7.7L517.3 8M331.6 161.6L329 180.5M632.7 36.4L622.4 20.9M662.3 77.1L671 62.1M578.6 90.9L588.5 108.3M411.9 -6.2L401.6 10.8M366.9 115.3L374.6 91.4M750.6 2.8L739.7 -3.4M437.5 160L454.7 157.8M550.2 99.3L553 116.7M563.9 54.1L578.1 39.5M588.4 26.5L578.1 39.5M659.6 48.6L671 62.1M735.6 25.7L747.8 33.4M526.8 136.1L521.3 126.7M501.7 2.3L504.2 18.6M444.6 110.8L460.3 105.4M511.2 50.9L526.2 57.4M696 92.7L708.7 84.7M674.8 46.3L688.1 56M473.5 145.2L485.9 149.7M615.2 38.1L597.1 42.8M705.9 13.6L689.5 24.4M773.7 9L765.5 -3.4M653.3 3.7L642.8 -8.9M563.9 54.1L563.6 36.5M424.2 151L437.7 130.8M712.8 34.9L705.3 27.1M499.8 57.2L499.3 44.9M686.2 40.8L688.1 56M696.7 73.1L688.1 56M623.2 89.4L607.1 79.5M457.7 177.1L473.5 162.7M412.6 131L410.3 114.1M499.3 44.9L487.7 50.1M575.2 -0.7L560.7 -1.8M585.3 145.8L590.5 127.4M569.2 73.9L550 80.2M473.5 110.1L457.8 120.8M537.1 29.2L519.8 23.9M682.5 -8.5L693.6 3.8M507.9 34.8L519.8 23.9M473.5 92.6L460.3 105.4M594.2 91L607.1 79.5M473.5 5L453.3 -0.2M488.4 12.9L490.6 31.8M726.1 -4.5L739.7 -3.4M437.2 85L433.3 98.5M387.6 136.3L366.9 115.3M807.9 3.8L817.3 -7M547.2 11.3L545.9 -7.8M335.7 142.9L331.6 161.6M406.1 41.7L416.8 54.3M743.2 47.4L728.9 59.5M335.7 142.9L348.7 148.1M409.3 166.9L405.2 149.7M798.8 -7.9L783 -1.9M607.9 99.7L607.3 120.4M734.6 9.5L719 7.5M500.1 145L513.6 154.6M653.3 3.7L674.2 9.2M682 99.8L696 92.7M643.1 50.4L653.5 63.5M451 91.5L443.7 71.2M385.8 109.4L374.6 91.4M659.6 21.7L641.3 20.2M599.6 62.1L607.1 79.5M492.1 175.1L473.5 162.7M416.3 100.9L410.3 114.1M473.5 92.6L487.4 99.1M488.4 12.9L501.7 2.3M507.9 34.8L511.2 50.9M569.2 73.9L578.6 90.9M473.5 5L488.4 12.9M444.6 110.8L433.3 98.5M734.6 9.5L735.6 25.7M724.6 35.6L736 37.4M473.5 92.6L484.7 84.7M779 22.3L765.9 17.7M490.6 31.8L504.2 18.6M344.4 261.1L362.2 264M641.3 20.2L632.7 36.4M406.1 41.7L413.2 24.9M625 54.1L637.9 66.4M396.6 -4.9L401.6 10.8M387.6 136.3L364.9 142.2M401.6 10.8L413.2 24.9M390.5 89.8L406 87.8M783 -1.9L765.5 -3.4M750.2 -11.8L739.7 -3.4M412.6 131L425.8 114.8M374.9 159.3L387.6 136.3M721.5 76.8L712.4 67M769 45.6L780 38M433.1 77.2L443.7 71.2M550 80.2L563.1 90.1M641.3 20.2L650.1 35.4M432.1 24.3L413.2 24.9M396.6 -4.9L394.8 -11.8M689.5 24.4L673.3 25.1M665.7 35.3L673.3 25.1M453.3 -0.2L436.6 6.9M442.2 147.6L437.5 160M710 -1.2L719 7.5M780 38L791 30.4M385.8 109.4L400.5 103.7M684.2 83.2L671.2 89.3M764.2 30.9L765.9 17.7M604.2 23.5L590.7 7.4M423.5 84.4L406 87.8M392.7 163.1L409.3 166.9M682 99.8L671.2 89.3M653.3 3.7L667.6 -5.7M700 41.5L712.8 34.9M662.3 77.1L671.2 89.3M612.9 64.1L599.6 62.1M489.9 69L487.7 50.1M409.3 166.9L424.6 170.7M609.9 52.1L599.6 62.1M511.2 113.4L504.3 129.7M702.7 57.6L715.7 49M751.5 18.2L734.6 9.5M331.6 161.6L357.9 163.2M329 180.5L349.3 181.5M473.5 162.7L454.7 157.8M329 180.5L341.7 195.3M724.6 35.6L712.8 34.9M360.4 248.2L359.5 224.9M473.5 145.2L456.6 138.4M631.2 1.9L641.3 20.2M773.7 9L783 -1.9M683.2 69.8L684.2 83.2M787.2 10.8L791.8 19.7M435.8 48.6L443.7 71.2M446.5 15.1L453.7 31.2M532.4 110.5L553 116.7M517.4 93.4L501.4 102.2M567.7 105L563.1 90.1M570.6 -15.5L575.2 -0.7M492.1 175.1L510.6 170.1M517.4 93.4L510.7 70.4M328.2 237.9L341.7 237M421 7.7L413.2 24.9M424.6 170.7L437.5 160M427.4 67.8L435.8 48.6M532.4 110.5L511.2 113.4M367.3 73.8L356.7 89.7M510.6 170.1L529.2 165M547.2 11.3L553.8 27.6M623.2 89.4L634.4 80.3M384.8 6L387.4 -6.6M457.1 53.8L435.8 48.6M441.1 173.3L437.5 160M473.5 75.1L473.5 57.6M812.5 14.7L799.6 12.5M801.9 22.8L791.8 19.7M507.9 34.8L499.3 44.9M473.5 162.7L495.7 159.6M374.9 159.3L364.9 142.2M604.2 23.5L610.9 5.2M566.6 139.1L551.4 143.1M674.6 75.9L671 62.1M550 42.3L544.9 60.5M421 7.7L401.6 10.8M710 -1.2L715.6 -11.9M362.2 264L360.4 248.2M427.4 67.8L411.6 71.5M517.3 8L504.2 18.6M421 7.7L436.6 6.9M396.6 -4.9L411.9 -6.2M375.8 185.7L357.9 163.2M575.2 -0.7L570 18.5M724.6 35.6L719.4 21.7M328.1 199.6L342.9 212.8M511.2 113.4L501.4 102.2M582.9 58.1L597.1 42.8M758 53.2L743.2 47.4M359.5 224.9L357.9 202.1M397.7 75.7L406 87.8M643.1 50.4L637.9 66.4M360.4 248.2L341.7 237M425.8 114.8L410.3 114.1M588.6 76L594.2 91M607.9 99.7L594.2 91M344.4 261.1L341.7 237M442.2 147.6L456.6 138.4M510.7 70.4L499.8 57.2M473.5 92.6L473.5 75.1M473.5 92.6L451 91.5M696 92.7L684.2 83.2M516.2 -7.7L531.6 -0.2M530.5 14.2L531.6 -0.2M570 18.5L578.1 39.5M517.4 93.4L535.9 92.2M377.2 238.5L359.5 224.9M369.1 36.9L385.3 24.2M612.8 133.3L626.5 127.1M590.5 127.4L588.5 108.3M416.3 100.9L400.5 103.7M537.1 29.2L522.9 40.2M726.1 -4.5L710 -1.2M599 139.6L607.3 120.4M487.4 99.1L498.8 86.8M556.5 130.6L539 130.2M507.9 34.8L522.9 40.2M566.6 152.2L551.4 143.1M696 92.7L696.7 73.1M570 18.5L563.6 36.5M511.2 50.9L499.8 57.2M446.5 15.1L436.6 6.9M453.5 -17.4L453.3 -0.2M604.2 23.5L597.1 42.8M647.3 79.1L634.4 80.3M329 180.5L328.1 199.6M473.5 110.1L491.3 116.9M457.8 120.8L437.7 130.8M499.8 57.2L487.7 50.1M623.5 72.5L607.1 79.5M456.6 138.4L437.7 130.8M570 18.5L588.4 26.5M550 80.2L535.9 92.2M435.8 48.6L420.6 38.5M569.2 73.9L557 67.3M659.6 21.7L665.7 35.3M708.7 84.7L721.5 76.8M356.7 89.7L366.9 115.3M693.6 3.8L689.5 24.4M625 54.1L612.9 64.1M833.6 -1.6L817.3 -7M432.1 24.3L446.5 15.1M659.6 48.6L665.7 35.3M511.2 113.4L491.3 116.9M569.2 73.9L588.6 76M532.5 -15.4L531.6 -0.2M625 54.1L623.5 72.5M547.9 158.6L531.9 147M655.2 95.1L643.1 106.5M473.5 40.1L457.1 53.8M721.5 76.8L728.9 59.5M550 80.2L544.9 60.5M653.3 3.7L659.6 21.7M421 7.7L411.9 -6.2M377.5 265L377.2 238.5M780 38L779 22.3M582.9 58.1L563.9 54.1M607.9 99.7L626.7 108.4M423.5 84.4L411.6 71.5M473.5 75.1L489.9 69M631.2 1.9L610.9 5.2M398.7 119.1L385.8 109.4M519.8 23.9L530.5 14.2M783 -1.9L795.5 3.5M390.5 89.8L383.3 70M674.6 75.9L671.2 89.3M500.1 145L487.8 135.7M530.5 14.2L517.3 8M647.3 79.1L655.2 95.1M715.7 49L728.9 59.5M487.4 99.1L501.4 102.2M791 30.4L779 22.3M643.1 50.4L650.1 35.4M529.2 165L513.6 154.6M662.3 77.1L653.5 63.5M443.7 71.2L462.2 73.8M659.6 48.6L653.5 63.5M654.1 113.9L655.2 95.1M626.5 127.1L607.3 120.4M547.2 11.3L560.7 -1.8M594.2 91L588.5 108.3M550 42.3L537.1 29.2M406 87.8L400.5 103.7M665.7 35.3L674.8 46.3M375.8 185.7L357.9 202.1M640.2 120.9L643.1 106.5M726.1 -4.5L734.6 9.5M769 45.6L764.2 30.9M451 91.5L437.2 85M511.2 113.4L521.3 126.7M705.9 13.6L719.4 21.7M604.2 23.5L615.2 38.1M625 54.1L615.2 38.1M457.7 177.1L454.7 157.8M398.8 29.1L387.3 45.2M368.2 55.3L387.3 45.2M457.1 53.8L453.7 31.2M743.2 47.4L729.4 45.8M773.7 9L765.9 17.7M473.5 22.5L453.7 31.2M367.3 73.8L383.3 70M366.9 115.3L385.8 109.4M747.8 33.4L756.4 42M750.2 -11.8L750.6 2.8M437.2 85L443.7 71.2M773.7 9L761.5 8.8M385.3 24.2L387.3 45.2M653.3 3.7L631.2 1.9M491.3 116.9L504.3 129.7M791 30.4L801.9 22.8M416.3 100.9L406 87.8M341.1 124.6L351.2 130.1M532.4 110.5L550.2 99.3M427.4 67.8L416.8 54.3M383.3 70L374.6 91.4M609.9 52.1L597.1 42.8M641.3 20.2L622.4 20.9M631.2 1.9L642.8 -8.9M812.5 14.7L807.9 3.8M655.2 95.1L638.6 93.4M411.6 71.5L406 87.8M473.7 179.6L473.5 162.7M674.2 9.2L673.3 25.1M563.9 54.1L557 67.3M550 42.3L536.1 45.8M539 130.2L521.3 126.7M705.9 13.6L710 -1.2M487.4 99.1L491.3 116.9M705.3 27.1L689.5 24.4M612.9 64.1L623.5 72.5M397.7 75.7L411.6 71.5M331.6 161.6L348.7 148.1M537.1 29.2L530.5 14.2M424.6 170.7L441.1 173.3M569.2 73.9L563.9 54.1M473.5 110.1L487.4 99.1M807.9 3.8L795.5 3.5M349.3 181.5L341.7 195.3M423.5 84.4L433.3 98.5M623.5 72.5L634.4 80.3M787.2 10.8L783 -1.9M750.6 2.8L761.5 8.8M473.5 40.1L490.6 31.8M578.6 90.9L588.6 76M570 18.5L553.8 27.6M728.9 59.5L729.4 45.8M362.2 264L377.5 265M453.3 -0.2L459.8 14.6M655.2 95.1L662.3 77.1M588.4 26.5L597.1 42.8M406.1 41.7L420.6 38.5M775.2 -11.9L783 -1.9M473.5 75.1L484.7 84.7M456.6 138.4L454.7 157.8M473.5 57.6L487.7 50.1M736.8 -12.2L739.7 -3.4M569.2 73.9L563.1 90.1M492.1 175.1L495.7 159.6M425.8 114.8L437.7 130.8M653.3 3.7L655.7 -12.8M511.2 113.4L517.4 93.4M516.2 -7.7L501.7 2.3M442.2 147.6L424.2 151M625 54.1L643.1 50.4M397.7 75.7L383.3 70M432.1 24.3L420.6 38.5M491.3 116.9L501.4 102.2M599 139.6L590.5 127.4M498.8 86.8L501.4 102.2M566.6 152.2L566.6 139.1M498.8 86.8L510.7 70.4M371 0L387.4 -6.6M702.7 57.6L700 41.5M405.2 149.7L424.2 151M710 -1.2L693.6 3.8M392.7 163.1L387.6 136.3M659.6 21.7L673.3 25.1M473.5 -12.5L453.3 -0.2M715.7 49L700 41.5M609.9 52.1L615.2 38.1M416.3 100.9L425.8 114.8M570.6 -15.5L560.7 -1.8M590.7 7.4L575.2 -0.7M590.7 7.4L588.4 26.5M783 -1.9L785.6 -14.7M653.3 3.7L641.3 20.2M556.5 130.6L551.4 143.1M390.5 89.8L397.7 75.7M437.2 85L433.1 77.2M377.5 265L360.4 248.2M550 42.3L563.6 36.5M473.5 145.2L454.7 157.8M530.8 76L510.7 70.4M519.8 23.9L522.9 40.2M424.6 170.7L424.2 151M550.2 99.3L563.1 90.1M599.6 62.1L597.1 42.8M529.2 165L547.9 158.6M626.7 108.4L623.2 89.4M497.9 -12.1L501.7 2.3M799.6 12.5L791.8 19.7M488.4 12.9L486.9 -1.5M487.8 135.7L485.9 149.7M726.1 -4.5L719 7.5M677.9 34.5L665.7 35.3M500.1 145L485.9 149.7M473.5 127.7L456.6 138.4M513.6 154.6L531.9 147M515.9 140L531.9 147M625 54.1L632.7 36.4M397.7 75.7L400.2 59.5M526.8 136.1L515.9 140M473.5 57.6L473.5 40.1M398.7 119.1L410.3 114.1M547.2 11.3L570 18.5M787.2 10.8L795.5 3.5M356.7 89.7L348.3 106.8M743.2 47.4L736 37.4M724.6 35.6L735.6 25.7M384.8 6L401.6 10.8M588.6 76L607.1 79.5M607.9 99.7L607.1 79.5M700 41.5L688.1 56M640.2 120.9L654.1 113.9M385.3 24.2L398.8 29.1M590.5 127.4L607.3 120.4M489.9 69L499.8 57.2M600.4 -9.7L590.7 7.4M569.2 73.9L582.9 58.1M473.5 92.6L462.2 73.8M799.6 12.5L795.5 3.5M489.9 69L484.7 84.7M647.3 79.1L653.5 63.5M665.7 35.3L650.1 35.4M374.9 159.3L357.9 163.2M416.8 54.3L400.2 59.5M473.5 5L486.9 -1.5M473.7 179.6L492.1 175.1M500.1 145L515.9 140M437.2 85L423.5 84.4M473.5 75.1L462.2 73.8M328.1 199.6L341.7 195.3M683.2 69.8L671 62.1M764.2 30.9L756.4 42M519.8 23.9L517.3 8M747.8 33.4L736 37.4M578.1 39.5L563.6 36.5M578.6 90.9L563.1 90.1M563.9 54.1L550 42.3M328.5 257L341.7 237M686.2 40.8L677.9 34.5M437.5 160L424.2 151M550 80.2L530.8 76M526.2 57.4L522.9 40.2M504.3 129.7L521.3 126.7M457.8 120.8L460.3 105.4M626.5 127.1L626.7 108.4M366.9 115.3L351.2 130.1M726.1 -4.5L715.6 -11.9M398.8 29.1L401.6 10.8M547.2 11.3L531.6 -0.2M700 41.5L705.3 27.1M453.3 -0.2L432.2 -10.1M659.6 21.7L650.1 35.4M446.5 15.1L459.8 14.6M530.8 76L535.9 92.2M584.7 -10.9L575.2 -0.7M412.6 131L405.2 149.7M626.5 127.1L640.2 120.9M659.6 48.6L650.1 35.4M735.6 25.7L736 37.4M556.5 130.6L553 116.7M566.6 139.1L572.7 124.5M570 18.5L560.7 -1.8M600.4 -9.7L610.9 5.2M406.1 41.7L387.3 45.2M638.6 93.4L634.4 80.3M364.9 142.2L351.2 130.1M539 130.2L551.4 143.1M833.6 -1.6L829.8 -14.2M686.2 40.8L700 41.5M530.8 76L544.9 60.5M567.7 105L588.5 108.3M631.2 1.9L622.4 20.9M387.3 45.2L383.3 70M328.1 199.6L327.8 218.8M366.9 115.3L364.9 142.2M501.7 2.3L486.9 -1.5M427.4 67.8L443.7 71.2M526.2 57.4L510.7 70.4M390.5 89.8L385.8 109.4M504.3 129.7L487.8 135.7M327.8 218.8L328.2 237.9M715.7 49L729.4 45.8M721.5 76.8L734.2 68.8M490.6 31.8L487.7 50.1M473.5 145.2L487.8 135.7M693.6 3.8L700.9 -13M708.7 84.7L696.7 73.1M590.5 127.4L572.7 124.5M686.2 40.8L674.8 46.3M327.8 218.8L342.9 212.8M537.1 29.2L536.1 45.8M734.2 68.8L747 60.8M491.3 116.9L487.8 135.7M643.1 50.4L632.7 36.4M511.2 50.9L499.3 44.9M734.6 9.5L739.7 -3.4M348.7 148.1L364.9 142.2M545.9 -7.8L560.7 -1.8M550 42.3L553.8 27.6M626.7 108.4L643.1 106.5M377.2 238.5L376.7 212M637.9 66.4L634.4 80.3M705.9 13.6L719 7.5M410.3 114.1L400.5 103.7M412.6 131L398.7 119.1M473.5 127.7L457.8 120.8M342.9 212.8L341.7 237M473.5 -12.5L486.9 -1.5M412.6 131L424.2 151M526.8 136.1L531.9 147M807.9 3.8L799.6 12.5M376.7 212L375.8 185.7M758 53.2L756.4 42M801.9 22.8L812.5 14.7M696.7 73.1L683.2 69.8M773.7 9L787.2 10.8M683.2 69.8L688.1 56M712.8 34.9L719.4 21.7M787.2 10.8L779 22.3M626.7 108.4L607.3 120.4M682.5 -8.5L674.2 9.2M515.9 140L504.3 129.7M812.5 14.7L823 6.6M677.9 34.5L689.5 24.4M671 62.1L688.1 56M387.3 45.2L400.2 59.5M556.5 130.6L566.6 139.1M371 0L384.8 6M612.9 64.1L607.1 79.5M550.2 99.3L535.9 92.2M376.7 212L359.5 224.9M416.3 100.9L433.3 98.5M441.1 173.3L457.7 177.1M392.7 163.1L405.2 149.7M807.9 3.8L798.8 -7.9M499.3 44.9L490.6 31.8M396.6 -4.9L403.4 -13.7M364.9 142.2L357.9 163.2M411.6 71.5L400.2 59.5M677.9 34.5L673.3 25.1M457.7 177.1L473.7 179.6M421 7.7L432.2 -10.1M567.7 105L553 116.7M444.6 110.8L457.8 120.8M623.5 72.5L623.2 89.4M498.8 86.8L517.4 93.4M370.1 18.4L384.8 6M398.7 119.1L400.5 103.7M473.5 162.7L485.9 149.7M473.5 145.2L473.5 127.7M647.3 79.1L637.9 66.4M368.2 55.3L383.3 70M370.1 18.4L369.1 36.9M659.6 48.6L674.8 46.3M453.7 31.2L435.8 48.6M610.9 5.2L622.4 20.9M432.2 -10.1L436.6 6.9M686.2 40.8L689.5 24.4M654.1 113.9L643.1 106.5M674.2 9.2L689.5 24.4M708.7 84.7L712.4 67M473.5 110.1L460.3 105.4M773.7 9L779 22.3M341.7 195.3L342.9 212.8M451 91.5L460.3 105.4M551.4 143.1L531.9 147M735.6 25.7L719.4 21.7M607.3 120.4L588.5 108.3M530.8 76L517.4 93.4M734.2 68.8L728.9 59.5M539 130.2L553 116.7M747.8 33.4L764.2 30.9M511.2 50.9L522.9 40.2M553.8 27.6L563.6 36.5M359.5 224.9L342.9 212.8M473.5 57.6L489.9 69M539 130.2L531.9 147M427.4 67.8L433.1 77.2M457.1 53.8L462.2 73.8M444.6 110.8L437.7 130.8M547.2 11.3L530.5 14.2M751.5 18.2L764.2 30.9M526.2 57.4L544.9 60.5M626.7 108.4L638.6 93.4M726.1 -4.5L726.3 -18.3M335.7 142.9L351.2 130.1M544.9 60.5L557 67.3M356.7 89.7L374.6 91.4M705.3 27.1L719.4 21.7M632.7 36.4L650.1 35.4M432.1 24.3L453.7 31.2M442.2 147.6L437.7 130.8M705.9 13.6L705.3 27.1M585.3 145.8L566.6 139.1M563.9 54.1L544.9 60.5M787.2 10.8L799.6 12.5M823 6.6L807.9 3.8M668.1 106.8L655.2 95.1M631 -15L631.2 1.9M473.5 162.7L473.5 145.2M406.1 41.7L398.8 29.1M507.9 34.8L490.6 31.8M578.6 90.9L594.2 91M511.2 50.9L510.7 70.4M530.8 76L526.2 57.4M473.5 5L459.8 14.6M371 0L370.1 18.4M780 38L764.2 30.9M396.6 -4.9L387.4 -6.6M411.6 71.5L416.8 54.3M501.7 2.3L517.3 8M590.7 7.4L610.9 5.2M750.6 2.8L765.5 -3.4M349.3 181.5L357.9 163.2M547.9 158.6L566.6 152.2M385.3 24.2L384.8 6M801.9 22.8L799.6 12.5M647.3 79.1L638.6 93.4M668.1 106.8L671.2 89.3M371 0L399.8 -15.4M566.6 152.2L585.3 145.8M451 91.5L433.3 98.5M473.5 40.1L473.5 22.5M674.6 75.9L662.3 77.1M726.1 -4.5L736.8 -12.2M348.3 106.8L341.1 124.6" fill="none" stroke="#000" stroke-width="1" stroke-linejoin="round" stroke-linecap="round"/>
</g>
<path d="M371 0 L367.3 73.8 L366.3 75.1 L365 76.8 L363.5 78.9 L361.8 81.3 L360.1 83.9 L358.4 86.6 L356.8 89.5 L355 92.7 L353.3 96.2 L351.6 99.7 L349.8 103.4 L348.2 107 L346.6 110.7 L345 114.4 L343.5 118.2 L342 122.1 L340.6 126 L339.3 130 L338.1 134.1 L336.9 138.2 L335.8 142.4 L334.8 146.6 L333.9 150.8 L333 155 L332.2 159 L331.4 162.8 L330.7 166.6 L330 170.6 L329.5 175 L329 180 L328.6 185.7 L328.3 192 L328.1 198.7 L328 205.6 L327.9 212.4 L327.8 219 L327.8 225.3 L328 231.5 L328.2 237.7 L328.4 243.9 L328.5 250.3 L328.5 257 L328.3 264.1 L327.9 271.6 L327.5 279.3 L327.1 286.9 L326.7 294.2 L326.5 301 L326.4 307.2 L326.4 313 L326.5 318.5 L326.7 323.8 L326.9 328.9 L327.3 334 L327.8 339 L328.4 344 L329.2 348.8 L330 353.4 L330.8 357.8 L331.6 362 L332.4 365.9 L333.2 369.5 L334.1 372.9 L335 376.1 L335.8 379.2 L336.7 382.4 L337.5 385.4 L338.1 388.1 L338.8 390.7 L339.5 393.5 L340.5 396.5 L341.8 400 L343.5 404.1 L345.5 408.7 L347.7 413.7 L350 418.7 L352.3 423.5 L354.5 428 L356.6 432.2 L358.7 436.2 L360.8 440.1 L362.9 443.9 L365.1 447.5 L367.3 451 L369.5 454.3 L371.8 457.4 L374.1 460.3 L376.5 463.2 L378.9 466 L381.3 468.7 L383.8 471.4 L386.3 474.2 L388.9 476.8 L391.5 479.4 L394 481.8 L396.6 484 L399.1 486 L401.5 487.9 L403.9 489.6 L406.4 491.2 L409 492.7 L411.8 494.2 L414.9 495.7 L418.2 497.1 L421.7 498.4 L425.2 499.6 L428.7 500.8 L432.2 501.8 L435.6 502.7 L439 503.4 L442.3 504 L445.7 504.5 L449.1 505.1 L452.6 505.7 L456.4 506.4 L460.5 507.1 L464.7 507.8 L468.6 508.5 L471.8 509.1 L474.2 509.5 L535.5 495.5 L599.2 480.9 L663.6 466.2 L730.3 450.9 L801.8 434.7 L879.6 410.4 L962.7 357.9 L1037.4 290.8 L1105.9 214.3 L1169.8 136.2 L1228.8 53 L1280.4 -27" fill="none" stroke="#000" stroke-width="1.2" stroke-linejoin="round"/>
<defs><linearGradient id="lg" x1="0" x2="1" y1="0" y2="0"><stop offset="0.0000" stop-color="#041ee8"/><stop offset="0.0399" stop-color="#0824e8"/><stop offset="0.0798" stop-color="#285ce4"/><stop offset="0.1497" stop-color="#3476e2"/><stop offset="0.2196" stop-color="#408ce2"/><stop offset="0.2994" stop-color="#50aae4"/><stop offset="0.3493" stop-color="#5cc8f0"/><stop offset="0.3792" stop-color="#64defa"/><stop offset="0.4291" stop-color="#66e4f8"/><stop offset="0.4591" stop-color="#6ce2cd"/><stop offset="0.4840" stop-color="#68de87"/><stop offset="0.5090" stop-color="#66dc50"/><stop offset="0.5489" stop-color="#6cdc42"/><stop offset="0.5988" stop-color="#8ce138"/><stop offset="0.6238" stop-color="#c8f03c"/><stop offset="0.6587" stop-color="#e4ea36"/><stop offset="0.6986" stop-color="#eae432"/><stop offset="0.7385" stop-color="#e9d830"/><stop offset="0.7984" stop-color="#e6bc28"/><stop offset="0.8483" stop-color="#e1961c"/><stop offset="0.8982" stop-color="#dc6e0f"/><stop offset="0.9481" stop-color="#d74608"/><stop offset="1.0000" stop-color="#d63808"/></linearGradient></defs><rect x="438" y="679" width="300" height="15" fill="url(#lg)"/><rect x="449.1" y="673.2" width="1.8" height="5.8" fill="#b4b4b4"/><rect x="461.1" y="673.2" width="1.8" height="5.8" fill="#b4b4b4"/><rect x="473.0" y="673.2" width="1.8" height="5.8" fill="#b4b4b4"/><rect x="485.0" y="673.2" width="1.8" height="5.8" fill="#b4b4b4"/><rect x="496.9" y="670" width="2" height="9" fill="#666"/><rect x="509.0" y="673.2" width="1.8" height="5.8" fill="#b4b4b4"/><rect x="520.9" y="673.2" width="1.8" height="5.8" fill="#b4b4b4"/><rect x="532.9" y="673.2" width="1.8" height="5.8" fill="#b4b4b4"/><rect x="544.9" y="673.2" width="1.8" height="5.8" fill="#b4b4b4"/><rect x="556.8" y="670" width="2" height="9" fill="#666"/><rect x="568.8" y="673.2" width="1.8" height="5.8" fill="#b4b4b4"/><rect x="580.8" y="673.2" width="1.8" height="5.8" fill="#b4b4b4"/><rect x="592.8" y="673.2" width="1.8" height="5.8" fill="#b4b4b4"/><rect x="604.8" y="673.2" width="1.8" height="5.8" fill="#b4b4b4"/><rect x="616.6" y="670" width="2" height="9" fill="#666"/><rect x="628.7" y="673.2" width="1.8" height="5.8" fill="#b4b4b4"/><rect x="640.7" y="673.2" width="1.8" height="5.8" fill="#b4b4b4"/><rect x="652.7" y="673.2" width="1.8" height="5.8" fill="#b4b4b4"/><rect x="664.6" y="673.2" width="1.8" height="5.8" fill="#b4b4b4"/><rect x="676.5" y="670" width="2" height="9" fill="#666"/><rect x="688.6" y="673.2" width="1.8" height="5.8" fill="#b4b4b4"/><rect x="700.6" y="673.2" width="1.8" height="5.8" fill="#b4b4b4"/><rect x="712.5" y="673.2" width="1.8" height="5.8" fill="#b4b4b4"/><rect x="724.5" y="673.2" width="1.8" height="5.8" fill="#b4b4b4"/><rect x="438" y="670" width="1" height="9" fill="#444"/><rect x="737" y="670" width="1" height="9" fill="#444"/><path d="M432.1 702.9L438 695.2L443.9 702.9Z" fill="#000"/><path d="M732.1 702.9L738 695.2L743.9 702.9Z" fill="#000"/>
<circle cx="614.5" cy="620.5" r="6.3" fill="none" stroke="#aaa" stroke-width="0.8" stroke-dasharray="1.5 1"/>
<path d="M611.8 618.5h5.4M611.8 620.5h5.4M611.8 622.5h5.4" stroke="#666" stroke-width="0.9" fill="none"/>
<path d="M711.3 618.4l3.4 3.2l3.4 -3.2" stroke="#777" stroke-width="1" fill="none"/>
</svg>
<div class="t" id="ttl" style="left:458px;top:613px;font-size:13.2px;color:#444;-webkit-text-stroke:0.35px #444;letter-spacing:0.0px">Displacement Magnitude</div>
<div class="t" style="left:647px;top:613px;font-size:13px;color:#555">mm</div>
<div class="tk" style="left:432px">0</div>
<div class="tk" style="left:497px">2</div>
<div class="tk" style="left:556px">4</div>
<div class="tk" style="left:614px">6</div>
<div class="tk" style="left:672px">8</div>
<div class="tk" style="left:727px">10.02</div>
</body></html>
